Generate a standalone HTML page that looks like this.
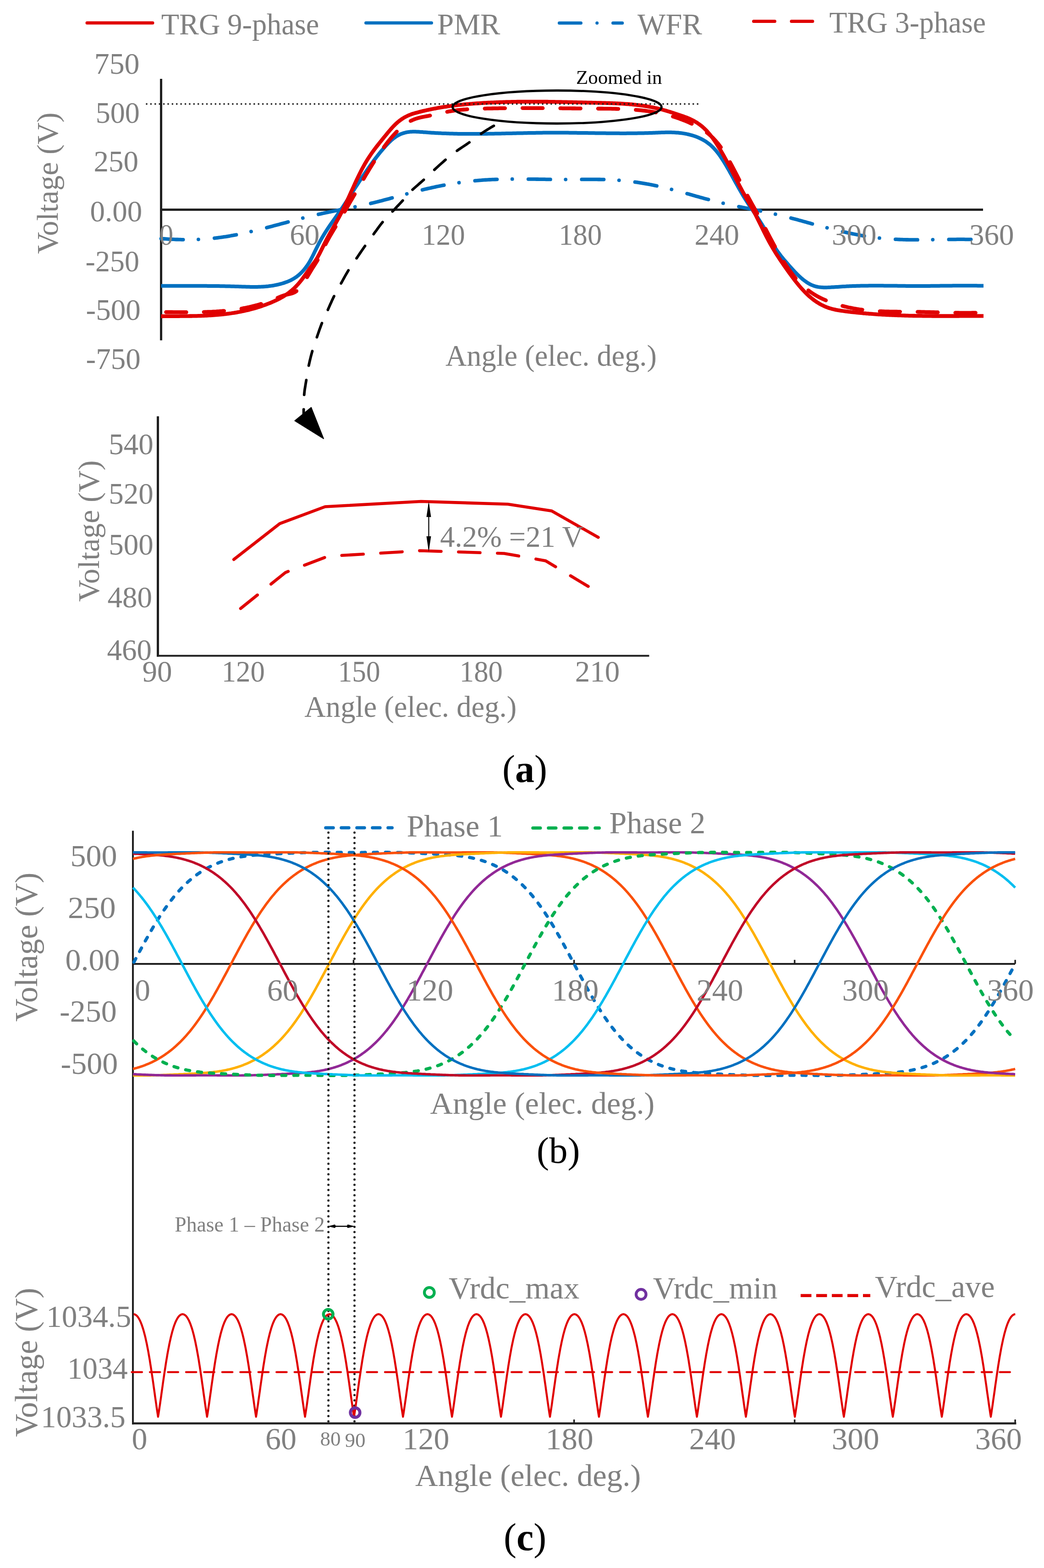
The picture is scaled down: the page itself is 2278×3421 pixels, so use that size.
<!DOCTYPE html>
<html><head><meta charset="utf-8"><title>Figure</title>
<style>
html,body{margin:0;padding:0;background:#fff;}
svg{display:block;}
text{font-family:"Liberation Serif",serif;}
</style></head>
<body>
<svg width="2278" height="3421" viewBox="0 0 2278 3421">
<rect width="2278" height="3421" fill="#fff"/>
<line x1="190" y1="50" x2="333" y2="50" stroke="#e00000" stroke-width="7" stroke-linecap="round"/>
<line x1="798.5" y1="50" x2="941.5" y2="50" stroke="#0070c0" stroke-width="7" stroke-linecap="round"/>
<path d="M1220.4,50.3L1357.8,50.3" fill="none" stroke="#0070c0" stroke-width="7" stroke-linecap="round" stroke-dasharray="47.1 35.2 0.01 34.8"/>
<path d="M1644.5,46.6L1776,46.6" fill="none" stroke="#e00000" stroke-width="7" stroke-linecap="round" stroke-dasharray="46 36.5"/>
<line x1="351.5" y1="172" x2="351.5" y2="742.5" stroke="#202020" stroke-width="5" />
<line x1="349" y1="457.5" x2="2145" y2="457.5" stroke="#202020" stroke-width="5" />
<path d="M351.5,520.6L354.5,520.8L357.5,521.0L360.5,521.2L363.5,521.4L366.5,521.6L369.5,521.8L372.5,521.9L375.5,522.1L378.5,522.2L381.5,522.3L384.5,522.5L387.5,522.5L390.5,522.6L393.5,522.7L396.5,522.8L399.5,522.8L402.5,522.8L405.5,522.8L408.5,522.9L411.5,522.8L414.5,522.8L417.5,522.8L420.5,522.7L423.5,522.6L426.5,522.5L429.5,522.4L432.5,522.3L435.5,522.2L438.5,522.0L441.5,521.9L444.5,521.7L447.5,521.5L450.5,521.2L453.5,521.0L456.5,520.7L459.5,520.5L462.5,520.2L465.5,519.9L468.5,519.5L471.5,519.2L474.5,518.8L477.5,518.4L480.5,518.0L483.5,517.6L486.5,517.2L489.5,516.7L492.5,516.3L495.5,515.8L498.5,515.3L501.5,514.8L504.5,514.2L507.5,513.7L510.5,513.1L513.5,512.6L516.5,512.0L519.5,511.4L522.5,510.8L525.5,510.2L528.5,509.5L531.5,508.9L534.5,508.2L537.5,507.6L540.5,506.9L543.5,506.2L546.5,505.5L549.5,504.8L552.5,504.1L555.5,503.4L558.5,502.6L561.5,501.9L564.5,501.2L567.5,500.4L570.5,499.7L573.5,498.9L576.5,498.1L579.5,497.4L582.5,496.6L585.5,495.8L588.5,495.0L591.5,494.2L594.5,493.4L597.5,492.6L600.5,491.8L603.5,491.0L606.5,490.2L609.5,489.4L612.5,488.6L615.5,487.8L618.5,487.0L621.5,486.2L624.5,485.4L627.5,484.6L630.5,483.8L633.5,483.0L636.5,482.2L639.5,481.4L642.5,480.6L645.5,479.8L648.5,479.0L651.5,478.2L654.5,477.4L657.5,476.7L660.5,475.9L663.5,475.1L666.5,474.4L669.5,473.6L672.5,472.9L675.5,472.2L678.5,471.4L681.5,470.7L684.5,470.0L687.5,469.3L690.5,468.6L693.5,467.9L696.5,467.2L699.5,466.6L702.5,465.9L705.5,465.3L708.5,464.6L711.5,464.0L714.5,463.4L717.5,462.7L720.5,462.1L723.5,461.5L726.5,460.9L729.5,460.3L732.5,459.7L735.5,459.1L738.5,458.5L741.5,457.9L744.5,457.3L747.5,456.7L750.5,456.1L753.5,455.6L756.5,455.0L759.5,454.4L762.5,453.8L765.5,453.2L768.5,452.6L771.5,451.9L774.5,451.3L777.5,450.7L780.5,450.1L783.5,449.5L786.5,448.8L789.5,448.2L792.5,447.5L795.5,446.9L798.5,446.2L801.5,445.5L804.5,444.8L807.5,444.1L810.5,443.4L813.5,442.7L816.5,442.0L819.5,441.2L822.5,440.5L825.5,439.7L828.5,438.9L831.5,438.2L834.5,437.4L837.5,436.6L840.5,435.8L843.5,435.0L846.5,434.2L849.5,433.4L852.5,432.6L855.5,431.8L858.5,431.0L861.5,430.1L864.5,429.3L867.5,428.5L870.5,427.7L873.5,426.9L876.5,426.0L879.5,425.2L882.5,424.4L885.5,423.6L888.5,422.8L891.5,422.0L894.5,421.2L897.5,420.4L900.5,419.6L903.5,418.8L906.5,418.0L909.5,417.3L912.5,416.5L915.5,415.7L918.5,415.0L921.5,414.3L924.5,413.5L927.5,412.8L930.5,412.1L933.5,411.4L936.5,410.7L939.5,410.1L942.5,409.4L945.5,408.7L948.5,408.1L951.5,407.4L954.5,406.8L957.5,406.2L960.5,405.6L963.5,405.0L966.5,404.4L969.5,403.9L972.5,403.3L975.5,402.8L978.5,402.2L981.5,401.7L984.5,401.2L987.5,400.7L990.5,400.2L993.5,399.7L996.5,399.3L999.5,398.8L1002.5,398.4L1005.5,398.0L1008.5,397.5L1011.5,397.2L1014.5,396.8L1017.5,396.4L1020.5,396.0L1023.5,395.7L1026.5,395.3L1029.5,395.0L1032.5,394.7L1035.5,394.4L1038.5,394.1L1041.5,393.9L1044.5,393.6L1047.5,393.4L1050.5,393.2L1053.5,392.9L1056.5,392.7L1059.5,392.5L1062.5,392.4L1065.5,392.2L1068.5,392.0L1071.5,391.9L1074.5,391.7L1077.5,391.6L1080.5,391.5L1083.5,391.4L1086.5,391.3L1089.5,391.2L1092.5,391.1L1095.5,391.0L1098.5,391.0L1101.5,390.9L1104.5,390.8L1107.5,390.8L1110.5,390.8L1113.5,390.7L1116.5,390.7L1119.5,390.7L1122.5,390.7L1125.5,390.7L1128.5,390.6L1131.5,390.7L1134.5,390.7L1137.5,390.7L1140.5,390.7L1143.5,390.7L1146.5,390.7L1149.5,390.7L1152.5,390.8L1155.5,390.8L1158.5,390.8L1161.5,390.9L1164.5,390.9L1167.5,390.9L1170.5,391.0L1173.5,391.0L1176.5,391.1L1179.5,391.1L1182.5,391.1L1185.5,391.2L1188.5,391.2L1191.5,391.3L1194.5,391.3L1197.5,391.4L1200.5,391.4L1203.5,391.4L1206.5,391.5L1209.5,391.5L1212.5,391.5L1215.5,391.5L1218.5,391.6L1221.5,391.6L1224.5,391.6L1227.5,391.6L1230.5,391.6L1233.5,391.6L1236.5,391.6L1239.5,391.6L1242.5,391.6L1245.5,391.6L1248.5,391.6L1251.5,391.5L1254.5,391.5L1257.5,391.5L1260.5,391.5L1263.5,391.5L1266.5,391.4L1269.5,391.4L1272.5,391.4L1275.5,391.4L1278.5,391.4L1281.5,391.4L1284.5,391.4L1287.5,391.4L1290.5,391.4L1293.5,391.4L1296.5,391.4L1299.5,391.4L1302.5,391.4L1305.5,391.5L1308.5,391.5L1311.5,391.6L1314.5,391.6L1317.5,391.7L1320.5,391.8L1323.5,391.9L1326.5,392.0L1329.5,392.1L1332.5,392.2L1335.5,392.4L1338.5,392.6L1341.5,392.7L1344.5,392.9L1347.5,393.1L1350.5,393.3L1353.5,393.6L1356.5,393.8L1359.5,394.1L1362.5,394.4L1365.5,394.7L1368.5,395.0L1371.5,395.4L1374.5,395.7L1377.5,396.1L1380.5,396.5L1383.5,396.9L1386.5,397.3L1389.5,397.7L1392.5,398.2L1395.5,398.6L1398.5,399.1L1401.5,399.6L1404.5,400.1L1407.5,400.6L1410.5,401.1L1413.5,401.7L1416.5,402.2L1419.5,402.8L1422.5,403.4L1425.5,404.0L1428.5,404.6L1431.5,405.2L1434.5,405.9L1437.5,406.5L1440.5,407.2L1443.5,407.9L1446.5,408.6L1449.5,409.3L1452.5,410.0L1455.5,410.7L1458.5,411.4L1461.5,412.2L1464.5,413.0L1467.5,413.7L1470.5,414.5L1473.5,415.3L1476.5,416.1L1479.5,416.9L1482.5,417.7L1485.5,418.6L1488.5,419.4L1491.5,420.2L1494.5,421.1L1497.5,421.9L1500.5,422.8L1503.5,423.6L1506.5,424.5L1509.5,425.3L1512.5,426.2L1515.5,427.0L1518.5,427.9L1521.5,428.7L1524.5,429.6L1527.5,430.4L1530.5,431.2L1533.5,432.1L1536.5,432.9L1539.5,433.7L1542.5,434.5L1545.5,435.3L1548.5,436.1L1551.5,436.9L1554.5,437.7L1557.5,438.5L1560.5,439.2L1563.5,440.0L1566.5,440.7L1569.5,441.4L1572.5,442.1L1575.5,442.9L1578.5,443.5L1581.5,444.2L1584.5,444.9L1587.5,445.6L1590.5,446.2L1593.5,446.9L1596.5,447.5L1599.5,448.2L1602.5,448.8L1605.5,449.4L1608.5,450.0L1611.5,450.7L1614.5,451.3L1617.5,451.9L1620.5,452.5L1623.5,453.1L1626.5,453.7L1629.5,454.3L1632.5,454.9L1635.5,455.5L1638.5,456.0L1641.5,456.6L1644.5,457.2L1647.5,457.8L1650.5,458.4L1653.5,459.0L1656.5,459.6L1659.5,460.3L1662.5,460.9L1665.5,461.5L1668.5,462.1L1671.5,462.8L1674.5,463.4L1677.5,464.0L1680.5,464.7L1683.5,465.4L1686.5,466.0L1689.5,466.7L1692.5,467.4L1695.5,468.1L1698.5,468.8L1701.5,469.6L1704.5,470.3L1707.5,471.0L1710.5,471.8L1713.5,472.5L1716.5,473.3L1719.5,474.1L1722.5,474.9L1725.5,475.6L1728.5,476.4L1731.5,477.2L1734.5,478.0L1737.5,478.8L1740.5,479.6L1743.5,480.5L1746.5,481.3L1749.5,482.1L1752.5,482.9L1755.5,483.7L1758.5,484.6L1761.5,485.4L1764.5,486.2L1767.5,487.0L1770.5,487.9L1773.5,488.7L1776.5,489.5L1779.5,490.3L1782.5,491.1L1785.5,491.9L1788.5,492.7L1791.5,493.6L1794.5,494.4L1797.5,495.1L1800.5,495.9L1803.5,496.7L1806.5,497.5L1809.5,498.3L1812.5,499.0L1815.5,499.8L1818.5,500.5L1821.5,501.3L1824.5,502.0L1827.5,502.7L1830.5,503.5L1833.5,504.2L1836.5,504.9L1839.5,505.6L1842.5,506.2L1845.5,506.9L1848.5,507.6L1851.5,508.2L1854.5,508.9L1857.5,509.5L1860.5,510.1L1863.5,510.7L1866.5,511.3L1869.5,511.9L1872.5,512.4L1875.5,513.0L1878.5,513.5L1881.5,514.1L1884.5,514.6L1887.5,515.1L1890.5,515.6L1893.5,516.0L1896.5,516.5L1899.5,516.9L1902.5,517.3L1905.5,517.8L1908.5,518.1L1911.5,518.5L1914.5,518.9L1917.5,519.2L1920.5,519.6L1923.5,519.9L1926.5,520.2L1929.5,520.4L1932.5,520.7L1935.5,520.9L1938.5,521.2L1941.5,521.4L1944.5,521.6L1947.5,521.8L1950.5,521.9L1953.5,522.1L1956.5,522.2L1959.5,522.4L1962.5,522.5L1965.5,522.6L1968.5,522.7L1971.5,522.8L1974.5,522.9L1977.5,523.0L1980.5,523.0L1983.5,523.1L1986.5,523.1L1989.5,523.2L1992.5,523.2L1995.5,523.2L1998.5,523.2L2001.5,523.2L2004.5,523.2L2007.5,523.2L2010.5,523.2L2013.5,523.2L2016.5,523.2L2019.5,523.1L2022.5,523.1L2025.5,523.1L2028.5,523.0L2031.5,523.0L2034.5,523.0L2037.5,522.9L2040.5,522.9L2043.5,522.8L2046.5,522.8L2049.5,522.7L2052.5,522.7L2055.5,522.6L2058.5,522.6L2061.5,522.5L2064.5,522.5L2067.5,522.4L2070.5,522.4L2073.5,522.4L2076.5,522.3L2079.5,522.3L2082.5,522.3L2085.5,522.3L2088.5,522.2L2091.5,522.2L2094.5,522.2L2097.5,522.2L2100.5,522.2L2103.5,522.2L2106.5,522.3L2109.5,522.3L2112.5,522.3L2115.5,522.4L2118.5,522.4L2121.5,522.5L2124.5,522.5L2127.5,522.6L2130.5,522.7L2133.5,522.8L2136.5,522.9L2139.5,523.1L2142.5,523.2L2145.5,523.3L2146.0,523.4" fill="none" stroke="#0070c0" stroke-width="7.8" stroke-linecap="round" stroke-linejoin="round" stroke-dasharray="48.2 33.27 0.01 35.06"/>
<path d="M351.5,623.8L354.5,623.8L357.5,623.8L360.5,623.8L363.5,623.8L366.5,623.8L369.5,623.8L372.5,623.8L375.5,623.8L378.5,623.8L381.5,623.8L384.5,623.8L387.5,623.8L390.5,623.7L393.5,623.7L396.5,623.7L399.5,623.7L402.5,623.7L405.5,623.7L408.5,623.7L411.5,623.7L414.5,623.7L417.5,623.7L420.5,623.7L423.5,623.7L426.5,623.7L429.5,623.7L432.5,623.7L435.5,623.8L438.5,623.8L441.5,623.8L444.5,623.8L447.5,623.8L450.5,623.8L453.5,623.9L456.5,623.9L459.5,623.9L462.5,623.9L465.5,624.0L468.5,624.0L471.5,624.0L474.5,624.1L477.5,624.1L480.5,624.2L483.5,624.2L486.5,624.3L489.5,624.3L492.5,624.4L495.5,624.5L498.5,624.5L501.5,624.6L504.5,624.7L507.5,624.8L510.5,624.8L513.5,624.9L516.5,625.0L519.5,625.1L522.5,625.2L525.5,625.3L528.5,625.4L531.5,625.5L534.5,625.6L537.5,625.7L540.5,625.8L543.5,625.8L546.5,625.9L549.5,625.9L552.5,625.9L555.5,625.9L558.5,625.9L561.5,625.9L564.5,625.8L567.5,625.7L570.5,625.6L573.5,625.4L576.5,625.2L579.5,625.0L582.5,624.7L585.5,624.4L588.5,624.0L591.5,623.6L594.5,623.2L597.5,622.7L600.5,622.1L603.5,621.5L606.5,620.8L609.5,620.1L612.5,619.3L615.5,618.5L618.5,617.6L621.5,616.6L624.5,615.5L627.5,614.4L630.5,613.2L633.5,611.8L636.5,610.3L639.5,608.7L642.5,606.8L645.5,604.9L648.5,602.7L651.5,600.3L654.5,597.7L657.5,594.8L660.5,591.7L663.5,588.3L666.5,584.5L669.5,580.5L672.5,576.0L675.5,571.1L678.5,565.7L681.5,560.0L684.5,554.0L687.5,547.8L690.5,541.7L693.5,535.7L696.5,529.9L699.5,524.4L702.5,519.1L705.5,514.0L708.5,509.1L711.5,504.3L714.5,499.7L717.5,495.2L720.5,490.8L723.5,486.5L726.5,482.2L729.5,478.0L732.5,473.8L735.5,469.6L738.5,465.3L741.5,461.0L744.5,456.6L747.5,452.2L750.5,447.7L753.5,443.2L756.5,438.6L759.5,434.0L762.5,429.4L765.5,424.7L768.5,420.1L771.5,415.4L774.5,410.7L777.5,406.1L780.5,401.5L783.5,396.8L786.5,392.3L789.5,387.7L792.5,383.2L795.5,378.8L798.5,374.4L801.5,370.0L804.5,365.8L807.5,361.5L810.5,357.4L813.5,353.3L816.5,349.2L819.5,345.3L822.5,341.4L825.5,337.5L828.5,333.8L831.5,330.1L834.5,326.6L837.5,323.1L840.5,319.7L843.5,316.4L846.5,313.2L849.5,310.2L852.5,307.3L855.5,304.6L858.5,302.1L861.5,299.9L864.5,297.8L867.5,296.0L870.5,294.4L873.5,292.9L876.5,291.7L879.5,290.7L882.5,289.8L885.5,289.0L888.5,288.4L891.5,288.0L894.5,287.6L897.5,287.4L900.5,287.3L903.5,287.2L906.5,287.3L909.5,287.4L912.5,287.5L915.5,287.7L918.5,287.9L921.5,288.1L924.5,288.4L927.5,288.6L930.5,288.8L933.5,289.1L936.5,289.3L939.5,289.5L942.5,289.7L945.5,289.8L948.5,290.0L951.5,290.2L954.5,290.3L957.5,290.5L960.5,290.6L963.5,290.8L966.5,290.9L969.5,291.0L972.5,291.1L975.5,291.2L978.5,291.3L981.5,291.4L984.5,291.5L987.5,291.6L990.5,291.7L993.5,291.7L996.5,291.8L999.5,291.9L1002.5,291.9L1005.5,291.9L1008.5,292.0L1011.5,292.0L1014.5,292.0L1017.5,292.1L1020.5,292.1L1023.5,292.1L1026.5,292.1L1029.5,292.1L1032.5,292.1L1035.5,292.1L1038.5,292.1L1041.5,292.1L1044.5,292.1L1047.5,292.0L1050.5,292.0L1053.5,292.0L1056.5,292.0L1059.5,291.9L1062.5,291.9L1065.5,291.8L1068.5,291.8L1071.5,291.8L1074.5,291.7L1077.5,291.7L1080.5,291.6L1083.5,291.6L1086.5,291.5L1089.5,291.4L1092.5,291.4L1095.5,291.3L1098.5,291.3L1101.5,291.2L1104.5,291.1L1107.5,291.1L1110.5,291.0L1113.5,291.0L1116.5,290.9L1119.5,290.8L1122.5,290.8L1125.5,290.7L1128.5,290.6L1131.5,290.6L1134.5,290.5L1137.5,290.4L1140.5,290.4L1143.5,290.3L1146.5,290.3L1149.5,290.2L1152.5,290.1L1155.5,290.1L1158.5,290.0L1161.5,290.0L1164.5,289.9L1167.5,289.9L1170.5,289.8L1173.5,289.8L1176.5,289.8L1179.5,289.7L1182.5,289.7L1185.5,289.6L1188.5,289.6L1191.5,289.6L1194.5,289.6L1197.5,289.6L1200.5,289.5L1203.5,289.5L1206.5,289.5L1209.5,289.5L1212.5,289.5L1215.5,289.5L1218.5,289.5L1221.5,289.5L1224.5,289.5L1227.5,289.6L1230.5,289.6L1233.5,289.6L1236.5,289.6L1239.5,289.6L1242.5,289.7L1245.5,289.7L1248.5,289.7L1251.5,289.8L1254.5,289.8L1257.5,289.8L1260.5,289.9L1263.5,289.9L1266.5,289.9L1269.5,290.0L1272.5,290.0L1275.5,290.1L1278.5,290.1L1281.5,290.1L1284.5,290.2L1287.5,290.2L1290.5,290.3L1293.5,290.3L1296.5,290.3L1299.5,290.4L1302.5,290.4L1305.5,290.5L1308.5,290.5L1311.5,290.5L1314.5,290.6L1317.5,290.6L1320.5,290.6L1323.5,290.7L1326.5,290.7L1329.5,290.7L1332.5,290.7L1335.5,290.8L1338.5,290.8L1341.5,290.8L1344.5,290.8L1347.5,290.8L1350.5,290.8L1353.5,290.9L1356.5,290.9L1359.5,290.9L1362.5,290.9L1365.5,290.9L1368.5,290.8L1371.5,290.8L1374.5,290.8L1377.5,290.8L1380.5,290.8L1383.5,290.7L1386.5,290.7L1389.5,290.7L1392.5,290.6L1395.5,290.6L1398.5,290.5L1401.5,290.5L1404.5,290.4L1407.5,290.3L1410.5,290.3L1413.5,290.2L1416.5,290.1L1419.5,290.0L1422.5,289.9L1425.5,289.8L1428.5,289.7L1431.5,289.6L1434.5,289.5L1437.5,289.3L1440.5,289.2L1443.5,289.1L1446.5,289.0L1449.5,288.9L1452.5,288.8L1455.5,288.8L1458.5,288.8L1461.5,288.8L1464.5,288.8L1467.5,288.9L1470.5,289.0L1473.5,289.2L1476.5,289.4L1479.5,289.6L1482.5,289.9L1485.5,290.2L1488.5,290.6L1491.5,291.1L1494.5,291.6L1497.5,292.2L1500.5,292.8L1503.5,293.5L1506.5,294.3L1509.5,295.1L1512.5,296.0L1515.5,297.0L1518.5,298.1L1521.5,299.2L1524.5,300.5L1527.5,301.8L1530.5,303.3L1533.5,304.9L1536.5,306.6L1539.5,308.4L1542.5,310.5L1545.5,312.7L1548.5,315.0L1551.5,317.6L1554.5,320.4L1557.5,323.4L1560.5,326.7L1563.5,330.2L1566.5,333.9L1569.5,338.0L1572.5,342.2L1575.5,346.7L1578.5,351.4L1581.5,356.2L1584.5,361.3L1587.5,366.4L1590.5,371.6L1593.5,377.0L1596.5,382.4L1599.5,387.8L1602.5,393.3L1605.5,398.7L1608.5,404.1L1611.5,409.5L1614.5,414.8L1617.5,420.0L1620.5,425.1L1623.5,430.1L1626.5,434.9L1629.5,439.6L1632.5,444.2L1635.5,448.7L1638.5,453.2L1641.5,457.6L1644.5,462.0L1647.5,466.4L1650.5,470.8L1653.5,475.3L1656.5,479.9L1659.5,484.6L1662.5,489.4L1665.5,494.3L1668.5,499.5L1671.5,504.7L1674.5,510.2L1677.5,515.7L1680.5,521.3L1683.5,526.8L1686.5,532.2L1689.5,537.3L1692.5,542.2L1695.5,546.7L1698.5,551.0L1701.5,555.0L1704.5,558.9L1707.5,562.6L1710.5,566.2L1713.5,569.7L1716.5,573.2L1719.5,576.7L1722.5,580.1L1725.5,583.5L1728.5,586.8L1731.5,590.0L1734.5,593.2L1737.5,596.3L1740.5,599.3L1743.5,602.2L1746.5,604.9L1749.5,607.6L1752.5,610.1L1755.5,612.4L1758.5,614.6L1761.5,616.6L1764.5,618.5L1767.5,620.1L1770.5,621.6L1773.5,622.8L1776.5,623.9L1779.5,624.8L1782.5,625.5L1785.5,626.1L1788.5,626.5L1791.5,626.8L1794.5,627.0L1797.5,627.2L1800.5,627.2L1803.5,627.2L1806.5,627.1L1809.5,626.9L1812.5,626.8L1815.5,626.6L1818.5,626.4L1821.5,626.2L1824.5,626.0L1827.5,625.9L1830.5,625.7L1833.5,625.5L1836.5,625.3L1839.5,625.1L1842.5,624.9L1845.5,624.8L1848.5,624.6L1851.5,624.5L1854.5,624.3L1857.5,624.2L1860.5,624.1L1863.5,624.0L1866.5,623.9L1869.5,623.8L1872.5,623.7L1875.5,623.7L1878.5,623.6L1881.5,623.5L1884.5,623.5L1887.5,623.4L1890.5,623.4L1893.5,623.4L1896.5,623.3L1899.5,623.3L1902.5,623.3L1905.5,623.3L1908.5,623.3L1911.5,623.3L1914.5,623.3L1917.5,623.3L1920.5,623.3L1923.5,623.3L1926.5,623.3L1929.5,623.4L1932.5,623.4L1935.5,623.4L1938.5,623.4L1941.5,623.5L1944.5,623.5L1947.5,623.5L1950.5,623.6L1953.5,623.6L1956.5,623.6L1959.5,623.7L1962.5,623.7L1965.5,623.7L1968.5,623.8L1971.5,623.8L1974.5,623.8L1977.5,623.9L1980.5,623.9L1983.5,623.9L1986.5,623.9L1989.5,623.9L1992.5,624.0L1995.5,624.0L1998.5,624.0L2001.5,624.0L2004.5,624.0L2007.5,624.0L2010.5,624.0L2013.5,624.0L2016.5,623.9L2019.5,623.9L2022.5,623.9L2025.5,623.9L2028.5,623.9L2031.5,623.8L2034.5,623.8L2037.5,623.8L2040.5,623.8L2043.5,623.7L2046.5,623.7L2049.5,623.7L2052.5,623.6L2055.5,623.6L2058.5,623.6L2061.5,623.5L2064.5,623.5L2067.5,623.5L2070.5,623.4L2073.5,623.4L2076.5,623.4L2079.5,623.3L2082.5,623.3L2085.5,623.3L2088.5,623.3L2091.5,623.3L2094.5,623.2L2097.5,623.2L2100.5,623.2L2103.5,623.2L2106.5,623.2L2109.5,623.2L2112.5,623.2L2115.5,623.2L2118.5,623.2L2121.5,623.2L2124.5,623.3L2127.5,623.3L2130.5,623.3L2133.5,623.4L2136.5,623.4L2139.5,623.5L2142.5,623.5L2145.5,623.6L2146.0,623.6" fill="none" stroke="#0070c0" stroke-width="8" stroke-linejoin="round"/>
<path d="M351.5,690.0L354.5,690.0L357.5,689.9L360.5,689.9L363.5,689.9L366.5,689.9L369.5,689.8L372.5,689.8L375.5,689.8L378.5,689.8L381.5,689.8L384.5,689.8L387.5,689.8L390.5,689.8L393.5,689.7L396.5,689.7L399.5,689.7L402.5,689.7L405.5,689.7L408.5,689.6L411.5,689.6L414.5,689.5L417.5,689.5L420.5,689.4L423.5,689.4L426.5,689.3L429.5,689.3L432.5,689.2L435.5,689.1L438.5,689.0L441.5,688.9L444.5,688.8L447.5,688.6L450.5,688.5L453.5,688.3L456.5,688.2L459.5,688.0L462.5,687.8L465.5,687.6L468.5,687.4L471.5,687.2L474.5,686.9L477.5,686.6L480.5,686.4L483.5,686.1L486.5,685.8L489.5,685.4L492.5,685.1L495.5,684.7L498.5,684.3L501.5,683.9L504.5,683.5L507.5,683.0L510.5,682.6L513.5,682.1L516.5,681.6L519.5,681.0L522.5,680.5L525.5,679.9L528.5,679.3L531.5,678.7L534.5,678.0L537.5,677.3L540.5,676.6L543.5,675.9L546.5,675.1L549.5,674.3L552.5,673.5L555.5,672.7L558.5,671.8L561.5,670.9L564.5,669.9L567.5,669.0L570.5,668.0L573.5,666.9L576.5,665.9L579.5,664.8L582.5,663.7L585.5,662.5L588.5,661.3L591.5,660.1L594.5,658.8L597.5,657.5L600.5,656.1L603.5,654.8L606.5,653.3L609.5,651.8L612.5,650.2L615.5,648.5L618.5,646.7L621.5,644.8L624.5,642.8L627.5,640.7L630.5,638.5L633.5,636.1L636.5,633.6L639.5,631.0L642.5,628.2L645.5,625.2L648.5,622.0L651.5,618.7L654.5,615.1L657.5,611.4L660.5,607.4L663.5,603.3L666.5,599.1L669.5,594.8L672.5,590.5L675.5,586.2L678.5,582.1L681.5,578.1L684.5,574.1L687.5,569.9L690.5,565.3L693.5,560.3L696.5,554.8L699.5,548.9L702.5,542.8L705.5,536.7L708.5,530.6L711.5,524.7L714.5,519.0L717.5,513.4L720.5,508.0L723.5,502.7L726.5,497.5L729.5,492.2L732.5,487.0L735.5,481.6L738.5,476.2L741.5,470.6L744.5,464.9L747.5,458.9L750.5,452.8L753.5,446.5L756.5,440.0L759.5,433.5L762.5,426.9L765.5,420.3L768.5,413.7L771.5,407.1L774.5,400.5L777.5,394.0L780.5,387.7L783.5,381.5L786.5,375.5L789.5,369.7L792.5,364.1L795.5,358.7L798.5,353.6L801.5,348.7L804.5,344.0L807.5,339.4L810.5,335.0L813.5,330.8L816.5,326.7L819.5,322.8L822.5,318.9L825.5,315.1L828.5,311.3L831.5,307.6L834.5,303.9L837.5,300.2L840.5,296.5L843.5,292.8L846.5,289.2L849.5,285.6L852.5,282.1L855.5,278.8L858.5,275.5L861.5,272.5L864.5,269.6L867.5,266.9L870.5,264.4L873.5,262.1L876.5,260.0L879.5,258.0L882.5,256.2L885.5,254.6L888.5,253.1L891.5,251.7L894.5,250.5L897.5,249.3L900.5,248.3L903.5,247.4L906.5,246.5L909.5,245.7L912.5,244.9L915.5,244.1L918.5,243.4L921.5,242.6L924.5,241.9L927.5,241.2L930.5,240.5L933.5,239.9L936.5,239.2L939.5,238.6L942.5,238.0L945.5,237.4L948.5,236.8L951.5,236.3L954.5,235.7L957.5,235.2L960.5,234.7L963.5,234.2L966.5,233.7L969.5,233.2L972.5,232.8L975.5,232.3L978.5,231.9L981.5,231.5L984.5,231.1L987.5,230.7L990.5,230.3L993.5,229.9L996.5,229.6L999.5,229.2L1002.5,228.9L1005.5,228.6L1008.5,228.3L1011.5,228.0L1014.5,227.7L1017.5,227.4L1020.5,227.1L1023.5,226.9L1026.5,226.6L1029.5,226.4L1032.5,226.1L1035.5,225.9L1038.5,225.7L1041.5,225.5L1044.5,225.3L1047.5,225.1L1050.5,224.9L1053.5,224.7L1056.5,224.5L1059.5,224.4L1062.5,224.2L1065.5,224.0L1068.5,223.9L1071.5,223.7L1074.5,223.6L1077.5,223.5L1080.5,223.3L1083.5,223.2L1086.5,223.1L1089.5,223.0L1092.5,222.9L1095.5,222.8L1098.5,222.7L1101.5,222.6L1104.5,222.5L1107.5,222.4L1110.5,222.4L1113.5,222.3L1116.5,222.2L1119.5,222.2L1122.5,222.1L1125.5,222.1L1128.5,222.0L1131.5,222.0L1134.5,222.0L1137.5,221.9L1140.5,221.9L1143.5,221.9L1146.5,221.9L1149.5,221.9L1152.5,221.8L1155.5,221.8L1158.5,221.8L1161.5,221.8L1164.5,221.8L1167.5,221.8L1170.5,221.9L1173.5,221.9L1176.5,221.9L1179.5,221.9L1182.5,221.9L1185.5,222.0L1188.5,222.0L1191.5,222.0L1194.5,222.0L1197.5,222.1L1200.5,222.1L1203.5,222.2L1206.5,222.2L1209.5,222.2L1212.5,222.3L1215.5,222.3L1218.5,222.4L1221.5,222.5L1224.5,222.5L1227.5,222.6L1230.5,222.6L1233.5,222.7L1236.5,222.7L1239.5,222.8L1242.5,222.9L1245.5,222.9L1248.5,223.0L1251.5,223.1L1254.5,223.1L1257.5,223.2L1260.5,223.3L1263.5,223.3L1266.5,223.4L1269.5,223.5L1272.5,223.6L1275.5,223.6L1278.5,223.7L1281.5,223.8L1284.5,223.8L1287.5,223.9L1290.5,224.0L1293.5,224.1L1296.5,224.1L1299.5,224.2L1302.5,224.3L1305.5,224.3L1308.5,224.4L1311.5,224.5L1314.5,224.6L1317.5,224.6L1320.5,224.7L1323.5,224.8L1326.5,224.9L1329.5,225.0L1332.5,225.1L1335.5,225.2L1338.5,225.3L1341.5,225.4L1344.5,225.6L1347.5,225.7L1350.5,225.9L1353.5,226.0L1356.5,226.2L1359.5,226.4L1362.5,226.6L1365.5,226.8L1368.5,227.0L1371.5,227.2L1374.5,227.5L1377.5,227.7L1380.5,228.0L1383.5,228.3L1386.5,228.6L1389.5,229.0L1392.5,229.3L1395.5,229.7L1398.5,230.1L1401.5,230.5L1404.5,230.9L1407.5,231.4L1410.5,231.9L1413.5,232.4L1416.5,232.9L1419.5,233.5L1422.5,234.0L1425.5,234.6L1428.5,235.3L1431.5,235.9L1434.5,236.6L1437.5,237.3L1440.5,238.1L1443.5,238.8L1446.5,239.6L1449.5,240.5L1452.5,241.3L1455.5,242.2L1458.5,243.1L1461.5,244.0L1464.5,245.0L1467.5,245.9L1470.5,246.9L1473.5,247.9L1476.5,248.9L1479.5,249.9L1482.5,250.9L1485.5,251.9L1488.5,252.9L1491.5,254.0L1494.5,255.1L1497.5,256.2L1500.5,257.4L1503.5,258.6L1506.5,260.0L1509.5,261.4L1512.5,262.9L1515.5,264.6L1518.5,266.3L1521.5,268.2L1524.5,270.3L1527.5,272.4L1530.5,274.8L1533.5,277.3L1536.5,280.0L1539.5,282.9L1542.5,286.0L1545.5,289.4L1548.5,292.9L1551.5,296.7L1554.5,300.6L1557.5,304.8L1560.5,309.2L1563.5,313.7L1566.5,318.4L1569.5,323.2L1572.5,328.2L1575.5,333.4L1578.5,338.6L1581.5,344.0L1584.5,349.4L1587.5,355.0L1590.5,360.6L1593.5,366.3L1596.5,372.0L1599.5,377.9L1602.5,383.7L1605.5,389.5L1608.5,395.3L1611.5,401.1L1614.5,406.9L1617.5,412.5L1620.5,418.1L1623.5,423.6L1626.5,428.9L1629.5,434.1L1632.5,439.3L1635.5,444.5L1638.5,449.8L1641.5,455.1L1644.5,460.7L1647.5,466.4L1650.5,472.3L1653.5,478.3L1656.5,484.3L1659.5,490.4L1662.5,496.5L1665.5,502.6L1668.5,508.6L1671.5,514.6L1674.5,520.4L1677.5,526.0L1680.5,531.5L1683.5,536.8L1686.5,541.9L1689.5,546.9L1692.5,551.8L1695.5,556.5L1698.5,561.1L1701.5,565.7L1704.5,570.1L1707.5,574.5L1710.5,578.8L1713.5,583.1L1716.5,587.4L1719.5,591.6L1722.5,595.8L1725.5,599.9L1728.5,604.0L1731.5,607.9L1734.5,611.9L1737.5,615.7L1740.5,619.4L1743.5,623.1L1746.5,626.6L1749.5,630.0L1752.5,633.3L1755.5,636.5L1758.5,639.6L1761.5,642.5L1764.5,645.3L1767.5,647.9L1770.5,650.4L1773.5,652.8L1776.5,655.1L1779.5,657.2L1782.5,659.2L1785.5,661.1L1788.5,662.9L1791.5,664.6L1794.5,666.1L1797.5,667.5L1800.5,668.9L1803.5,670.1L1806.5,671.2L1809.5,672.2L1812.5,673.1L1815.5,674.0L1818.5,674.7L1821.5,675.4L1824.5,676.1L1827.5,676.6L1830.5,677.2L1833.5,677.7L1836.5,678.1L1839.5,678.5L1842.5,678.9L1845.5,679.3L1848.5,679.7L1851.5,680.1L1854.5,680.4L1857.5,680.8L1860.5,681.1L1863.5,681.4L1866.5,681.7L1869.5,682.0L1872.5,682.4L1875.5,682.6L1878.5,682.9L1881.5,683.2L1884.5,683.5L1887.5,683.7L1890.5,684.0L1893.5,684.2L1896.5,684.5L1899.5,684.7L1902.5,684.9L1905.5,685.2L1908.5,685.4L1911.5,685.6L1914.5,685.8L1917.5,686.0L1920.5,686.2L1923.5,686.3L1926.5,686.5L1929.5,686.7L1932.5,686.8L1935.5,687.0L1938.5,687.1L1941.5,687.3L1944.5,687.4L1947.5,687.6L1950.5,687.7L1953.5,687.8L1956.5,687.9L1959.5,688.0L1962.5,688.1L1965.5,688.2L1968.5,688.3L1971.5,688.4L1974.5,688.5L1977.5,688.6L1980.5,688.7L1983.5,688.8L1986.5,688.8L1989.5,688.9L1992.5,689.0L1995.5,689.0L1998.5,689.1L2001.5,689.1L2004.5,689.2L2007.5,689.2L2010.5,689.2L2013.5,689.3L2016.5,689.3L2019.5,689.3L2022.5,689.4L2025.5,689.4L2028.5,689.4L2031.5,689.4L2034.5,689.5L2037.5,689.5L2040.5,689.5L2043.5,689.5L2046.5,689.5L2049.5,689.5L2052.5,689.5L2055.5,689.5L2058.5,689.5L2061.5,689.5L2064.5,689.5L2067.5,689.5L2070.5,689.5L2073.5,689.5L2076.5,689.5L2079.5,689.5L2082.5,689.5L2085.5,689.5L2088.5,689.5L2091.5,689.5L2094.5,689.4L2097.5,689.4L2100.5,689.4L2103.5,689.4L2106.5,689.4L2109.5,689.4L2112.5,689.4L2115.5,689.4L2118.5,689.4L2121.5,689.4L2124.5,689.3L2127.5,689.3L2130.5,689.3L2133.5,689.3L2136.5,689.3L2139.5,689.3L2142.5,689.3L2145.5,689.3L2146.0,689.3" fill="none" stroke="#e00000" stroke-width="8.3" stroke-linejoin="round"/>
<path d="M351.5,681.0L354.5,681.0L357.5,681.0L360.5,681.0L363.5,681.0L366.5,681.0L369.5,681.0L372.5,681.0L375.5,681.0L378.5,681.1L381.5,681.1L384.5,681.1L387.5,681.1L390.5,681.1L393.5,681.1L396.5,681.2L399.5,681.2L402.5,681.2L405.5,681.2L408.5,681.2L411.5,681.2L414.5,681.2L417.5,681.2L420.5,681.2L423.5,681.2L426.5,681.1L429.5,681.1L432.5,681.1L435.5,681.0L438.5,681.0L441.5,680.9L444.5,680.8L447.5,680.7L450.5,680.6L453.5,680.5L456.5,680.4L459.5,680.3L462.5,680.2L465.5,680.0L468.5,679.8L471.5,679.7L474.5,679.5L477.5,679.3L480.5,679.0L483.5,678.8L486.5,678.5L489.5,678.3L492.5,678.0L495.5,677.7L498.5,677.3L501.5,677.0L504.5,676.6L507.5,676.3L510.5,675.9L513.5,675.4L516.5,675.0L519.5,674.5L522.5,674.0L525.5,673.5L528.5,673.0L531.5,672.4L534.5,671.9L537.5,671.3L540.5,670.6L543.5,670.0L546.5,669.3L549.5,668.6L552.5,667.8L555.5,667.1L558.5,666.3L561.5,665.5L564.5,664.6L567.5,663.7L570.5,662.8L573.5,661.9L576.5,660.9L579.5,659.9L582.5,658.9L585.5,657.8L588.5,656.7L591.5,655.6L594.5,654.4L597.5,653.2L600.5,652.0L603.5,650.8L606.5,649.5L609.5,648.2L612.5,647.0L615.5,645.9L618.5,644.8L621.5,643.9L624.5,643.0L627.5,642.4L630.5,641.7L633.5,641.1L636.5,640.2L639.5,639.2L642.5,637.9L645.5,636.1L648.5,633.9L651.5,631.1L654.5,627.7L657.5,623.9L660.5,619.7L663.5,615.2L666.5,610.5L669.5,605.6L672.5,600.6L675.5,595.6L678.5,590.6L681.5,585.7L684.5,581.0L687.5,576.3L690.5,571.6L693.5,566.6L696.5,561.2L699.5,555.3L702.5,549.1L705.5,542.8L708.5,536.6L711.5,530.6L714.5,525.0L717.5,519.5L720.5,514.2L723.5,509.1L726.5,504.1L729.5,499.2L732.5,494.3L735.5,489.4L738.5,484.4L741.5,479.4L744.5,474.4L747.5,469.3L750.5,464.2L753.5,459.1L756.5,453.9L759.5,448.7L762.5,443.5L765.5,438.3L768.5,433.1L771.5,427.9L774.5,422.7L777.5,417.5L780.5,412.3L783.5,407.1L786.5,401.9L789.5,396.8L792.5,391.7L795.5,386.6L798.5,381.5L801.5,376.5L804.5,371.6L807.5,366.7L810.5,361.8L813.5,357.1L816.5,352.3L819.5,347.7L822.5,343.1L825.5,338.6L828.5,334.1L831.5,329.8L834.5,325.5L837.5,321.3L840.5,317.3L843.5,313.3L846.5,309.4L849.5,305.6L852.5,302.0L855.5,298.4L858.5,295.0L861.5,291.7L864.5,288.5L867.5,285.5L870.5,282.6L873.5,279.8L876.5,277.2L879.5,274.7L882.5,272.4L885.5,270.2L888.5,268.2L891.5,266.3L894.5,264.6L897.5,263.1L900.5,261.8L903.5,260.5L906.5,259.4L909.5,258.4L912.5,257.6L915.5,256.8L918.5,256.0L921.5,255.4L924.5,254.8L927.5,254.2L930.5,253.6L933.5,253.1L936.5,252.5L939.5,252.0L942.5,251.4L945.5,250.7L948.5,250.1L951.5,249.4L954.5,248.7L957.5,248.0L960.5,247.3L963.5,246.6L966.5,245.9L969.5,245.2L972.5,244.6L975.5,244.0L978.5,243.4L981.5,242.8L984.5,242.3L987.5,241.9L990.5,241.4L993.5,241.0L996.5,240.6L999.5,240.2L1002.5,239.9L1005.5,239.6L1008.5,239.3L1011.5,239.0L1014.5,238.8L1017.5,238.6L1020.5,238.4L1023.5,238.2L1026.5,238.0L1029.5,237.8L1032.5,237.7L1035.5,237.6L1038.5,237.4L1041.5,237.3L1044.5,237.2L1047.5,237.1L1050.5,237.1L1053.5,237.0L1056.5,236.9L1059.5,236.8L1062.5,236.7L1065.5,236.7L1068.5,236.6L1071.5,236.6L1074.5,236.5L1077.5,236.4L1080.5,236.4L1083.5,236.3L1086.5,236.3L1089.5,236.2L1092.5,236.2L1095.5,236.2L1098.5,236.1L1101.5,236.1L1104.5,236.1L1107.5,236.0L1110.5,236.0L1113.5,236.0L1116.5,235.9L1119.5,235.9L1122.5,235.9L1125.5,235.9L1128.5,235.9L1131.5,235.9L1134.5,235.9L1137.5,235.9L1140.5,235.8L1143.5,235.8L1146.5,235.8L1149.5,235.8L1152.5,235.8L1155.5,235.8L1158.5,235.8L1161.5,235.9L1164.5,235.9L1167.5,235.9L1170.5,235.9L1173.5,235.9L1176.5,235.9L1179.5,235.9L1182.5,235.9L1185.5,236.0L1188.5,236.0L1191.5,236.0L1194.5,236.0L1197.5,236.0L1200.5,236.0L1203.5,236.1L1206.5,236.1L1209.5,236.1L1212.5,236.1L1215.5,236.2L1218.5,236.2L1221.5,236.2L1224.5,236.2L1227.5,236.3L1230.5,236.3L1233.5,236.3L1236.5,236.4L1239.5,236.4L1242.5,236.4L1245.5,236.4L1248.5,236.5L1251.5,236.5L1254.5,236.5L1257.5,236.6L1260.5,236.6L1263.5,236.6L1266.5,236.6L1269.5,236.7L1272.5,236.7L1275.5,236.7L1278.5,236.8L1281.5,236.8L1284.5,236.8L1287.5,236.8L1290.5,236.9L1293.5,236.9L1296.5,236.9L1299.5,236.9L1302.5,236.9L1305.5,237.0L1308.5,237.0L1311.5,237.0L1314.5,237.0L1317.5,237.1L1320.5,237.1L1323.5,237.1L1326.5,237.2L1329.5,237.2L1332.5,237.2L1335.5,237.3L1338.5,237.3L1341.5,237.4L1344.5,237.5L1347.5,237.6L1350.5,237.6L1353.5,237.7L1356.5,237.8L1359.5,238.0L1362.5,238.1L1365.5,238.2L1368.5,238.4L1371.5,238.5L1374.5,238.7L1377.5,238.9L1380.5,239.1L1383.5,239.3L1386.5,239.6L1389.5,239.8L1392.5,240.1L1395.5,240.4L1398.5,240.7L1401.5,241.0L1404.5,241.3L1407.5,241.7L1410.5,242.1L1413.5,242.5L1416.5,242.9L1419.5,243.4L1422.5,243.8L1425.5,244.3L1428.5,244.8L1431.5,245.4L1434.5,246.0L1437.5,246.5L1440.5,247.2L1443.5,247.8L1446.5,248.5L1449.5,249.2L1452.5,249.9L1455.5,250.7L1458.5,251.5L1461.5,252.3L1464.5,253.1L1467.5,254.0L1470.5,254.9L1473.5,255.9L1476.5,256.9L1479.5,257.9L1482.5,258.9L1485.5,260.0L1488.5,261.1L1491.5,262.3L1494.5,263.5L1497.5,264.7L1500.5,266.0L1503.5,267.3L1506.5,268.7L1509.5,270.1L1512.5,271.5L1515.5,273.0L1518.5,274.5L1521.5,276.1L1524.5,277.7L1527.5,279.4L1530.5,281.2L1533.5,283.1L1536.5,285.1L1539.5,287.2L1542.5,289.5L1545.5,291.8L1548.5,294.3L1551.5,297.0L1554.5,299.8L1557.5,302.8L1560.5,306.0L1563.5,309.4L1566.5,312.9L1569.5,316.7L1572.5,320.7L1575.5,324.9L1578.5,329.4L1581.5,334.1L1584.5,339.1L1587.5,344.2L1590.5,349.5L1593.5,354.9L1596.5,360.5L1599.5,366.2L1602.5,371.9L1605.5,377.7L1608.5,383.5L1611.5,389.4L1614.5,395.2L1617.5,401.1L1620.5,406.9L1623.5,412.7L1626.5,418.4L1629.5,424.1L1632.5,429.7L1635.5,435.2L1638.5,440.7L1641.5,446.2L1644.5,451.6L1647.5,457.0L1650.5,462.4L1653.5,467.8L1656.5,473.3L1659.5,478.8L1662.5,484.4L1665.5,490.1L1668.5,495.8L1671.5,501.5L1674.5,507.2L1677.5,512.9L1680.5,518.6L1683.5,524.3L1686.5,529.9L1689.5,535.5L1692.5,541.0L1695.5,546.4L1698.5,551.6L1701.5,556.8L1704.5,561.8L1707.5,566.7L1710.5,571.5L1713.5,576.2L1716.5,580.7L1719.5,585.1L1722.5,589.4L1725.5,593.5L1728.5,597.5L1731.5,601.4L1734.5,605.1L1737.5,608.6L1740.5,612.0L1743.5,615.3L1746.5,618.4L1749.5,621.3L1752.5,624.1L1755.5,626.8L1758.5,629.4L1761.5,631.8L1764.5,634.1L1767.5,636.3L1770.5,638.4L1773.5,640.4L1776.5,642.3L1779.5,644.1L1782.5,645.8L1785.5,647.5L1788.5,649.0L1791.5,650.5L1794.5,651.9L1797.5,653.3L1800.5,654.6L1803.5,655.9L1806.5,657.1L1809.5,658.2L1812.5,659.4L1815.5,660.5L1818.5,661.5L1821.5,662.5L1824.5,663.5L1827.5,664.4L1830.5,665.3L1833.5,666.2L1836.5,667.0L1839.5,667.8L1842.5,668.6L1845.5,669.3L1848.5,670.0L1851.5,670.7L1854.5,671.3L1857.5,671.9L1860.5,672.5L1863.5,673.1L1866.5,673.6L1869.5,674.1L1872.5,674.5L1875.5,675.0L1878.5,675.4L1881.5,675.8L1884.5,676.2L1887.5,676.5L1890.5,676.8L1893.5,677.1L1896.5,677.4L1899.5,677.7L1902.5,677.9L1905.5,678.2L1908.5,678.4L1911.5,678.6L1914.5,678.8L1917.5,678.9L1920.5,679.1L1923.5,679.2L1926.5,679.3L1929.5,679.5L1932.5,679.6L1935.5,679.6L1938.5,679.7L1941.5,679.8L1944.5,679.9L1947.5,679.9L1950.5,680.0L1953.5,680.0L1956.5,680.0L1959.5,680.1L1962.5,680.1L1965.5,680.1L1968.5,680.1L1971.5,680.2L1974.5,680.2L1977.5,680.2L1980.5,680.2L1983.5,680.2L1986.5,680.3L1989.5,680.3L1992.5,680.3L1995.5,680.3L1998.5,680.4L2001.5,680.4L2004.5,680.5L2007.5,680.5L2010.5,680.6L2013.5,680.6L2016.5,680.7L2019.5,680.8L2022.5,680.8L2025.5,680.9L2028.5,681.0L2031.5,681.1L2034.5,681.2L2037.5,681.2L2040.5,681.3L2043.5,681.4L2046.5,681.5L2049.5,681.6L2052.5,681.7L2055.5,681.8L2058.5,681.8L2061.5,681.9L2064.5,682.0L2067.5,682.1L2070.5,682.1L2073.5,682.2L2076.5,682.3L2079.5,682.3L2082.5,682.4L2085.5,682.4L2088.5,682.5L2091.5,682.5L2094.5,682.6L2097.5,682.6L2100.5,682.6L2103.5,682.6L2106.5,682.6L2109.5,682.6L2112.5,682.6L2115.5,682.6L2118.5,682.6L2121.5,682.5L2124.5,682.5L2127.5,682.4L2130.5,682.4L2133.5,682.3L2136.5,682.2L2139.5,682.1L2142.5,682.0L2145.5,681.8L2146.0,681.8" fill="none" stroke="#e00000" stroke-width="8.3" stroke-linecap="round" stroke-linejoin="round" stroke-dasharray="44.2 38.23" stroke-dashoffset="71.61"/>
<path d="M320,226.8L1522.5,226.8" fill="none" stroke="#202020" stroke-width="3.8" stroke-linecap="round" stroke-dasharray="0 9.392"/>
<ellipse cx="1215.5" cy="233.5" rx="228" ry="36" fill="none" stroke="#000" stroke-width="4.8"/>
<path d="M1080.0,273.0L1075.6,275.5L1071.3,278.0L1067.1,280.6L1062.8,283.2L1058.6,285.9L1054.4,288.6L1050.3,291.4L1046.2,294.2L1042.1,297.1L1038.1,300.0L1034.1,303.1L1030.2,306.1L1026.2,309.1L1022.1,312.0L1018.0,314.9L1013.9,317.7L1009.7,320.4L1005.6,323.2L1001.4,326.0L997.3,328.9L993.3,331.8L989.3,334.8L985.3,337.8L981.4,340.9L977.5,344.1L973.7,347.2L969.9,350.5L966.2,353.8L962.4,357.1L958.7,360.4L955.0,363.8L951.4,367.2L947.7,370.6L944.0,374.0L940.4,377.4L936.8,380.8L933.2,384.3L929.5,387.7L925.9,391.1L922.2,394.4L918.4,397.7L914.6,401.0L910.9,404.3L907.1,407.6L903.4,410.9L899.7,414.3L896.2,417.8L892.8,421.4L889.5,425.2L886.3,429.0L883.1,432.8L879.7,436.5L876.3,440.2L872.9,443.9L869.5,447.5L866.1,451.1L862.7,454.8L859.2,458.4L855.8,462.0L852.4,465.6L848.9,469.2L845.5,472.8L842.0,476.4L838.6,480.1L835.4,483.9L832.3,487.8L829.2,491.7L826.2,495.7L823.3,499.7L820.4,503.8L817.4,507.8L814.5,511.9L811.6,515.9L808.6,519.9L805.6,523.9L802.6,528.0L799.7,532.0L796.8,536.1L794.0,540.2L791.1,544.3L788.3,548.4L785.5,552.5L782.7,556.6L779.9,560.8L777.1,564.9L774.3,569.0L771.4,573.1L768.6,577.2L765.7,581.3L763.0,585.5L760.3,589.7L757.8,594.0L755.3,598.3L752.8,602.6L750.4,607.0L748.0,611.4L745.6,615.8L743.1,620.1L740.7,624.5L738.3,628.8L735.8,633.2L733.4,637.6L731.0,642.0L728.8,646.4L726.6,650.9L724.5,655.4L722.5,660.0L720.4,664.5L718.4,669.1L716.4,673.7L714.4,678.2L712.3,682.8L710.2,687.3L708.1,691.8L706.0,696.4L704.0,701.0L702.2,705.6L700.4,710.2L698.7,714.9L697.0,719.6L695.4,724.3L693.7,729.1L692.1,733.8L690.5,738.5L688.9,743.2L687.2,747.9L685.6,752.7L684.0,757.4L682.5,762.2L681.2,766.9L679.9,771.8L678.6,776.6L677.4,781.4L676.2,786.3L675.1,791.2L674.0,796.0L673.0,800.9L672.1,805.8L671.2,810.7L670.4,815.7L669.6,820.6L668.8,825.5L668.1,830.5L667.3,835.4L666.5,840.3L665.7,845.3L664.9,850.2L664.3,855.2L663.8,860.1L663.5,865.1L663.3,870.1L663.1,875.1L662.9,880.0L662.8,885.0L662.7,890.0L662.6,895.0L662.6,900.0L662.5,905.0L662.5,910.0" fill="none" stroke="#000" stroke-width="5.8" stroke-linecap="round" stroke-dasharray="32.7 31.8" stroke-dashoffset="-2.9"/>
<polygon points="643.3,918 679,889 706,957" fill="#000" stroke="#000" stroke-width="2" stroke-linejoin="round"/>
<line x1="344.5" y1="908.2" x2="344.5" y2="1432.8" stroke="#202020" stroke-width="5" />
<line x1="342" y1="1430.8" x2="1416.5" y2="1430.8" stroke="#202020" stroke-width="4" />
<path d="M510.2,1220.7L610.5,1142.3L709.3,1105.5L918.8,1094.0L1108.0,1100.0L1204.0,1114.8L1305.4,1172.4" fill="none" stroke="#e00000" stroke-width="6.6" stroke-linecap="round" stroke-linejoin="round"/>
<path d="M525.0,1327.6L622.6,1249.2L636.3,1243.7L715.8,1213.6L918.0,1201.5L1100.0,1207.5L1190.3,1223.4L1283.5,1279.4" fill="none" stroke="#e00000" stroke-width="6.6" stroke-linecap="round" stroke-linejoin="round" stroke-dasharray="47 38"/>
<line x1="935.5" y1="1100" x2="935.5" y2="1198" stroke="#000" stroke-width="2.2" />
<polygon points="935.5,1094 930.5,1128 940.5,1128" fill="#000"/>
<polygon points="935.5,1204 930.5,1170 940.5,1170" fill="#000"/>
<path d="M710.7,1806.1L855.5,1806.1" fill="none" stroke="#0070c0" stroke-width="7" stroke-linecap="round" stroke-dasharray="16.5 17.5"/>
<path d="M1162.7,1806.4L1307.5,1806.4" fill="none" stroke="#00b050" stroke-width="7" stroke-linecap="round" stroke-dasharray="16.3 17.7"/>
<line x1="290" y1="1812.5" x2="290" y2="3107.8" stroke="#202020" stroke-width="4" />
<line x1="288" y1="2103" x2="2215" y2="2103" stroke="#202020" stroke-width="3.8" />
<line x1="771.4300000000001" y1="2094.2" x2="771.4300000000001" y2="2103" stroke="#202020" stroke-width="3.5" />
<line x1="1252.66" y1="2094.2" x2="1252.66" y2="2103" stroke="#202020" stroke-width="3.5" />
<line x1="1733.89" y1="2094.2" x2="1733.89" y2="2103" stroke="#202020" stroke-width="3.5" />
<line x1="2215.12" y1="2094.2" x2="2215.12" y2="2103" stroke="#202020" stroke-width="3.5" />
<path d="M290.2,2103.0L292.9,2098.0L295.5,2092.9L298.2,2087.9L300.9,2082.9L303.6,2077.9L306.2,2072.9L308.9,2067.9L311.6,2063.0L314.3,2058.1L316.9,2053.2L319.6,2048.4L322.3,2043.6L325.0,2038.9L327.6,2034.2L330.3,2029.6L333.0,2025.0L335.6,2020.5L338.3,2016.1L341.0,2011.7L343.7,2007.4L346.3,2003.1L349.0,1998.9L351.7,1994.8L354.4,1990.8L357.0,1986.8L359.7,1982.9L362.4,1979.1L365.1,1975.4L367.7,1971.7L370.4,1968.1L373.1,1964.6L375.8,1961.2L378.4,1957.8L381.1,1954.6L383.8,1951.4L386.4,1948.3L389.1,1945.3L391.8,1942.3L394.5,1939.4L397.1,1936.6L399.8,1933.9L402.5,1931.3L405.2,1928.7L407.8,1926.2L410.5,1923.7L413.2,1921.4L415.9,1919.1L418.5,1916.8L421.2,1914.7L423.9,1912.6L426.5,1910.5L429.2,1908.6L431.9,1906.7L434.6,1904.8L437.2,1903.0L439.9,1901.3L442.6,1899.6L445.3,1898.0L447.9,1896.4L450.6,1894.9L453.3,1893.4L456.0,1892.0L458.6,1890.6L461.3,1889.3L464.0,1888.0L466.7,1886.8L469.3,1885.6L472.0,1884.5L474.7,1883.4L477.3,1882.3L480.0,1881.3L482.7,1880.3L485.4,1879.4L488.0,1878.5L490.7,1877.6L493.4,1876.8L496.1,1876.0L498.7,1875.3L501.4,1874.5L504.1,1873.9L506.8,1873.2L509.4,1872.6L512.1,1872.0L514.8,1871.4L517.4,1870.9L520.1,1870.4L522.8,1869.9L525.5,1869.4L528.1,1869.0L530.8,1868.6L533.5,1868.2L536.2,1867.8L538.8,1867.5L541.5,1867.2L544.2,1866.8L546.9,1866.6L549.5,1866.3L552.2,1866.0L554.9,1865.8L557.5,1865.5L560.2,1865.3L562.9,1865.1L565.6,1864.9L568.2,1864.7L570.9,1864.5L573.6,1864.4L576.3,1864.2L578.9,1864.0L581.6,1863.9L584.3,1863.7L587.0,1863.6L589.6,1863.5L592.3,1863.3L595.0,1863.2L597.7,1863.1L600.3,1862.9L603.0,1862.8L605.7,1862.7L608.3,1862.5L611.0,1862.4L613.7,1862.3L616.4,1862.2L619.0,1862.0L621.7,1861.9L624.4,1861.8L627.1,1861.7L629.7,1861.6L632.4,1861.4L635.1,1861.3L637.8,1861.2L640.4,1861.1L643.1,1861.0L645.8,1860.9L648.4,1860.8L651.1,1860.7L653.8,1860.6L656.5,1860.5L659.1,1860.4L661.8,1860.3L664.5,1860.2L667.2,1860.2L669.8,1860.1L672.5,1860.0L675.2,1860.0L677.9,1859.9L680.5,1859.8L683.2,1859.8L685.9,1859.8L688.6,1859.7L691.2,1859.7L693.9,1859.7L696.6,1859.6L699.2,1859.6L701.9,1859.6L704.6,1859.6L707.3,1859.6L709.9,1859.6L712.6,1859.6L715.3,1859.6L718.0,1859.6L720.6,1859.6L723.3,1859.7L726.0,1859.7L728.7,1859.7L731.3,1859.7L734.0,1859.7L736.7,1859.8L739.3,1859.8L742.0,1859.8L744.7,1859.8L747.4,1859.8L750.0,1859.9L752.7,1859.9L755.4,1859.9L758.1,1859.9L760.7,1859.9L763.4,1859.9L766.1,1859.9L768.8,1859.9L771.4,1859.9L774.1,1859.9L776.8,1859.9L779.5,1859.9L782.1,1859.9L784.8,1859.9L787.5,1859.9L790.1,1859.9L792.8,1859.9L795.5,1859.8L798.2,1859.8L800.8,1859.8L803.5,1859.8L806.2,1859.8L808.9,1859.7L811.5,1859.7L814.2,1859.7L816.9,1859.7L819.6,1859.7L822.2,1859.6L824.9,1859.6L827.6,1859.6L830.2,1859.6L832.9,1859.6L835.6,1859.6L838.3,1859.6L840.9,1859.6L843.6,1859.6L846.3,1859.6L849.0,1859.7L851.6,1859.7L854.3,1859.7L857.0,1859.8L859.7,1859.8L862.3,1859.8L865.0,1859.9L867.7,1860.0L870.3,1860.0L873.0,1860.1L875.7,1860.2L878.4,1860.2L881.0,1860.3L883.7,1860.4L886.4,1860.5L889.1,1860.6L891.7,1860.7L894.4,1860.8L897.1,1860.9L899.8,1861.0L902.4,1861.1L905.1,1861.2L907.8,1861.3L910.5,1861.4L913.1,1861.6L915.8,1861.7L918.5,1861.8L921.1,1861.9L923.8,1862.0L926.5,1862.2L929.2,1862.3L931.8,1862.4L934.5,1862.5L937.2,1862.7L939.9,1862.8L942.5,1862.9L945.2,1863.1L947.9,1863.2L950.6,1863.3L953.2,1863.5L955.9,1863.6L958.6,1863.7L961.2,1863.9L963.9,1864.0L966.6,1864.2L969.3,1864.4L971.9,1864.5L974.6,1864.7L977.3,1864.9L980.0,1865.1L982.6,1865.3L985.3,1865.5L988.0,1865.8L990.7,1866.0L993.3,1866.3L996.0,1866.6L998.7,1866.8L1001.4,1867.2L1004.0,1867.5L1006.7,1867.8L1009.4,1868.2L1012.0,1868.6L1014.7,1869.0L1017.4,1869.4L1020.1,1869.9L1022.7,1870.4L1025.4,1870.9L1028.1,1871.4L1030.8,1872.0L1033.4,1872.6L1036.1,1873.2L1038.8,1873.9L1041.5,1874.5L1044.1,1875.3L1046.8,1876.0L1049.5,1876.8L1052.1,1877.6L1054.8,1878.5L1057.5,1879.4L1060.2,1880.3L1062.8,1881.3L1065.5,1882.3L1068.2,1883.4L1070.9,1884.5L1073.5,1885.6L1076.2,1886.8L1078.9,1888.0L1081.6,1889.3L1084.2,1890.6L1086.9,1892.0L1089.6,1893.4L1092.2,1894.9L1094.9,1896.4L1097.6,1898.0L1100.3,1899.6L1102.9,1901.3L1105.6,1903.0L1108.3,1904.8L1111.0,1906.7L1113.6,1908.6L1116.3,1910.5L1119.0,1912.6L1121.7,1914.7L1124.3,1916.8L1127.0,1919.1L1129.7,1921.4L1132.4,1923.7L1135.0,1926.2L1137.7,1928.7L1140.4,1931.3L1143.0,1933.9L1145.7,1936.6L1148.4,1939.4L1151.1,1942.3L1153.7,1945.3L1156.4,1948.3L1159.1,1951.4L1161.8,1954.6L1164.4,1957.8L1167.1,1961.2L1169.8,1964.6L1172.5,1968.1L1175.1,1971.7L1177.8,1975.4L1180.5,1979.1L1183.1,1982.9L1185.8,1986.8L1188.5,1990.8L1191.2,1994.8L1193.8,1998.9L1196.5,2003.1L1199.2,2007.4L1201.9,2011.7L1204.5,2016.1L1207.2,2020.5L1209.9,2025.0L1212.6,2029.6L1215.2,2034.2L1217.9,2038.9L1220.6,2043.6L1223.3,2048.4L1225.9,2053.2L1228.6,2058.1L1231.3,2063.0L1233.9,2067.9L1236.6,2072.9L1239.3,2077.9L1242.0,2082.9L1244.6,2087.9L1247.3,2092.9L1250.0,2098.0L1252.7,2103.0L1255.3,2108.0L1258.0,2113.1L1260.7,2118.1L1263.4,2123.1L1266.0,2128.1L1268.7,2133.1L1271.4,2138.1L1274.0,2143.0L1276.7,2147.9L1279.4,2152.8L1282.1,2157.6L1284.7,2162.4L1287.4,2167.1L1290.1,2171.8L1292.8,2176.4L1295.4,2181.0L1298.1,2185.5L1300.8,2189.9L1303.5,2194.3L1306.1,2198.6L1308.8,2202.9L1311.5,2207.1L1314.2,2211.2L1316.8,2215.2L1319.5,2219.2L1322.2,2223.1L1324.8,2226.9L1327.5,2230.6L1330.2,2234.3L1332.9,2237.9L1335.5,2241.4L1338.2,2244.8L1340.9,2248.2L1343.6,2251.4L1346.2,2254.6L1348.9,2257.7L1351.6,2260.7L1354.3,2263.7L1356.9,2266.6L1359.6,2269.4L1362.3,2272.1L1364.9,2274.7L1367.6,2277.3L1370.3,2279.8L1373.0,2282.3L1375.6,2284.6L1378.3,2286.9L1381.0,2289.2L1383.7,2291.3L1386.3,2293.4L1389.0,2295.5L1391.7,2297.4L1394.4,2299.3L1397.0,2301.2L1399.7,2303.0L1402.4,2304.7L1405.0,2306.4L1407.7,2308.0L1410.4,2309.6L1413.1,2311.1L1415.7,2312.6L1418.4,2314.0L1421.1,2315.4L1423.8,2316.7L1426.4,2318.0L1429.1,2319.2L1431.8,2320.4L1434.5,2321.5L1437.1,2322.6L1439.8,2323.7L1442.5,2324.7L1445.2,2325.7L1447.8,2326.6L1450.5,2327.5L1453.2,2328.4L1455.8,2329.2L1458.5,2330.0L1461.2,2330.7L1463.9,2331.5L1466.5,2332.1L1469.2,2332.8L1471.9,2333.4L1474.6,2334.0L1477.2,2334.6L1479.9,2335.1L1482.6,2335.6L1485.3,2336.1L1487.9,2336.6L1490.6,2337.0L1493.3,2337.4L1495.9,2337.8L1498.6,2338.2L1501.3,2338.5L1504.0,2338.8L1506.6,2339.2L1509.3,2339.4L1512.0,2339.7L1514.7,2340.0L1517.3,2340.2L1520.0,2340.5L1522.7,2340.7L1525.4,2340.9L1528.0,2341.1L1530.7,2341.3L1533.4,2341.5L1536.1,2341.6L1538.7,2341.8L1541.4,2342.0L1544.1,2342.1L1546.7,2342.3L1549.4,2342.4L1552.1,2342.5L1554.8,2342.7L1557.4,2342.8L1560.1,2342.9L1562.8,2343.1L1565.5,2343.2L1568.1,2343.3L1570.8,2343.5L1573.5,2343.6L1576.2,2343.7L1578.8,2343.8L1581.5,2344.0L1584.2,2344.1L1586.8,2344.2L1589.5,2344.3L1592.2,2344.4L1594.9,2344.6L1597.5,2344.7L1600.2,2344.8L1602.9,2344.9L1605.6,2345.0L1608.2,2345.1L1610.9,2345.2L1613.6,2345.3L1616.3,2345.4L1618.9,2345.5L1621.6,2345.6L1624.3,2345.7L1627.0,2345.8L1629.6,2345.8L1632.3,2345.9L1635.0,2346.0L1637.6,2346.0L1640.3,2346.1L1643.0,2346.2L1645.7,2346.2L1648.3,2346.2L1651.0,2346.3L1653.7,2346.3L1656.4,2346.3L1659.0,2346.4L1661.7,2346.4L1664.4,2346.4L1667.1,2346.4L1669.7,2346.4L1672.4,2346.4L1675.1,2346.4L1677.7,2346.4L1680.4,2346.4L1683.1,2346.4L1685.8,2346.3L1688.4,2346.3L1691.1,2346.3L1693.8,2346.3L1696.5,2346.3L1699.1,2346.2L1701.8,2346.2L1704.5,2346.2L1707.2,2346.2L1709.8,2346.2L1712.5,2346.1L1715.2,2346.1L1717.8,2346.1L1720.5,2346.1L1723.2,2346.1L1725.9,2346.1L1728.5,2346.1L1731.2,2346.1L1733.9,2346.1L1736.6,2346.1L1739.2,2346.1L1741.9,2346.1L1744.6,2346.1L1747.3,2346.1L1749.9,2346.1L1752.6,2346.1L1755.3,2346.1L1758.0,2346.2L1760.6,2346.2L1763.3,2346.2L1766.0,2346.2L1768.6,2346.2L1771.3,2346.3L1774.0,2346.3L1776.7,2346.3L1779.3,2346.3L1782.0,2346.3L1784.7,2346.4L1787.4,2346.4L1790.0,2346.4L1792.7,2346.4L1795.4,2346.4L1798.1,2346.4L1800.7,2346.4L1803.4,2346.4L1806.1,2346.4L1808.7,2346.4L1811.4,2346.3L1814.1,2346.3L1816.8,2346.3L1819.4,2346.2L1822.1,2346.2L1824.8,2346.2L1827.5,2346.1L1830.1,2346.0L1832.8,2346.0L1835.5,2345.9L1838.2,2345.8L1840.8,2345.8L1843.5,2345.7L1846.2,2345.6L1848.9,2345.5L1851.5,2345.4L1854.2,2345.3L1856.9,2345.2L1859.5,2345.1L1862.2,2345.0L1864.9,2344.9L1867.6,2344.8L1870.2,2344.7L1872.9,2344.6L1875.6,2344.4L1878.3,2344.3L1880.9,2344.2L1883.6,2344.1L1886.3,2344.0L1889.0,2343.8L1891.6,2343.7L1894.3,2343.6L1897.0,2343.5L1899.6,2343.3L1902.3,2343.2L1905.0,2343.1L1907.7,2342.9L1910.3,2342.8L1913.0,2342.7L1915.7,2342.5L1918.4,2342.4L1921.0,2342.3L1923.7,2342.1L1926.4,2342.0L1929.1,2341.8L1931.7,2341.6L1934.4,2341.5L1937.1,2341.3L1939.7,2341.1L1942.4,2340.9L1945.1,2340.7L1947.8,2340.5L1950.4,2340.2L1953.1,2340.0L1955.8,2339.7L1958.5,2339.4L1961.1,2339.2L1963.8,2338.8L1966.5,2338.5L1969.2,2338.2L1971.8,2337.8L1974.5,2337.4L1977.2,2337.0L1979.9,2336.6L1982.5,2336.1L1985.2,2335.6L1987.9,2335.1L1990.5,2334.6L1993.2,2334.0L1995.9,2333.4L1998.6,2332.8L2001.2,2332.1L2003.9,2331.5L2006.6,2330.7L2009.3,2330.0L2011.9,2329.2L2014.6,2328.4L2017.3,2327.5L2020.0,2326.6L2022.6,2325.7L2025.3,2324.7L2028.0,2323.7L2030.6,2322.6L2033.3,2321.5L2036.0,2320.4L2038.7,2319.2L2041.3,2318.0L2044.0,2316.7L2046.7,2315.4L2049.4,2314.0L2052.0,2312.6L2054.7,2311.1L2057.4,2309.6L2060.1,2308.0L2062.7,2306.4L2065.4,2304.7L2068.1,2303.0L2070.8,2301.2L2073.4,2299.3L2076.1,2297.4L2078.8,2295.5L2081.4,2293.4L2084.1,2291.3L2086.8,2289.2L2089.5,2286.9L2092.1,2284.6L2094.8,2282.3L2097.5,2279.8L2100.2,2277.3L2102.8,2274.7L2105.5,2272.1L2108.2,2269.4L2110.9,2266.6L2113.5,2263.7L2116.2,2260.7L2118.9,2257.7L2121.5,2254.6L2124.2,2251.4L2126.9,2248.2L2129.6,2244.8L2132.2,2241.4L2134.9,2237.9L2137.6,2234.3L2140.3,2230.6L2142.9,2226.9L2145.6,2223.1L2148.3,2219.2L2151.0,2215.2L2153.6,2211.2L2156.3,2207.1L2159.0,2202.9L2161.7,2198.6L2164.3,2194.3L2167.0,2189.9L2169.7,2185.5L2172.3,2181.0L2175.0,2176.4L2177.7,2171.8L2180.4,2167.1L2183.0,2162.4L2185.7,2157.6L2188.4,2152.8L2191.1,2147.9L2193.7,2143.0L2196.4,2138.1L2199.1,2133.1L2201.8,2128.1L2204.4,2123.1L2207.1,2118.1L2209.8,2113.1L2212.4,2108.0L2215.1,2103.0" fill="none" stroke="#0070c0" stroke-width="7" stroke-linejoin="round" stroke-linecap="round" stroke-dasharray="8.8 17.508" stroke-dashoffset="22.0"/>
<path d="M290.2,2332.1L292.9,2331.5L295.5,2330.7L298.2,2330.0L300.9,2329.2L303.6,2328.4L306.2,2327.5L308.9,2326.6L311.6,2325.7L314.3,2324.7L316.9,2323.7L319.6,2322.6L322.3,2321.5L325.0,2320.4L327.6,2319.2L330.3,2318.0L333.0,2316.7L335.6,2315.4L338.3,2314.0L341.0,2312.6L343.7,2311.1L346.3,2309.6L349.0,2308.0L351.7,2306.4L354.4,2304.7L357.0,2303.0L359.7,2301.2L362.4,2299.3L365.1,2297.4L367.7,2295.5L370.4,2293.4L373.1,2291.3L375.8,2289.2L378.4,2286.9L381.1,2284.6L383.8,2282.3L386.4,2279.8L389.1,2277.3L391.8,2274.7L394.5,2272.1L397.1,2269.4L399.8,2266.6L402.5,2263.7L405.2,2260.7L407.8,2257.7L410.5,2254.6L413.2,2251.4L415.9,2248.2L418.5,2244.8L421.2,2241.4L423.9,2237.9L426.5,2234.3L429.2,2230.6L431.9,2226.9L434.6,2223.1L437.2,2219.2L439.9,2215.2L442.6,2211.2L445.3,2207.1L447.9,2202.9L450.6,2198.6L453.3,2194.3L456.0,2189.9L458.6,2185.5L461.3,2181.0L464.0,2176.4L466.7,2171.8L469.3,2167.1L472.0,2162.4L474.7,2157.6L477.3,2152.8L480.0,2147.9L482.7,2143.0L485.4,2138.1L488.0,2133.1L490.7,2128.1L493.4,2123.1L496.1,2118.1L498.7,2113.1L501.4,2108.0L504.1,2103.0L506.8,2098.0L509.4,2092.9L512.1,2087.9L514.8,2082.9L517.4,2077.9L520.1,2072.9L522.8,2067.9L525.5,2063.0L528.1,2058.1L530.8,2053.2L533.5,2048.4L536.2,2043.6L538.8,2038.9L541.5,2034.2L544.2,2029.6L546.9,2025.0L549.5,2020.5L552.2,2016.1L554.9,2011.7L557.5,2007.4L560.2,2003.1L562.9,1998.9L565.6,1994.8L568.2,1990.8L570.9,1986.8L573.6,1982.9L576.3,1979.1L578.9,1975.4L581.6,1971.7L584.3,1968.1L587.0,1964.6L589.6,1961.2L592.3,1957.8L595.0,1954.6L597.7,1951.4L600.3,1948.3L603.0,1945.3L605.7,1942.3L608.3,1939.4L611.0,1936.6L613.7,1933.9L616.4,1931.3L619.0,1928.7L621.7,1926.2L624.4,1923.7L627.1,1921.4L629.7,1919.1L632.4,1916.8L635.1,1914.7L637.8,1912.6L640.4,1910.5L643.1,1908.6L645.8,1906.7L648.4,1904.8L651.1,1903.0L653.8,1901.3L656.5,1899.6L659.1,1898.0L661.8,1896.4L664.5,1894.9L667.2,1893.4L669.8,1892.0L672.5,1890.6L675.2,1889.3L677.9,1888.0L680.5,1886.8L683.2,1885.6L685.9,1884.5L688.6,1883.4L691.2,1882.3L693.9,1881.3L696.6,1880.3L699.2,1879.4L701.9,1878.5L704.6,1877.6L707.3,1876.8L709.9,1876.0L712.6,1875.3L715.3,1874.5L718.0,1873.9L720.6,1873.2L723.3,1872.6L726.0,1872.0L728.7,1871.4L731.3,1870.9L734.0,1870.4L736.7,1869.9L739.3,1869.4L742.0,1869.0L744.7,1868.6L747.4,1868.2L750.0,1867.8L752.7,1867.5L755.4,1867.2L758.1,1866.8L760.7,1866.6L763.4,1866.3L766.1,1866.0L768.8,1865.8L771.4,1865.5L774.1,1865.3L776.8,1865.1L779.5,1864.9L782.1,1864.7L784.8,1864.5L787.5,1864.4L790.1,1864.2L792.8,1864.0L795.5,1863.9L798.2,1863.7L800.8,1863.6L803.5,1863.5L806.2,1863.3L808.9,1863.2L811.5,1863.1L814.2,1862.9L816.9,1862.8L819.6,1862.7L822.2,1862.5L824.9,1862.4L827.6,1862.3L830.2,1862.2L832.9,1862.0L835.6,1861.9L838.3,1861.8L840.9,1861.7L843.6,1861.6L846.3,1861.4L849.0,1861.3L851.6,1861.2L854.3,1861.1L857.0,1861.0L859.7,1860.9L862.3,1860.8L865.0,1860.7L867.7,1860.6L870.3,1860.5L873.0,1860.4L875.7,1860.3L878.4,1860.2L881.0,1860.2L883.7,1860.1L886.4,1860.0L889.1,1860.0L891.7,1859.9L894.4,1859.8L897.1,1859.8L899.8,1859.8L902.4,1859.7L905.1,1859.7L907.8,1859.7L910.5,1859.6L913.1,1859.6L915.8,1859.6L918.5,1859.6L921.1,1859.6L923.8,1859.6L926.5,1859.6L929.2,1859.6L931.8,1859.6L934.5,1859.6L937.2,1859.7L939.9,1859.7L942.5,1859.7L945.2,1859.7L947.9,1859.7L950.6,1859.8L953.2,1859.8L955.9,1859.8L958.6,1859.8L961.2,1859.8L963.9,1859.9L966.6,1859.9L969.3,1859.9L971.9,1859.9L974.6,1859.9L977.3,1859.9L980.0,1859.9L982.6,1859.9L985.3,1859.9L988.0,1859.9L990.7,1859.9L993.3,1859.9L996.0,1859.9L998.7,1859.9L1001.4,1859.9L1004.0,1859.9L1006.7,1859.9L1009.4,1859.8L1012.0,1859.8L1014.7,1859.8L1017.4,1859.8L1020.1,1859.8L1022.7,1859.7L1025.4,1859.7L1028.1,1859.7L1030.8,1859.7L1033.4,1859.7L1036.1,1859.6L1038.8,1859.6L1041.5,1859.6L1044.1,1859.6L1046.8,1859.6L1049.5,1859.6L1052.1,1859.6L1054.8,1859.6L1057.5,1859.6L1060.2,1859.6L1062.8,1859.7L1065.5,1859.7L1068.2,1859.7L1070.9,1859.8L1073.5,1859.8L1076.2,1859.8L1078.9,1859.9L1081.6,1860.0L1084.2,1860.0L1086.9,1860.1L1089.6,1860.2L1092.2,1860.2L1094.9,1860.3L1097.6,1860.4L1100.3,1860.5L1102.9,1860.6L1105.6,1860.7L1108.3,1860.8L1111.0,1860.9L1113.6,1861.0L1116.3,1861.1L1119.0,1861.2L1121.7,1861.3L1124.3,1861.4L1127.0,1861.6L1129.7,1861.7L1132.4,1861.8L1135.0,1861.9L1137.7,1862.0L1140.4,1862.2L1143.0,1862.3L1145.7,1862.4L1148.4,1862.5L1151.1,1862.7L1153.7,1862.8L1156.4,1862.9L1159.1,1863.1L1161.8,1863.2L1164.4,1863.3L1167.1,1863.5L1169.8,1863.6L1172.5,1863.7L1175.1,1863.9L1177.8,1864.0L1180.5,1864.2L1183.1,1864.4L1185.8,1864.5L1188.5,1864.7L1191.2,1864.9L1193.8,1865.1L1196.5,1865.3L1199.2,1865.5L1201.9,1865.8L1204.5,1866.0L1207.2,1866.3L1209.9,1866.6L1212.6,1866.8L1215.2,1867.2L1217.9,1867.5L1220.6,1867.8L1223.3,1868.2L1225.9,1868.6L1228.6,1869.0L1231.3,1869.4L1233.9,1869.9L1236.6,1870.4L1239.3,1870.9L1242.0,1871.4L1244.6,1872.0L1247.3,1872.6L1250.0,1873.2L1252.7,1873.9L1255.3,1874.5L1258.0,1875.3L1260.7,1876.0L1263.4,1876.8L1266.0,1877.6L1268.7,1878.5L1271.4,1879.4L1274.0,1880.3L1276.7,1881.3L1279.4,1882.3L1282.1,1883.4L1284.7,1884.5L1287.4,1885.6L1290.1,1886.8L1292.8,1888.0L1295.4,1889.3L1298.1,1890.6L1300.8,1892.0L1303.5,1893.4L1306.1,1894.9L1308.8,1896.4L1311.5,1898.0L1314.2,1899.6L1316.8,1901.3L1319.5,1903.0L1322.2,1904.8L1324.8,1906.7L1327.5,1908.6L1330.2,1910.5L1332.9,1912.6L1335.5,1914.7L1338.2,1916.8L1340.9,1919.1L1343.6,1921.4L1346.2,1923.7L1348.9,1926.2L1351.6,1928.7L1354.3,1931.3L1356.9,1933.9L1359.6,1936.6L1362.3,1939.4L1364.9,1942.3L1367.6,1945.3L1370.3,1948.3L1373.0,1951.4L1375.6,1954.6L1378.3,1957.8L1381.0,1961.2L1383.7,1964.6L1386.3,1968.1L1389.0,1971.7L1391.7,1975.4L1394.4,1979.1L1397.0,1982.9L1399.7,1986.8L1402.4,1990.8L1405.0,1994.8L1407.7,1998.9L1410.4,2003.1L1413.1,2007.4L1415.7,2011.7L1418.4,2016.1L1421.1,2020.5L1423.8,2025.0L1426.4,2029.6L1429.1,2034.2L1431.8,2038.9L1434.5,2043.6L1437.1,2048.4L1439.8,2053.2L1442.5,2058.1L1445.2,2063.0L1447.8,2067.9L1450.5,2072.9L1453.2,2077.9L1455.8,2082.9L1458.5,2087.9L1461.2,2092.9L1463.9,2098.0L1466.5,2103.0L1469.2,2108.0L1471.9,2113.1L1474.6,2118.1L1477.2,2123.1L1479.9,2128.1L1482.6,2133.1L1485.3,2138.1L1487.9,2143.0L1490.6,2147.9L1493.3,2152.8L1495.9,2157.6L1498.6,2162.4L1501.3,2167.1L1504.0,2171.8L1506.6,2176.4L1509.3,2181.0L1512.0,2185.5L1514.7,2189.9L1517.3,2194.3L1520.0,2198.6L1522.7,2202.9L1525.4,2207.1L1528.0,2211.2L1530.7,2215.2L1533.4,2219.2L1536.1,2223.1L1538.7,2226.9L1541.4,2230.6L1544.1,2234.3L1546.7,2237.9L1549.4,2241.4L1552.1,2244.8L1554.8,2248.2L1557.4,2251.4L1560.1,2254.6L1562.8,2257.7L1565.5,2260.7L1568.1,2263.7L1570.8,2266.6L1573.5,2269.4L1576.2,2272.1L1578.8,2274.7L1581.5,2277.3L1584.2,2279.8L1586.8,2282.3L1589.5,2284.6L1592.2,2286.9L1594.9,2289.2L1597.5,2291.3L1600.2,2293.4L1602.9,2295.5L1605.6,2297.4L1608.2,2299.3L1610.9,2301.2L1613.6,2303.0L1616.3,2304.7L1618.9,2306.4L1621.6,2308.0L1624.3,2309.6L1627.0,2311.1L1629.6,2312.6L1632.3,2314.0L1635.0,2315.4L1637.6,2316.7L1640.3,2318.0L1643.0,2319.2L1645.7,2320.4L1648.3,2321.5L1651.0,2322.6L1653.7,2323.7L1656.4,2324.7L1659.0,2325.7L1661.7,2326.6L1664.4,2327.5L1667.1,2328.4L1669.7,2329.2L1672.4,2330.0L1675.1,2330.7L1677.7,2331.5L1680.4,2332.1L1683.1,2332.8L1685.8,2333.4L1688.4,2334.0L1691.1,2334.6L1693.8,2335.1L1696.5,2335.6L1699.1,2336.1L1701.8,2336.6L1704.5,2337.0L1707.2,2337.4L1709.8,2337.8L1712.5,2338.2L1715.2,2338.5L1717.8,2338.8L1720.5,2339.2L1723.2,2339.4L1725.9,2339.7L1728.5,2340.0L1731.2,2340.2L1733.9,2340.5L1736.6,2340.7L1739.2,2340.9L1741.9,2341.1L1744.6,2341.3L1747.3,2341.5L1749.9,2341.6L1752.6,2341.8L1755.3,2342.0L1758.0,2342.1L1760.6,2342.3L1763.3,2342.4L1766.0,2342.5L1768.6,2342.7L1771.3,2342.8L1774.0,2342.9L1776.7,2343.1L1779.3,2343.2L1782.0,2343.3L1784.7,2343.5L1787.4,2343.6L1790.0,2343.7L1792.7,2343.8L1795.4,2344.0L1798.1,2344.1L1800.7,2344.2L1803.4,2344.3L1806.1,2344.4L1808.7,2344.6L1811.4,2344.7L1814.1,2344.8L1816.8,2344.9L1819.4,2345.0L1822.1,2345.1L1824.8,2345.2L1827.5,2345.3L1830.1,2345.4L1832.8,2345.5L1835.5,2345.6L1838.2,2345.7L1840.8,2345.8L1843.5,2345.8L1846.2,2345.9L1848.9,2346.0L1851.5,2346.0L1854.2,2346.1L1856.9,2346.2L1859.5,2346.2L1862.2,2346.2L1864.9,2346.3L1867.6,2346.3L1870.2,2346.3L1872.9,2346.4L1875.6,2346.4L1878.3,2346.4L1880.9,2346.4L1883.6,2346.4L1886.3,2346.4L1889.0,2346.4L1891.6,2346.4L1894.3,2346.4L1897.0,2346.4L1899.6,2346.3L1902.3,2346.3L1905.0,2346.3L1907.7,2346.3L1910.3,2346.3L1913.0,2346.2L1915.7,2346.2L1918.4,2346.2L1921.0,2346.2L1923.7,2346.2L1926.4,2346.1L1929.1,2346.1L1931.7,2346.1L1934.4,2346.1L1937.1,2346.1L1939.7,2346.1L1942.4,2346.1L1945.1,2346.1L1947.8,2346.1L1950.4,2346.1L1953.1,2346.1L1955.8,2346.1L1958.5,2346.1L1961.1,2346.1L1963.8,2346.1L1966.5,2346.1L1969.2,2346.1L1971.8,2346.2L1974.5,2346.2L1977.2,2346.2L1979.9,2346.2L1982.5,2346.2L1985.2,2346.3L1987.9,2346.3L1990.5,2346.3L1993.2,2346.3L1995.9,2346.3L1998.6,2346.4L2001.2,2346.4L2003.9,2346.4L2006.6,2346.4L2009.3,2346.4L2011.9,2346.4L2014.6,2346.4L2017.3,2346.4L2020.0,2346.4L2022.6,2346.4L2025.3,2346.3L2028.0,2346.3L2030.6,2346.3L2033.3,2346.2L2036.0,2346.2L2038.7,2346.2L2041.3,2346.1L2044.0,2346.0L2046.7,2346.0L2049.4,2345.9L2052.0,2345.8L2054.7,2345.8L2057.4,2345.7L2060.1,2345.6L2062.7,2345.5L2065.4,2345.4L2068.1,2345.3L2070.8,2345.2L2073.4,2345.1L2076.1,2345.0L2078.8,2344.9L2081.4,2344.8L2084.1,2344.7L2086.8,2344.6L2089.5,2344.4L2092.1,2344.3L2094.8,2344.2L2097.5,2344.1L2100.2,2344.0L2102.8,2343.8L2105.5,2343.7L2108.2,2343.6L2110.9,2343.5L2113.5,2343.3L2116.2,2343.2L2118.9,2343.1L2121.5,2342.9L2124.2,2342.8L2126.9,2342.7L2129.6,2342.5L2132.2,2342.4L2134.9,2342.3L2137.6,2342.1L2140.3,2342.0L2142.9,2341.8L2145.6,2341.6L2148.3,2341.5L2151.0,2341.3L2153.6,2341.1L2156.3,2340.9L2159.0,2340.7L2161.7,2340.5L2164.3,2340.2L2167.0,2340.0L2169.7,2339.7L2172.3,2339.4L2175.0,2339.2L2177.7,2338.8L2180.4,2338.5L2183.0,2338.2L2185.7,2337.8L2188.4,2337.4L2191.1,2337.0L2193.7,2336.6L2196.4,2336.1L2199.1,2335.6L2201.8,2335.1L2204.4,2334.6L2207.1,2334.0L2209.8,2333.4L2212.4,2332.8L2215.1,2332.1" fill="none" stroke="#fa500a" stroke-width="5.4" stroke-linejoin="round" />
<path d="M290.2,2346.4L292.9,2346.4L295.5,2346.4L298.2,2346.4L300.9,2346.4L303.6,2346.4L306.2,2346.4L308.9,2346.4L311.6,2346.4L314.3,2346.3L316.9,2346.3L319.6,2346.3L322.3,2346.2L325.0,2346.2L327.6,2346.2L330.3,2346.1L333.0,2346.0L335.6,2346.0L338.3,2345.9L341.0,2345.8L343.7,2345.8L346.3,2345.7L349.0,2345.6L351.7,2345.5L354.4,2345.4L357.0,2345.3L359.7,2345.2L362.4,2345.1L365.1,2345.0L367.7,2344.9L370.4,2344.8L373.1,2344.7L375.8,2344.6L378.4,2344.4L381.1,2344.3L383.8,2344.2L386.4,2344.1L389.1,2344.0L391.8,2343.8L394.5,2343.7L397.1,2343.6L399.8,2343.5L402.5,2343.3L405.2,2343.2L407.8,2343.1L410.5,2342.9L413.2,2342.8L415.9,2342.7L418.5,2342.5L421.2,2342.4L423.9,2342.3L426.5,2342.1L429.2,2342.0L431.9,2341.8L434.6,2341.6L437.2,2341.5L439.9,2341.3L442.6,2341.1L445.3,2340.9L447.9,2340.7L450.6,2340.5L453.3,2340.2L456.0,2340.0L458.6,2339.7L461.3,2339.4L464.0,2339.2L466.7,2338.8L469.3,2338.5L472.0,2338.2L474.7,2337.8L477.3,2337.4L480.0,2337.0L482.7,2336.6L485.4,2336.1L488.0,2335.6L490.7,2335.1L493.4,2334.6L496.1,2334.0L498.7,2333.4L501.4,2332.8L504.1,2332.1L506.8,2331.5L509.4,2330.7L512.1,2330.0L514.8,2329.2L517.4,2328.4L520.1,2327.5L522.8,2326.6L525.5,2325.7L528.1,2324.7L530.8,2323.7L533.5,2322.6L536.2,2321.5L538.8,2320.4L541.5,2319.2L544.2,2318.0L546.9,2316.7L549.5,2315.4L552.2,2314.0L554.9,2312.6L557.5,2311.1L560.2,2309.6L562.9,2308.0L565.6,2306.4L568.2,2304.7L570.9,2303.0L573.6,2301.2L576.3,2299.3L578.9,2297.4L581.6,2295.5L584.3,2293.4L587.0,2291.3L589.6,2289.2L592.3,2286.9L595.0,2284.6L597.7,2282.3L600.3,2279.8L603.0,2277.3L605.7,2274.7L608.3,2272.1L611.0,2269.4L613.7,2266.6L616.4,2263.7L619.0,2260.7L621.7,2257.7L624.4,2254.6L627.1,2251.4L629.7,2248.2L632.4,2244.8L635.1,2241.4L637.8,2237.9L640.4,2234.3L643.1,2230.6L645.8,2226.9L648.4,2223.1L651.1,2219.2L653.8,2215.2L656.5,2211.2L659.1,2207.1L661.8,2202.9L664.5,2198.6L667.2,2194.3L669.8,2189.9L672.5,2185.5L675.2,2181.0L677.9,2176.4L680.5,2171.8L683.2,2167.1L685.9,2162.4L688.6,2157.6L691.2,2152.8L693.9,2147.9L696.6,2143.0L699.2,2138.1L701.9,2133.1L704.6,2128.1L707.3,2123.1L709.9,2118.1L712.6,2113.1L715.3,2108.0L718.0,2103.0L720.6,2098.0L723.3,2092.9L726.0,2087.9L728.7,2082.9L731.3,2077.9L734.0,2072.9L736.7,2067.9L739.3,2063.0L742.0,2058.1L744.7,2053.2L747.4,2048.4L750.0,2043.6L752.7,2038.9L755.4,2034.2L758.1,2029.6L760.7,2025.0L763.4,2020.5L766.1,2016.1L768.8,2011.7L771.4,2007.4L774.1,2003.1L776.8,1998.9L779.5,1994.8L782.1,1990.8L784.8,1986.8L787.5,1982.9L790.1,1979.1L792.8,1975.4L795.5,1971.7L798.2,1968.1L800.8,1964.6L803.5,1961.2L806.2,1957.8L808.9,1954.6L811.5,1951.4L814.2,1948.3L816.9,1945.3L819.6,1942.3L822.2,1939.4L824.9,1936.6L827.6,1933.9L830.2,1931.3L832.9,1928.7L835.6,1926.2L838.3,1923.7L840.9,1921.4L843.6,1919.1L846.3,1916.8L849.0,1914.7L851.6,1912.6L854.3,1910.5L857.0,1908.6L859.7,1906.7L862.3,1904.8L865.0,1903.0L867.7,1901.3L870.3,1899.6L873.0,1898.0L875.7,1896.4L878.4,1894.9L881.0,1893.4L883.7,1892.0L886.4,1890.6L889.1,1889.3L891.7,1888.0L894.4,1886.8L897.1,1885.6L899.8,1884.5L902.4,1883.4L905.1,1882.3L907.8,1881.3L910.5,1880.3L913.1,1879.4L915.8,1878.5L918.5,1877.6L921.1,1876.8L923.8,1876.0L926.5,1875.3L929.2,1874.5L931.8,1873.9L934.5,1873.2L937.2,1872.6L939.9,1872.0L942.5,1871.4L945.2,1870.9L947.9,1870.4L950.6,1869.9L953.2,1869.4L955.9,1869.0L958.6,1868.6L961.2,1868.2L963.9,1867.8L966.6,1867.5L969.3,1867.2L971.9,1866.8L974.6,1866.6L977.3,1866.3L980.0,1866.0L982.6,1865.8L985.3,1865.5L988.0,1865.3L990.7,1865.1L993.3,1864.9L996.0,1864.7L998.7,1864.5L1001.4,1864.4L1004.0,1864.2L1006.7,1864.0L1009.4,1863.9L1012.0,1863.7L1014.7,1863.6L1017.4,1863.5L1020.1,1863.3L1022.7,1863.2L1025.4,1863.1L1028.1,1862.9L1030.8,1862.8L1033.4,1862.7L1036.1,1862.5L1038.8,1862.4L1041.5,1862.3L1044.1,1862.2L1046.8,1862.0L1049.5,1861.9L1052.1,1861.8L1054.8,1861.7L1057.5,1861.6L1060.2,1861.4L1062.8,1861.3L1065.5,1861.2L1068.2,1861.1L1070.9,1861.0L1073.5,1860.9L1076.2,1860.8L1078.9,1860.7L1081.6,1860.6L1084.2,1860.5L1086.9,1860.4L1089.6,1860.3L1092.2,1860.2L1094.9,1860.2L1097.6,1860.1L1100.3,1860.0L1102.9,1860.0L1105.6,1859.9L1108.3,1859.8L1111.0,1859.8L1113.6,1859.8L1116.3,1859.7L1119.0,1859.7L1121.7,1859.7L1124.3,1859.6L1127.0,1859.6L1129.7,1859.6L1132.4,1859.6L1135.0,1859.6L1137.7,1859.6L1140.4,1859.6L1143.0,1859.6L1145.7,1859.6L1148.4,1859.6L1151.1,1859.7L1153.7,1859.7L1156.4,1859.7L1159.1,1859.7L1161.8,1859.7L1164.4,1859.8L1167.1,1859.8L1169.8,1859.8L1172.5,1859.8L1175.1,1859.8L1177.8,1859.9L1180.5,1859.9L1183.1,1859.9L1185.8,1859.9L1188.5,1859.9L1191.2,1859.9L1193.8,1859.9L1196.5,1859.9L1199.2,1859.9L1201.9,1859.9L1204.5,1859.9L1207.2,1859.9L1209.9,1859.9L1212.6,1859.9L1215.2,1859.9L1217.9,1859.9L1220.6,1859.9L1223.3,1859.8L1225.9,1859.8L1228.6,1859.8L1231.3,1859.8L1233.9,1859.8L1236.6,1859.7L1239.3,1859.7L1242.0,1859.7L1244.6,1859.7L1247.3,1859.7L1250.0,1859.6L1252.7,1859.6L1255.3,1859.6L1258.0,1859.6L1260.7,1859.6L1263.4,1859.6L1266.0,1859.6L1268.7,1859.6L1271.4,1859.6L1274.0,1859.6L1276.7,1859.7L1279.4,1859.7L1282.1,1859.7L1284.7,1859.8L1287.4,1859.8L1290.1,1859.8L1292.8,1859.9L1295.4,1860.0L1298.1,1860.0L1300.8,1860.1L1303.5,1860.2L1306.1,1860.2L1308.8,1860.3L1311.5,1860.4L1314.2,1860.5L1316.8,1860.6L1319.5,1860.7L1322.2,1860.8L1324.8,1860.9L1327.5,1861.0L1330.2,1861.1L1332.9,1861.2L1335.5,1861.3L1338.2,1861.4L1340.9,1861.6L1343.6,1861.7L1346.2,1861.8L1348.9,1861.9L1351.6,1862.0L1354.3,1862.2L1356.9,1862.3L1359.6,1862.4L1362.3,1862.5L1364.9,1862.7L1367.6,1862.8L1370.3,1862.9L1373.0,1863.1L1375.6,1863.2L1378.3,1863.3L1381.0,1863.5L1383.7,1863.6L1386.3,1863.7L1389.0,1863.9L1391.7,1864.0L1394.4,1864.2L1397.0,1864.4L1399.7,1864.5L1402.4,1864.7L1405.0,1864.9L1407.7,1865.1L1410.4,1865.3L1413.1,1865.5L1415.7,1865.8L1418.4,1866.0L1421.1,1866.3L1423.8,1866.6L1426.4,1866.8L1429.1,1867.2L1431.8,1867.5L1434.5,1867.8L1437.1,1868.2L1439.8,1868.6L1442.5,1869.0L1445.2,1869.4L1447.8,1869.9L1450.5,1870.4L1453.2,1870.9L1455.8,1871.4L1458.5,1872.0L1461.2,1872.6L1463.9,1873.2L1466.5,1873.9L1469.2,1874.5L1471.9,1875.3L1474.6,1876.0L1477.2,1876.8L1479.9,1877.6L1482.6,1878.5L1485.3,1879.4L1487.9,1880.3L1490.6,1881.3L1493.3,1882.3L1495.9,1883.4L1498.6,1884.5L1501.3,1885.6L1504.0,1886.8L1506.6,1888.0L1509.3,1889.3L1512.0,1890.6L1514.7,1892.0L1517.3,1893.4L1520.0,1894.9L1522.7,1896.4L1525.4,1898.0L1528.0,1899.6L1530.7,1901.3L1533.4,1903.0L1536.1,1904.8L1538.7,1906.7L1541.4,1908.6L1544.1,1910.5L1546.7,1912.6L1549.4,1914.7L1552.1,1916.8L1554.8,1919.1L1557.4,1921.4L1560.1,1923.7L1562.8,1926.2L1565.5,1928.7L1568.1,1931.3L1570.8,1933.9L1573.5,1936.6L1576.2,1939.4L1578.8,1942.3L1581.5,1945.3L1584.2,1948.3L1586.8,1951.4L1589.5,1954.6L1592.2,1957.8L1594.9,1961.2L1597.5,1964.6L1600.2,1968.1L1602.9,1971.7L1605.6,1975.4L1608.2,1979.1L1610.9,1982.9L1613.6,1986.8L1616.3,1990.8L1618.9,1994.8L1621.6,1998.9L1624.3,2003.1L1627.0,2007.4L1629.6,2011.7L1632.3,2016.1L1635.0,2020.5L1637.6,2025.0L1640.3,2029.6L1643.0,2034.2L1645.7,2038.9L1648.3,2043.6L1651.0,2048.4L1653.7,2053.2L1656.4,2058.1L1659.0,2063.0L1661.7,2067.9L1664.4,2072.9L1667.1,2077.9L1669.7,2082.9L1672.4,2087.9L1675.1,2092.9L1677.7,2098.0L1680.4,2103.0L1683.1,2108.0L1685.8,2113.1L1688.4,2118.1L1691.1,2123.1L1693.8,2128.1L1696.5,2133.1L1699.1,2138.1L1701.8,2143.0L1704.5,2147.9L1707.2,2152.8L1709.8,2157.6L1712.5,2162.4L1715.2,2167.1L1717.8,2171.8L1720.5,2176.4L1723.2,2181.0L1725.9,2185.5L1728.5,2189.9L1731.2,2194.3L1733.9,2198.6L1736.6,2202.9L1739.2,2207.1L1741.9,2211.2L1744.6,2215.2L1747.3,2219.2L1749.9,2223.1L1752.6,2226.9L1755.3,2230.6L1758.0,2234.3L1760.6,2237.9L1763.3,2241.4L1766.0,2244.8L1768.6,2248.2L1771.3,2251.4L1774.0,2254.6L1776.7,2257.7L1779.3,2260.7L1782.0,2263.7L1784.7,2266.6L1787.4,2269.4L1790.0,2272.1L1792.7,2274.7L1795.4,2277.3L1798.1,2279.8L1800.7,2282.3L1803.4,2284.6L1806.1,2286.9L1808.7,2289.2L1811.4,2291.3L1814.1,2293.4L1816.8,2295.5L1819.4,2297.4L1822.1,2299.3L1824.8,2301.2L1827.5,2303.0L1830.1,2304.7L1832.8,2306.4L1835.5,2308.0L1838.2,2309.6L1840.8,2311.1L1843.5,2312.6L1846.2,2314.0L1848.9,2315.4L1851.5,2316.7L1854.2,2318.0L1856.9,2319.2L1859.5,2320.4L1862.2,2321.5L1864.9,2322.6L1867.6,2323.7L1870.2,2324.7L1872.9,2325.7L1875.6,2326.6L1878.3,2327.5L1880.9,2328.4L1883.6,2329.2L1886.3,2330.0L1889.0,2330.7L1891.6,2331.5L1894.3,2332.1L1897.0,2332.8L1899.6,2333.4L1902.3,2334.0L1905.0,2334.6L1907.7,2335.1L1910.3,2335.6L1913.0,2336.1L1915.7,2336.6L1918.4,2337.0L1921.0,2337.4L1923.7,2337.8L1926.4,2338.2L1929.1,2338.5L1931.7,2338.8L1934.4,2339.2L1937.1,2339.4L1939.7,2339.7L1942.4,2340.0L1945.1,2340.2L1947.8,2340.5L1950.4,2340.7L1953.1,2340.9L1955.8,2341.1L1958.5,2341.3L1961.1,2341.5L1963.8,2341.6L1966.5,2341.8L1969.2,2342.0L1971.8,2342.1L1974.5,2342.3L1977.2,2342.4L1979.9,2342.5L1982.5,2342.7L1985.2,2342.8L1987.9,2342.9L1990.5,2343.1L1993.2,2343.2L1995.9,2343.3L1998.6,2343.5L2001.2,2343.6L2003.9,2343.7L2006.6,2343.8L2009.3,2344.0L2011.9,2344.1L2014.6,2344.2L2017.3,2344.3L2020.0,2344.4L2022.6,2344.6L2025.3,2344.7L2028.0,2344.8L2030.6,2344.9L2033.3,2345.0L2036.0,2345.1L2038.7,2345.2L2041.3,2345.3L2044.0,2345.4L2046.7,2345.5L2049.4,2345.6L2052.0,2345.7L2054.7,2345.8L2057.4,2345.8L2060.1,2345.9L2062.7,2346.0L2065.4,2346.0L2068.1,2346.1L2070.8,2346.2L2073.4,2346.2L2076.1,2346.2L2078.8,2346.3L2081.4,2346.3L2084.1,2346.3L2086.8,2346.4L2089.5,2346.4L2092.1,2346.4L2094.8,2346.4L2097.5,2346.4L2100.2,2346.4L2102.8,2346.4L2105.5,2346.4L2108.2,2346.4L2110.9,2346.4L2113.5,2346.3L2116.2,2346.3L2118.9,2346.3L2121.5,2346.3L2124.2,2346.3L2126.9,2346.2L2129.6,2346.2L2132.2,2346.2L2134.9,2346.2L2137.6,2346.2L2140.3,2346.1L2142.9,2346.1L2145.6,2346.1L2148.3,2346.1L2151.0,2346.1L2153.6,2346.1L2156.3,2346.1L2159.0,2346.1L2161.7,2346.1L2164.3,2346.1L2167.0,2346.1L2169.7,2346.1L2172.3,2346.1L2175.0,2346.1L2177.7,2346.1L2180.4,2346.1L2183.0,2346.1L2185.7,2346.2L2188.4,2346.2L2191.1,2346.2L2193.7,2346.2L2196.4,2346.2L2199.1,2346.3L2201.8,2346.3L2204.4,2346.3L2207.1,2346.3L2209.8,2346.3L2212.4,2346.4L2215.1,2346.4" fill="none" stroke="#ffb000" stroke-width="5.4" stroke-linejoin="round" />
<path d="M290.2,2343.6L292.9,2343.7L295.5,2343.8L298.2,2344.0L300.9,2344.1L303.6,2344.2L306.2,2344.3L308.9,2344.4L311.6,2344.6L314.3,2344.7L316.9,2344.8L319.6,2344.9L322.3,2345.0L325.0,2345.1L327.6,2345.2L330.3,2345.3L333.0,2345.4L335.6,2345.5L338.3,2345.6L341.0,2345.7L343.7,2345.8L346.3,2345.8L349.0,2345.9L351.7,2346.0L354.4,2346.0L357.0,2346.1L359.7,2346.2L362.4,2346.2L365.1,2346.2L367.7,2346.3L370.4,2346.3L373.1,2346.3L375.8,2346.4L378.4,2346.4L381.1,2346.4L383.8,2346.4L386.4,2346.4L389.1,2346.4L391.8,2346.4L394.5,2346.4L397.1,2346.4L399.8,2346.4L402.5,2346.3L405.2,2346.3L407.8,2346.3L410.5,2346.3L413.2,2346.3L415.9,2346.2L418.5,2346.2L421.2,2346.2L423.9,2346.2L426.5,2346.2L429.2,2346.1L431.9,2346.1L434.6,2346.1L437.2,2346.1L439.9,2346.1L442.6,2346.1L445.3,2346.1L447.9,2346.1L450.6,2346.1L453.3,2346.1L456.0,2346.1L458.6,2346.1L461.3,2346.1L464.0,2346.1L466.7,2346.1L469.3,2346.1L472.0,2346.1L474.7,2346.2L477.3,2346.2L480.0,2346.2L482.7,2346.2L485.4,2346.2L488.0,2346.3L490.7,2346.3L493.4,2346.3L496.1,2346.3L498.7,2346.3L501.4,2346.4L504.1,2346.4L506.8,2346.4L509.4,2346.4L512.1,2346.4L514.8,2346.4L517.4,2346.4L520.1,2346.4L522.8,2346.4L525.5,2346.4L528.1,2346.3L530.8,2346.3L533.5,2346.3L536.2,2346.2L538.8,2346.2L541.5,2346.2L544.2,2346.1L546.9,2346.0L549.5,2346.0L552.2,2345.9L554.9,2345.8L557.5,2345.8L560.2,2345.7L562.9,2345.6L565.6,2345.5L568.2,2345.4L570.9,2345.3L573.6,2345.2L576.3,2345.1L578.9,2345.0L581.6,2344.9L584.3,2344.8L587.0,2344.7L589.6,2344.6L592.3,2344.4L595.0,2344.3L597.7,2344.2L600.3,2344.1L603.0,2344.0L605.7,2343.8L608.3,2343.7L611.0,2343.6L613.7,2343.5L616.4,2343.3L619.0,2343.2L621.7,2343.1L624.4,2342.9L627.1,2342.8L629.7,2342.7L632.4,2342.5L635.1,2342.4L637.8,2342.3L640.4,2342.1L643.1,2342.0L645.8,2341.8L648.4,2341.6L651.1,2341.5L653.8,2341.3L656.5,2341.1L659.1,2340.9L661.8,2340.7L664.5,2340.5L667.2,2340.2L669.8,2340.0L672.5,2339.7L675.2,2339.4L677.9,2339.2L680.5,2338.8L683.2,2338.5L685.9,2338.2L688.6,2337.8L691.2,2337.4L693.9,2337.0L696.6,2336.6L699.2,2336.1L701.9,2335.6L704.6,2335.1L707.3,2334.6L709.9,2334.0L712.6,2333.4L715.3,2332.8L718.0,2332.1L720.6,2331.5L723.3,2330.7L726.0,2330.0L728.7,2329.2L731.3,2328.4L734.0,2327.5L736.7,2326.6L739.3,2325.7L742.0,2324.7L744.7,2323.7L747.4,2322.6L750.0,2321.5L752.7,2320.4L755.4,2319.2L758.1,2318.0L760.7,2316.7L763.4,2315.4L766.1,2314.0L768.8,2312.6L771.4,2311.1L774.1,2309.6L776.8,2308.0L779.5,2306.4L782.1,2304.7L784.8,2303.0L787.5,2301.2L790.1,2299.3L792.8,2297.4L795.5,2295.5L798.2,2293.4L800.8,2291.3L803.5,2289.2L806.2,2286.9L808.9,2284.6L811.5,2282.3L814.2,2279.8L816.9,2277.3L819.6,2274.7L822.2,2272.1L824.9,2269.4L827.6,2266.6L830.2,2263.7L832.9,2260.7L835.6,2257.7L838.3,2254.6L840.9,2251.4L843.6,2248.2L846.3,2244.8L849.0,2241.4L851.6,2237.9L854.3,2234.3L857.0,2230.6L859.7,2226.9L862.3,2223.1L865.0,2219.2L867.7,2215.2L870.3,2211.2L873.0,2207.1L875.7,2202.9L878.4,2198.6L881.0,2194.3L883.7,2189.9L886.4,2185.5L889.1,2181.0L891.7,2176.4L894.4,2171.8L897.1,2167.1L899.8,2162.4L902.4,2157.6L905.1,2152.8L907.8,2147.9L910.5,2143.0L913.1,2138.1L915.8,2133.1L918.5,2128.1L921.1,2123.1L923.8,2118.1L926.5,2113.1L929.2,2108.0L931.8,2103.0L934.5,2098.0L937.2,2092.9L939.9,2087.9L942.5,2082.9L945.2,2077.9L947.9,2072.9L950.6,2067.9L953.2,2063.0L955.9,2058.1L958.6,2053.2L961.2,2048.4L963.9,2043.6L966.6,2038.9L969.3,2034.2L971.9,2029.6L974.6,2025.0L977.3,2020.5L980.0,2016.1L982.6,2011.7L985.3,2007.4L988.0,2003.1L990.7,1998.9L993.3,1994.8L996.0,1990.8L998.7,1986.8L1001.4,1982.9L1004.0,1979.1L1006.7,1975.4L1009.4,1971.7L1012.0,1968.1L1014.7,1964.6L1017.4,1961.2L1020.1,1957.8L1022.7,1954.6L1025.4,1951.4L1028.1,1948.3L1030.8,1945.3L1033.4,1942.3L1036.1,1939.4L1038.8,1936.6L1041.5,1933.9L1044.1,1931.3L1046.8,1928.7L1049.5,1926.2L1052.1,1923.7L1054.8,1921.4L1057.5,1919.1L1060.2,1916.8L1062.8,1914.7L1065.5,1912.6L1068.2,1910.5L1070.9,1908.6L1073.5,1906.7L1076.2,1904.8L1078.9,1903.0L1081.6,1901.3L1084.2,1899.6L1086.9,1898.0L1089.6,1896.4L1092.2,1894.9L1094.9,1893.4L1097.6,1892.0L1100.3,1890.6L1102.9,1889.3L1105.6,1888.0L1108.3,1886.8L1111.0,1885.6L1113.6,1884.5L1116.3,1883.4L1119.0,1882.3L1121.7,1881.3L1124.3,1880.3L1127.0,1879.4L1129.7,1878.5L1132.4,1877.6L1135.0,1876.8L1137.7,1876.0L1140.4,1875.3L1143.0,1874.5L1145.7,1873.9L1148.4,1873.2L1151.1,1872.6L1153.7,1872.0L1156.4,1871.4L1159.1,1870.9L1161.8,1870.4L1164.4,1869.9L1167.1,1869.4L1169.8,1869.0L1172.5,1868.6L1175.1,1868.2L1177.8,1867.8L1180.5,1867.5L1183.1,1867.2L1185.8,1866.8L1188.5,1866.6L1191.2,1866.3L1193.8,1866.0L1196.5,1865.8L1199.2,1865.5L1201.9,1865.3L1204.5,1865.1L1207.2,1864.9L1209.9,1864.7L1212.6,1864.5L1215.2,1864.4L1217.9,1864.2L1220.6,1864.0L1223.3,1863.9L1225.9,1863.7L1228.6,1863.6L1231.3,1863.5L1233.9,1863.3L1236.6,1863.2L1239.3,1863.1L1242.0,1862.9L1244.6,1862.8L1247.3,1862.7L1250.0,1862.5L1252.7,1862.4L1255.3,1862.3L1258.0,1862.2L1260.7,1862.0L1263.4,1861.9L1266.0,1861.8L1268.7,1861.7L1271.4,1861.6L1274.0,1861.4L1276.7,1861.3L1279.4,1861.2L1282.1,1861.1L1284.7,1861.0L1287.4,1860.9L1290.1,1860.8L1292.8,1860.7L1295.4,1860.6L1298.1,1860.5L1300.8,1860.4L1303.5,1860.3L1306.1,1860.2L1308.8,1860.2L1311.5,1860.1L1314.2,1860.0L1316.8,1860.0L1319.5,1859.9L1322.2,1859.8L1324.8,1859.8L1327.5,1859.8L1330.2,1859.7L1332.9,1859.7L1335.5,1859.7L1338.2,1859.6L1340.9,1859.6L1343.6,1859.6L1346.2,1859.6L1348.9,1859.6L1351.6,1859.6L1354.3,1859.6L1356.9,1859.6L1359.6,1859.6L1362.3,1859.6L1364.9,1859.7L1367.6,1859.7L1370.3,1859.7L1373.0,1859.7L1375.6,1859.7L1378.3,1859.8L1381.0,1859.8L1383.7,1859.8L1386.3,1859.8L1389.0,1859.8L1391.7,1859.9L1394.4,1859.9L1397.0,1859.9L1399.7,1859.9L1402.4,1859.9L1405.0,1859.9L1407.7,1859.9L1410.4,1859.9L1413.1,1859.9L1415.7,1859.9L1418.4,1859.9L1421.1,1859.9L1423.8,1859.9L1426.4,1859.9L1429.1,1859.9L1431.8,1859.9L1434.5,1859.9L1437.1,1859.8L1439.8,1859.8L1442.5,1859.8L1445.2,1859.8L1447.8,1859.8L1450.5,1859.7L1453.2,1859.7L1455.8,1859.7L1458.5,1859.7L1461.2,1859.7L1463.9,1859.6L1466.5,1859.6L1469.2,1859.6L1471.9,1859.6L1474.6,1859.6L1477.2,1859.6L1479.9,1859.6L1482.6,1859.6L1485.3,1859.6L1487.9,1859.6L1490.6,1859.7L1493.3,1859.7L1495.9,1859.7L1498.6,1859.8L1501.3,1859.8L1504.0,1859.8L1506.6,1859.9L1509.3,1860.0L1512.0,1860.0L1514.7,1860.1L1517.3,1860.2L1520.0,1860.2L1522.7,1860.3L1525.4,1860.4L1528.0,1860.5L1530.7,1860.6L1533.4,1860.7L1536.1,1860.8L1538.7,1860.9L1541.4,1861.0L1544.1,1861.1L1546.7,1861.2L1549.4,1861.3L1552.1,1861.4L1554.8,1861.6L1557.4,1861.7L1560.1,1861.8L1562.8,1861.9L1565.5,1862.0L1568.1,1862.2L1570.8,1862.3L1573.5,1862.4L1576.2,1862.5L1578.8,1862.7L1581.5,1862.8L1584.2,1862.9L1586.8,1863.1L1589.5,1863.2L1592.2,1863.3L1594.9,1863.5L1597.5,1863.6L1600.2,1863.7L1602.9,1863.9L1605.6,1864.0L1608.2,1864.2L1610.9,1864.4L1613.6,1864.5L1616.3,1864.7L1618.9,1864.9L1621.6,1865.1L1624.3,1865.3L1627.0,1865.5L1629.6,1865.8L1632.3,1866.0L1635.0,1866.3L1637.6,1866.6L1640.3,1866.8L1643.0,1867.2L1645.7,1867.5L1648.3,1867.8L1651.0,1868.2L1653.7,1868.6L1656.4,1869.0L1659.0,1869.4L1661.7,1869.9L1664.4,1870.4L1667.1,1870.9L1669.7,1871.4L1672.4,1872.0L1675.1,1872.6L1677.7,1873.2L1680.4,1873.9L1683.1,1874.5L1685.8,1875.3L1688.4,1876.0L1691.1,1876.8L1693.8,1877.6L1696.5,1878.5L1699.1,1879.4L1701.8,1880.3L1704.5,1881.3L1707.2,1882.3L1709.8,1883.4L1712.5,1884.5L1715.2,1885.6L1717.8,1886.8L1720.5,1888.0L1723.2,1889.3L1725.9,1890.6L1728.5,1892.0L1731.2,1893.4L1733.9,1894.9L1736.6,1896.4L1739.2,1898.0L1741.9,1899.6L1744.6,1901.3L1747.3,1903.0L1749.9,1904.8L1752.6,1906.7L1755.3,1908.6L1758.0,1910.5L1760.6,1912.6L1763.3,1914.7L1766.0,1916.8L1768.6,1919.1L1771.3,1921.4L1774.0,1923.7L1776.7,1926.2L1779.3,1928.7L1782.0,1931.3L1784.7,1933.9L1787.4,1936.6L1790.0,1939.4L1792.7,1942.3L1795.4,1945.3L1798.1,1948.3L1800.7,1951.4L1803.4,1954.6L1806.1,1957.8L1808.7,1961.2L1811.4,1964.6L1814.1,1968.1L1816.8,1971.7L1819.4,1975.4L1822.1,1979.1L1824.8,1982.9L1827.5,1986.8L1830.1,1990.8L1832.8,1994.8L1835.5,1998.9L1838.2,2003.1L1840.8,2007.4L1843.5,2011.7L1846.2,2016.1L1848.9,2020.5L1851.5,2025.0L1854.2,2029.6L1856.9,2034.2L1859.5,2038.9L1862.2,2043.6L1864.9,2048.4L1867.6,2053.2L1870.2,2058.1L1872.9,2063.0L1875.6,2067.9L1878.3,2072.9L1880.9,2077.9L1883.6,2082.9L1886.3,2087.9L1889.0,2092.9L1891.6,2098.0L1894.3,2103.0L1897.0,2108.0L1899.6,2113.1L1902.3,2118.1L1905.0,2123.1L1907.7,2128.1L1910.3,2133.1L1913.0,2138.1L1915.7,2143.0L1918.4,2147.9L1921.0,2152.8L1923.7,2157.6L1926.4,2162.4L1929.1,2167.1L1931.7,2171.8L1934.4,2176.4L1937.1,2181.0L1939.7,2185.5L1942.4,2189.9L1945.1,2194.3L1947.8,2198.6L1950.4,2202.9L1953.1,2207.1L1955.8,2211.2L1958.5,2215.2L1961.1,2219.2L1963.8,2223.1L1966.5,2226.9L1969.2,2230.6L1971.8,2234.3L1974.5,2237.9L1977.2,2241.4L1979.9,2244.8L1982.5,2248.2L1985.2,2251.4L1987.9,2254.6L1990.5,2257.7L1993.2,2260.7L1995.9,2263.7L1998.6,2266.6L2001.2,2269.4L2003.9,2272.1L2006.6,2274.7L2009.3,2277.3L2011.9,2279.8L2014.6,2282.3L2017.3,2284.6L2020.0,2286.9L2022.6,2289.2L2025.3,2291.3L2028.0,2293.4L2030.6,2295.5L2033.3,2297.4L2036.0,2299.3L2038.7,2301.2L2041.3,2303.0L2044.0,2304.7L2046.7,2306.4L2049.4,2308.0L2052.0,2309.6L2054.7,2311.1L2057.4,2312.6L2060.1,2314.0L2062.7,2315.4L2065.4,2316.7L2068.1,2318.0L2070.8,2319.2L2073.4,2320.4L2076.1,2321.5L2078.8,2322.6L2081.4,2323.7L2084.1,2324.7L2086.8,2325.7L2089.5,2326.6L2092.1,2327.5L2094.8,2328.4L2097.5,2329.2L2100.2,2330.0L2102.8,2330.7L2105.5,2331.5L2108.2,2332.1L2110.9,2332.8L2113.5,2333.4L2116.2,2334.0L2118.9,2334.6L2121.5,2335.1L2124.2,2335.6L2126.9,2336.1L2129.6,2336.6L2132.2,2337.0L2134.9,2337.4L2137.6,2337.8L2140.3,2338.2L2142.9,2338.5L2145.6,2338.8L2148.3,2339.2L2151.0,2339.4L2153.6,2339.7L2156.3,2340.0L2159.0,2340.2L2161.7,2340.5L2164.3,2340.7L2167.0,2340.9L2169.7,2341.1L2172.3,2341.3L2175.0,2341.5L2177.7,2341.6L2180.4,2341.8L2183.0,2342.0L2185.7,2342.1L2188.4,2342.3L2191.1,2342.4L2193.7,2342.5L2196.4,2342.7L2199.1,2342.8L2201.8,2342.9L2204.4,2343.1L2207.1,2343.2L2209.8,2343.3L2212.4,2343.5L2215.1,2343.6" fill="none" stroke="#912896" stroke-width="5.4" stroke-linejoin="round" />
<path d="M290.2,2269.4L292.9,2272.1L295.5,2274.7L298.2,2277.3L300.9,2279.8L303.6,2282.3L306.2,2284.6L308.9,2286.9L311.6,2289.2L314.3,2291.3L316.9,2293.4L319.6,2295.5L322.3,2297.4L325.0,2299.3L327.6,2301.2L330.3,2303.0L333.0,2304.7L335.6,2306.4L338.3,2308.0L341.0,2309.6L343.7,2311.1L346.3,2312.6L349.0,2314.0L351.7,2315.4L354.4,2316.7L357.0,2318.0L359.7,2319.2L362.4,2320.4L365.1,2321.5L367.7,2322.6L370.4,2323.7L373.1,2324.7L375.8,2325.7L378.4,2326.6L381.1,2327.5L383.8,2328.4L386.4,2329.2L389.1,2330.0L391.8,2330.7L394.5,2331.5L397.1,2332.1L399.8,2332.8L402.5,2333.4L405.2,2334.0L407.8,2334.6L410.5,2335.1L413.2,2335.6L415.9,2336.1L418.5,2336.6L421.2,2337.0L423.9,2337.4L426.5,2337.8L429.2,2338.2L431.9,2338.5L434.6,2338.8L437.2,2339.2L439.9,2339.4L442.6,2339.7L445.3,2340.0L447.9,2340.2L450.6,2340.5L453.3,2340.7L456.0,2340.9L458.6,2341.1L461.3,2341.3L464.0,2341.5L466.7,2341.6L469.3,2341.8L472.0,2342.0L474.7,2342.1L477.3,2342.3L480.0,2342.4L482.7,2342.5L485.4,2342.7L488.0,2342.8L490.7,2342.9L493.4,2343.1L496.1,2343.2L498.7,2343.3L501.4,2343.5L504.1,2343.6L506.8,2343.7L509.4,2343.8L512.1,2344.0L514.8,2344.1L517.4,2344.2L520.1,2344.3L522.8,2344.4L525.5,2344.6L528.1,2344.7L530.8,2344.8L533.5,2344.9L536.2,2345.0L538.8,2345.1L541.5,2345.2L544.2,2345.3L546.9,2345.4L549.5,2345.5L552.2,2345.6L554.9,2345.7L557.5,2345.8L560.2,2345.8L562.9,2345.9L565.6,2346.0L568.2,2346.0L570.9,2346.1L573.6,2346.2L576.3,2346.2L578.9,2346.2L581.6,2346.3L584.3,2346.3L587.0,2346.3L589.6,2346.4L592.3,2346.4L595.0,2346.4L597.7,2346.4L600.3,2346.4L603.0,2346.4L605.7,2346.4L608.3,2346.4L611.0,2346.4L613.7,2346.4L616.4,2346.3L619.0,2346.3L621.7,2346.3L624.4,2346.3L627.1,2346.3L629.7,2346.2L632.4,2346.2L635.1,2346.2L637.8,2346.2L640.4,2346.2L643.1,2346.1L645.8,2346.1L648.4,2346.1L651.1,2346.1L653.8,2346.1L656.5,2346.1L659.1,2346.1L661.8,2346.1L664.5,2346.1L667.2,2346.1L669.8,2346.1L672.5,2346.1L675.2,2346.1L677.9,2346.1L680.5,2346.1L683.2,2346.1L685.9,2346.1L688.6,2346.2L691.2,2346.2L693.9,2346.2L696.6,2346.2L699.2,2346.2L701.9,2346.3L704.6,2346.3L707.3,2346.3L709.9,2346.3L712.6,2346.3L715.3,2346.4L718.0,2346.4L720.6,2346.4L723.3,2346.4L726.0,2346.4L728.7,2346.4L731.3,2346.4L734.0,2346.4L736.7,2346.4L739.3,2346.4L742.0,2346.3L744.7,2346.3L747.4,2346.3L750.0,2346.2L752.7,2346.2L755.4,2346.2L758.1,2346.1L760.7,2346.0L763.4,2346.0L766.1,2345.9L768.8,2345.8L771.4,2345.8L774.1,2345.7L776.8,2345.6L779.5,2345.5L782.1,2345.4L784.8,2345.3L787.5,2345.2L790.1,2345.1L792.8,2345.0L795.5,2344.9L798.2,2344.8L800.8,2344.7L803.5,2344.6L806.2,2344.4L808.9,2344.3L811.5,2344.2L814.2,2344.1L816.9,2344.0L819.6,2343.8L822.2,2343.7L824.9,2343.6L827.6,2343.5L830.2,2343.3L832.9,2343.2L835.6,2343.1L838.3,2342.9L840.9,2342.8L843.6,2342.7L846.3,2342.5L849.0,2342.4L851.6,2342.3L854.3,2342.1L857.0,2342.0L859.7,2341.8L862.3,2341.6L865.0,2341.5L867.7,2341.3L870.3,2341.1L873.0,2340.9L875.7,2340.7L878.4,2340.5L881.0,2340.2L883.7,2340.0L886.4,2339.7L889.1,2339.4L891.7,2339.2L894.4,2338.8L897.1,2338.5L899.8,2338.2L902.4,2337.8L905.1,2337.4L907.8,2337.0L910.5,2336.6L913.1,2336.1L915.8,2335.6L918.5,2335.1L921.1,2334.6L923.8,2334.0L926.5,2333.4L929.2,2332.8L931.8,2332.1L934.5,2331.5L937.2,2330.7L939.9,2330.0L942.5,2329.2L945.2,2328.4L947.9,2327.5L950.6,2326.6L953.2,2325.7L955.9,2324.7L958.6,2323.7L961.2,2322.6L963.9,2321.5L966.6,2320.4L969.3,2319.2L971.9,2318.0L974.6,2316.7L977.3,2315.4L980.0,2314.0L982.6,2312.6L985.3,2311.1L988.0,2309.6L990.7,2308.0L993.3,2306.4L996.0,2304.7L998.7,2303.0L1001.4,2301.2L1004.0,2299.3L1006.7,2297.4L1009.4,2295.5L1012.0,2293.4L1014.7,2291.3L1017.4,2289.2L1020.1,2286.9L1022.7,2284.6L1025.4,2282.3L1028.1,2279.8L1030.8,2277.3L1033.4,2274.7L1036.1,2272.1L1038.8,2269.4L1041.5,2266.6L1044.1,2263.7L1046.8,2260.7L1049.5,2257.7L1052.1,2254.6L1054.8,2251.4L1057.5,2248.2L1060.2,2244.8L1062.8,2241.4L1065.5,2237.9L1068.2,2234.3L1070.9,2230.6L1073.5,2226.9L1076.2,2223.1L1078.9,2219.2L1081.6,2215.2L1084.2,2211.2L1086.9,2207.1L1089.6,2202.9L1092.2,2198.6L1094.9,2194.3L1097.6,2189.9L1100.3,2185.5L1102.9,2181.0L1105.6,2176.4L1108.3,2171.8L1111.0,2167.1L1113.6,2162.4L1116.3,2157.6L1119.0,2152.8L1121.7,2147.9L1124.3,2143.0L1127.0,2138.1L1129.7,2133.1L1132.4,2128.1L1135.0,2123.1L1137.7,2118.1L1140.4,2113.1L1143.0,2108.0L1145.7,2103.0L1148.4,2098.0L1151.1,2092.9L1153.7,2087.9L1156.4,2082.9L1159.1,2077.9L1161.8,2072.9L1164.4,2067.9L1167.1,2063.0L1169.8,2058.1L1172.5,2053.2L1175.1,2048.4L1177.8,2043.6L1180.5,2038.9L1183.1,2034.2L1185.8,2029.6L1188.5,2025.0L1191.2,2020.5L1193.8,2016.1L1196.5,2011.7L1199.2,2007.4L1201.9,2003.1L1204.5,1998.9L1207.2,1994.8L1209.9,1990.8L1212.6,1986.8L1215.2,1982.9L1217.9,1979.1L1220.6,1975.4L1223.3,1971.7L1225.9,1968.1L1228.6,1964.6L1231.3,1961.2L1233.9,1957.8L1236.6,1954.6L1239.3,1951.4L1242.0,1948.3L1244.6,1945.3L1247.3,1942.3L1250.0,1939.4L1252.7,1936.6L1255.3,1933.9L1258.0,1931.3L1260.7,1928.7L1263.4,1926.2L1266.0,1923.7L1268.7,1921.4L1271.4,1919.1L1274.0,1916.8L1276.7,1914.7L1279.4,1912.6L1282.1,1910.5L1284.7,1908.6L1287.4,1906.7L1290.1,1904.8L1292.8,1903.0L1295.4,1901.3L1298.1,1899.6L1300.8,1898.0L1303.5,1896.4L1306.1,1894.9L1308.8,1893.4L1311.5,1892.0L1314.2,1890.6L1316.8,1889.3L1319.5,1888.0L1322.2,1886.8L1324.8,1885.6L1327.5,1884.5L1330.2,1883.4L1332.9,1882.3L1335.5,1881.3L1338.2,1880.3L1340.9,1879.4L1343.6,1878.5L1346.2,1877.6L1348.9,1876.8L1351.6,1876.0L1354.3,1875.3L1356.9,1874.5L1359.6,1873.9L1362.3,1873.2L1364.9,1872.6L1367.6,1872.0L1370.3,1871.4L1373.0,1870.9L1375.6,1870.4L1378.3,1869.9L1381.0,1869.4L1383.7,1869.0L1386.3,1868.6L1389.0,1868.2L1391.7,1867.8L1394.4,1867.5L1397.0,1867.2L1399.7,1866.8L1402.4,1866.6L1405.0,1866.3L1407.7,1866.0L1410.4,1865.8L1413.1,1865.5L1415.7,1865.3L1418.4,1865.1L1421.1,1864.9L1423.8,1864.7L1426.4,1864.5L1429.1,1864.4L1431.8,1864.2L1434.5,1864.0L1437.1,1863.9L1439.8,1863.7L1442.5,1863.6L1445.2,1863.5L1447.8,1863.3L1450.5,1863.2L1453.2,1863.1L1455.8,1862.9L1458.5,1862.8L1461.2,1862.7L1463.9,1862.5L1466.5,1862.4L1469.2,1862.3L1471.9,1862.2L1474.6,1862.0L1477.2,1861.9L1479.9,1861.8L1482.6,1861.7L1485.3,1861.6L1487.9,1861.4L1490.6,1861.3L1493.3,1861.2L1495.9,1861.1L1498.6,1861.0L1501.3,1860.9L1504.0,1860.8L1506.6,1860.7L1509.3,1860.6L1512.0,1860.5L1514.7,1860.4L1517.3,1860.3L1520.0,1860.2L1522.7,1860.2L1525.4,1860.1L1528.0,1860.0L1530.7,1860.0L1533.4,1859.9L1536.1,1859.8L1538.7,1859.8L1541.4,1859.8L1544.1,1859.7L1546.7,1859.7L1549.4,1859.7L1552.1,1859.6L1554.8,1859.6L1557.4,1859.6L1560.1,1859.6L1562.8,1859.6L1565.5,1859.6L1568.1,1859.6L1570.8,1859.6L1573.5,1859.6L1576.2,1859.6L1578.8,1859.7L1581.5,1859.7L1584.2,1859.7L1586.8,1859.7L1589.5,1859.7L1592.2,1859.8L1594.9,1859.8L1597.5,1859.8L1600.2,1859.8L1602.9,1859.8L1605.6,1859.9L1608.2,1859.9L1610.9,1859.9L1613.6,1859.9L1616.3,1859.9L1618.9,1859.9L1621.6,1859.9L1624.3,1859.9L1627.0,1859.9L1629.6,1859.9L1632.3,1859.9L1635.0,1859.9L1637.6,1859.9L1640.3,1859.9L1643.0,1859.9L1645.7,1859.9L1648.3,1859.9L1651.0,1859.8L1653.7,1859.8L1656.4,1859.8L1659.0,1859.8L1661.7,1859.8L1664.4,1859.7L1667.1,1859.7L1669.7,1859.7L1672.4,1859.7L1675.1,1859.7L1677.7,1859.6L1680.4,1859.6L1683.1,1859.6L1685.8,1859.6L1688.4,1859.6L1691.1,1859.6L1693.8,1859.6L1696.5,1859.6L1699.1,1859.6L1701.8,1859.6L1704.5,1859.7L1707.2,1859.7L1709.8,1859.7L1712.5,1859.8L1715.2,1859.8L1717.8,1859.8L1720.5,1859.9L1723.2,1860.0L1725.9,1860.0L1728.5,1860.1L1731.2,1860.2L1733.9,1860.2L1736.6,1860.3L1739.2,1860.4L1741.9,1860.5L1744.6,1860.6L1747.3,1860.7L1749.9,1860.8L1752.6,1860.9L1755.3,1861.0L1758.0,1861.1L1760.6,1861.2L1763.3,1861.3L1766.0,1861.4L1768.6,1861.6L1771.3,1861.7L1774.0,1861.8L1776.7,1861.9L1779.3,1862.0L1782.0,1862.2L1784.7,1862.3L1787.4,1862.4L1790.0,1862.5L1792.7,1862.7L1795.4,1862.8L1798.1,1862.9L1800.7,1863.1L1803.4,1863.2L1806.1,1863.3L1808.7,1863.5L1811.4,1863.6L1814.1,1863.7L1816.8,1863.9L1819.4,1864.0L1822.1,1864.2L1824.8,1864.4L1827.5,1864.5L1830.1,1864.7L1832.8,1864.9L1835.5,1865.1L1838.2,1865.3L1840.8,1865.5L1843.5,1865.8L1846.2,1866.0L1848.9,1866.3L1851.5,1866.6L1854.2,1866.8L1856.9,1867.2L1859.5,1867.5L1862.2,1867.8L1864.9,1868.2L1867.6,1868.6L1870.2,1869.0L1872.9,1869.4L1875.6,1869.9L1878.3,1870.4L1880.9,1870.9L1883.6,1871.4L1886.3,1872.0L1889.0,1872.6L1891.6,1873.2L1894.3,1873.9L1897.0,1874.5L1899.6,1875.3L1902.3,1876.0L1905.0,1876.8L1907.7,1877.6L1910.3,1878.5L1913.0,1879.4L1915.7,1880.3L1918.4,1881.3L1921.0,1882.3L1923.7,1883.4L1926.4,1884.5L1929.1,1885.6L1931.7,1886.8L1934.4,1888.0L1937.1,1889.3L1939.7,1890.6L1942.4,1892.0L1945.1,1893.4L1947.8,1894.9L1950.4,1896.4L1953.1,1898.0L1955.8,1899.6L1958.5,1901.3L1961.1,1903.0L1963.8,1904.8L1966.5,1906.7L1969.2,1908.6L1971.8,1910.5L1974.5,1912.6L1977.2,1914.7L1979.9,1916.8L1982.5,1919.1L1985.2,1921.4L1987.9,1923.7L1990.5,1926.2L1993.2,1928.7L1995.9,1931.3L1998.6,1933.9L2001.2,1936.6L2003.9,1939.4L2006.6,1942.3L2009.3,1945.3L2011.9,1948.3L2014.6,1951.4L2017.3,1954.6L2020.0,1957.8L2022.6,1961.2L2025.3,1964.6L2028.0,1968.1L2030.6,1971.7L2033.3,1975.4L2036.0,1979.1L2038.7,1982.9L2041.3,1986.8L2044.0,1990.8L2046.7,1994.8L2049.4,1998.9L2052.0,2003.1L2054.7,2007.4L2057.4,2011.7L2060.1,2016.1L2062.7,2020.5L2065.4,2025.0L2068.1,2029.6L2070.8,2034.2L2073.4,2038.9L2076.1,2043.6L2078.8,2048.4L2081.4,2053.2L2084.1,2058.1L2086.8,2063.0L2089.5,2067.9L2092.1,2072.9L2094.8,2077.9L2097.5,2082.9L2100.2,2087.9L2102.8,2092.9L2105.5,2098.0L2108.2,2103.0L2110.9,2108.0L2113.5,2113.1L2116.2,2118.1L2118.9,2123.1L2121.5,2128.1L2124.2,2133.1L2126.9,2138.1L2129.6,2143.0L2132.2,2147.9L2134.9,2152.8L2137.6,2157.6L2140.3,2162.4L2142.9,2167.1L2145.6,2171.8L2148.3,2176.4L2151.0,2181.0L2153.6,2185.5L2156.3,2189.9L2159.0,2194.3L2161.7,2198.6L2164.3,2202.9L2167.0,2207.1L2169.7,2211.2L2172.3,2215.2L2175.0,2219.2L2177.7,2223.1L2180.4,2226.9L2183.0,2230.6L2185.7,2234.3L2188.4,2237.9L2191.1,2241.4L2193.7,2244.8L2196.4,2248.2L2199.1,2251.4L2201.8,2254.6L2204.4,2257.7L2207.1,2260.7L2209.8,2263.7L2212.4,2266.6L2215.1,2269.4" fill="none" stroke="#00b050" stroke-width="7" stroke-linejoin="round" stroke-linecap="round" stroke-dasharray="8.8 17.508" stroke-dashoffset="23.96"/>
<path d="M290.2,1936.6L292.9,1939.4L295.5,1942.3L298.2,1945.3L300.9,1948.3L303.6,1951.4L306.2,1954.6L308.9,1957.8L311.6,1961.2L314.3,1964.6L316.9,1968.1L319.6,1971.7L322.3,1975.4L325.0,1979.1L327.6,1982.9L330.3,1986.8L333.0,1990.8L335.6,1994.8L338.3,1998.9L341.0,2003.1L343.7,2007.4L346.3,2011.7L349.0,2016.1L351.7,2020.5L354.4,2025.0L357.0,2029.6L359.7,2034.2L362.4,2038.9L365.1,2043.6L367.7,2048.4L370.4,2053.2L373.1,2058.1L375.8,2063.0L378.4,2067.9L381.1,2072.9L383.8,2077.9L386.4,2082.9L389.1,2087.9L391.8,2092.9L394.5,2098.0L397.1,2103.0L399.8,2108.0L402.5,2113.1L405.2,2118.1L407.8,2123.1L410.5,2128.1L413.2,2133.1L415.9,2138.1L418.5,2143.0L421.2,2147.9L423.9,2152.8L426.5,2157.6L429.2,2162.4L431.9,2167.1L434.6,2171.8L437.2,2176.4L439.9,2181.0L442.6,2185.5L445.3,2189.9L447.9,2194.3L450.6,2198.6L453.3,2202.9L456.0,2207.1L458.6,2211.2L461.3,2215.2L464.0,2219.2L466.7,2223.1L469.3,2226.9L472.0,2230.6L474.7,2234.3L477.3,2237.9L480.0,2241.4L482.7,2244.8L485.4,2248.2L488.0,2251.4L490.7,2254.6L493.4,2257.7L496.1,2260.7L498.7,2263.7L501.4,2266.6L504.1,2269.4L506.8,2272.1L509.4,2274.7L512.1,2277.3L514.8,2279.8L517.4,2282.3L520.1,2284.6L522.8,2286.9L525.5,2289.2L528.1,2291.3L530.8,2293.4L533.5,2295.5L536.2,2297.4L538.8,2299.3L541.5,2301.2L544.2,2303.0L546.9,2304.7L549.5,2306.4L552.2,2308.0L554.9,2309.6L557.5,2311.1L560.2,2312.6L562.9,2314.0L565.6,2315.4L568.2,2316.7L570.9,2318.0L573.6,2319.2L576.3,2320.4L578.9,2321.5L581.6,2322.6L584.3,2323.7L587.0,2324.7L589.6,2325.7L592.3,2326.6L595.0,2327.5L597.7,2328.4L600.3,2329.2L603.0,2330.0L605.7,2330.7L608.3,2331.5L611.0,2332.1L613.7,2332.8L616.4,2333.4L619.0,2334.0L621.7,2334.6L624.4,2335.1L627.1,2335.6L629.7,2336.1L632.4,2336.6L635.1,2337.0L637.8,2337.4L640.4,2337.8L643.1,2338.2L645.8,2338.5L648.4,2338.8L651.1,2339.2L653.8,2339.4L656.5,2339.7L659.1,2340.0L661.8,2340.2L664.5,2340.5L667.2,2340.7L669.8,2340.9L672.5,2341.1L675.2,2341.3L677.9,2341.5L680.5,2341.6L683.2,2341.8L685.9,2342.0L688.6,2342.1L691.2,2342.3L693.9,2342.4L696.6,2342.5L699.2,2342.7L701.9,2342.8L704.6,2342.9L707.3,2343.1L709.9,2343.2L712.6,2343.3L715.3,2343.5L718.0,2343.6L720.6,2343.7L723.3,2343.8L726.0,2344.0L728.7,2344.1L731.3,2344.2L734.0,2344.3L736.7,2344.4L739.3,2344.6L742.0,2344.7L744.7,2344.8L747.4,2344.9L750.0,2345.0L752.7,2345.1L755.4,2345.2L758.1,2345.3L760.7,2345.4L763.4,2345.5L766.1,2345.6L768.8,2345.7L771.4,2345.8L774.1,2345.8L776.8,2345.9L779.5,2346.0L782.1,2346.0L784.8,2346.1L787.5,2346.2L790.1,2346.2L792.8,2346.2L795.5,2346.3L798.2,2346.3L800.8,2346.3L803.5,2346.4L806.2,2346.4L808.9,2346.4L811.5,2346.4L814.2,2346.4L816.9,2346.4L819.6,2346.4L822.2,2346.4L824.9,2346.4L827.6,2346.4L830.2,2346.3L832.9,2346.3L835.6,2346.3L838.3,2346.3L840.9,2346.3L843.6,2346.2L846.3,2346.2L849.0,2346.2L851.6,2346.2L854.3,2346.2L857.0,2346.1L859.7,2346.1L862.3,2346.1L865.0,2346.1L867.7,2346.1L870.3,2346.1L873.0,2346.1L875.7,2346.1L878.4,2346.1L881.0,2346.1L883.7,2346.1L886.4,2346.1L889.1,2346.1L891.7,2346.1L894.4,2346.1L897.1,2346.1L899.8,2346.1L902.4,2346.2L905.1,2346.2L907.8,2346.2L910.5,2346.2L913.1,2346.2L915.8,2346.3L918.5,2346.3L921.1,2346.3L923.8,2346.3L926.5,2346.3L929.2,2346.4L931.8,2346.4L934.5,2346.4L937.2,2346.4L939.9,2346.4L942.5,2346.4L945.2,2346.4L947.9,2346.4L950.6,2346.4L953.2,2346.4L955.9,2346.3L958.6,2346.3L961.2,2346.3L963.9,2346.2L966.6,2346.2L969.3,2346.2L971.9,2346.1L974.6,2346.0L977.3,2346.0L980.0,2345.9L982.6,2345.8L985.3,2345.8L988.0,2345.7L990.7,2345.6L993.3,2345.5L996.0,2345.4L998.7,2345.3L1001.4,2345.2L1004.0,2345.1L1006.7,2345.0L1009.4,2344.9L1012.0,2344.8L1014.7,2344.7L1017.4,2344.6L1020.1,2344.4L1022.7,2344.3L1025.4,2344.2L1028.1,2344.1L1030.8,2344.0L1033.4,2343.8L1036.1,2343.7L1038.8,2343.6L1041.5,2343.5L1044.1,2343.3L1046.8,2343.2L1049.5,2343.1L1052.1,2342.9L1054.8,2342.8L1057.5,2342.7L1060.2,2342.5L1062.8,2342.4L1065.5,2342.3L1068.2,2342.1L1070.9,2342.0L1073.5,2341.8L1076.2,2341.6L1078.9,2341.5L1081.6,2341.3L1084.2,2341.1L1086.9,2340.9L1089.6,2340.7L1092.2,2340.5L1094.9,2340.2L1097.6,2340.0L1100.3,2339.7L1102.9,2339.4L1105.6,2339.2L1108.3,2338.8L1111.0,2338.5L1113.6,2338.2L1116.3,2337.8L1119.0,2337.4L1121.7,2337.0L1124.3,2336.6L1127.0,2336.1L1129.7,2335.6L1132.4,2335.1L1135.0,2334.6L1137.7,2334.0L1140.4,2333.4L1143.0,2332.8L1145.7,2332.1L1148.4,2331.5L1151.1,2330.7L1153.7,2330.0L1156.4,2329.2L1159.1,2328.4L1161.8,2327.5L1164.4,2326.6L1167.1,2325.7L1169.8,2324.7L1172.5,2323.7L1175.1,2322.6L1177.8,2321.5L1180.5,2320.4L1183.1,2319.2L1185.8,2318.0L1188.5,2316.7L1191.2,2315.4L1193.8,2314.0L1196.5,2312.6L1199.2,2311.1L1201.9,2309.6L1204.5,2308.0L1207.2,2306.4L1209.9,2304.7L1212.6,2303.0L1215.2,2301.2L1217.9,2299.3L1220.6,2297.4L1223.3,2295.5L1225.9,2293.4L1228.6,2291.3L1231.3,2289.2L1233.9,2286.9L1236.6,2284.6L1239.3,2282.3L1242.0,2279.8L1244.6,2277.3L1247.3,2274.7L1250.0,2272.1L1252.7,2269.4L1255.3,2266.6L1258.0,2263.7L1260.7,2260.7L1263.4,2257.7L1266.0,2254.6L1268.7,2251.4L1271.4,2248.2L1274.0,2244.8L1276.7,2241.4L1279.4,2237.9L1282.1,2234.3L1284.7,2230.6L1287.4,2226.9L1290.1,2223.1L1292.8,2219.2L1295.4,2215.2L1298.1,2211.2L1300.8,2207.1L1303.5,2202.9L1306.1,2198.6L1308.8,2194.3L1311.5,2189.9L1314.2,2185.5L1316.8,2181.0L1319.5,2176.4L1322.2,2171.8L1324.8,2167.1L1327.5,2162.4L1330.2,2157.6L1332.9,2152.8L1335.5,2147.9L1338.2,2143.0L1340.9,2138.1L1343.6,2133.1L1346.2,2128.1L1348.9,2123.1L1351.6,2118.1L1354.3,2113.1L1356.9,2108.0L1359.6,2103.0L1362.3,2098.0L1364.9,2092.9L1367.6,2087.9L1370.3,2082.9L1373.0,2077.9L1375.6,2072.9L1378.3,2067.9L1381.0,2063.0L1383.7,2058.1L1386.3,2053.2L1389.0,2048.4L1391.7,2043.6L1394.4,2038.9L1397.0,2034.2L1399.7,2029.6L1402.4,2025.0L1405.0,2020.5L1407.7,2016.1L1410.4,2011.7L1413.1,2007.4L1415.7,2003.1L1418.4,1998.9L1421.1,1994.8L1423.8,1990.8L1426.4,1986.8L1429.1,1982.9L1431.8,1979.1L1434.5,1975.4L1437.1,1971.7L1439.8,1968.1L1442.5,1964.6L1445.2,1961.2L1447.8,1957.8L1450.5,1954.6L1453.2,1951.4L1455.8,1948.3L1458.5,1945.3L1461.2,1942.3L1463.9,1939.4L1466.5,1936.6L1469.2,1933.9L1471.9,1931.3L1474.6,1928.7L1477.2,1926.2L1479.9,1923.7L1482.6,1921.4L1485.3,1919.1L1487.9,1916.8L1490.6,1914.7L1493.3,1912.6L1495.9,1910.5L1498.6,1908.6L1501.3,1906.7L1504.0,1904.8L1506.6,1903.0L1509.3,1901.3L1512.0,1899.6L1514.7,1898.0L1517.3,1896.4L1520.0,1894.9L1522.7,1893.4L1525.4,1892.0L1528.0,1890.6L1530.7,1889.3L1533.4,1888.0L1536.1,1886.8L1538.7,1885.6L1541.4,1884.5L1544.1,1883.4L1546.7,1882.3L1549.4,1881.3L1552.1,1880.3L1554.8,1879.4L1557.4,1878.5L1560.1,1877.6L1562.8,1876.8L1565.5,1876.0L1568.1,1875.3L1570.8,1874.5L1573.5,1873.9L1576.2,1873.2L1578.8,1872.6L1581.5,1872.0L1584.2,1871.4L1586.8,1870.9L1589.5,1870.4L1592.2,1869.9L1594.9,1869.4L1597.5,1869.0L1600.2,1868.6L1602.9,1868.2L1605.6,1867.8L1608.2,1867.5L1610.9,1867.2L1613.6,1866.8L1616.3,1866.6L1618.9,1866.3L1621.6,1866.0L1624.3,1865.8L1627.0,1865.5L1629.6,1865.3L1632.3,1865.1L1635.0,1864.9L1637.6,1864.7L1640.3,1864.5L1643.0,1864.4L1645.7,1864.2L1648.3,1864.0L1651.0,1863.9L1653.7,1863.7L1656.4,1863.6L1659.0,1863.5L1661.7,1863.3L1664.4,1863.2L1667.1,1863.1L1669.7,1862.9L1672.4,1862.8L1675.1,1862.7L1677.7,1862.5L1680.4,1862.4L1683.1,1862.3L1685.8,1862.2L1688.4,1862.0L1691.1,1861.9L1693.8,1861.8L1696.5,1861.7L1699.1,1861.6L1701.8,1861.4L1704.5,1861.3L1707.2,1861.2L1709.8,1861.1L1712.5,1861.0L1715.2,1860.9L1717.8,1860.8L1720.5,1860.7L1723.2,1860.6L1725.9,1860.5L1728.5,1860.4L1731.2,1860.3L1733.9,1860.2L1736.6,1860.2L1739.2,1860.1L1741.9,1860.0L1744.6,1860.0L1747.3,1859.9L1749.9,1859.8L1752.6,1859.8L1755.3,1859.8L1758.0,1859.7L1760.6,1859.7L1763.3,1859.7L1766.0,1859.6L1768.6,1859.6L1771.3,1859.6L1774.0,1859.6L1776.7,1859.6L1779.3,1859.6L1782.0,1859.6L1784.7,1859.6L1787.4,1859.6L1790.0,1859.6L1792.7,1859.7L1795.4,1859.7L1798.1,1859.7L1800.7,1859.7L1803.4,1859.7L1806.1,1859.8L1808.7,1859.8L1811.4,1859.8L1814.1,1859.8L1816.8,1859.8L1819.4,1859.9L1822.1,1859.9L1824.8,1859.9L1827.5,1859.9L1830.1,1859.9L1832.8,1859.9L1835.5,1859.9L1838.2,1859.9L1840.8,1859.9L1843.5,1859.9L1846.2,1859.9L1848.9,1859.9L1851.5,1859.9L1854.2,1859.9L1856.9,1859.9L1859.5,1859.9L1862.2,1859.9L1864.9,1859.8L1867.6,1859.8L1870.2,1859.8L1872.9,1859.8L1875.6,1859.8L1878.3,1859.7L1880.9,1859.7L1883.6,1859.7L1886.3,1859.7L1889.0,1859.7L1891.6,1859.6L1894.3,1859.6L1897.0,1859.6L1899.6,1859.6L1902.3,1859.6L1905.0,1859.6L1907.7,1859.6L1910.3,1859.6L1913.0,1859.6L1915.7,1859.6L1918.4,1859.7L1921.0,1859.7L1923.7,1859.7L1926.4,1859.8L1929.1,1859.8L1931.7,1859.8L1934.4,1859.9L1937.1,1860.0L1939.7,1860.0L1942.4,1860.1L1945.1,1860.2L1947.8,1860.2L1950.4,1860.3L1953.1,1860.4L1955.8,1860.5L1958.5,1860.6L1961.1,1860.7L1963.8,1860.8L1966.5,1860.9L1969.2,1861.0L1971.8,1861.1L1974.5,1861.2L1977.2,1861.3L1979.9,1861.4L1982.5,1861.6L1985.2,1861.7L1987.9,1861.8L1990.5,1861.9L1993.2,1862.0L1995.9,1862.2L1998.6,1862.3L2001.2,1862.4L2003.9,1862.5L2006.6,1862.7L2009.3,1862.8L2011.9,1862.9L2014.6,1863.1L2017.3,1863.2L2020.0,1863.3L2022.6,1863.5L2025.3,1863.6L2028.0,1863.7L2030.6,1863.9L2033.3,1864.0L2036.0,1864.2L2038.7,1864.4L2041.3,1864.5L2044.0,1864.7L2046.7,1864.9L2049.4,1865.1L2052.0,1865.3L2054.7,1865.5L2057.4,1865.8L2060.1,1866.0L2062.7,1866.3L2065.4,1866.6L2068.1,1866.8L2070.8,1867.2L2073.4,1867.5L2076.1,1867.8L2078.8,1868.2L2081.4,1868.6L2084.1,1869.0L2086.8,1869.4L2089.5,1869.9L2092.1,1870.4L2094.8,1870.9L2097.5,1871.4L2100.2,1872.0L2102.8,1872.6L2105.5,1873.2L2108.2,1873.9L2110.9,1874.5L2113.5,1875.3L2116.2,1876.0L2118.9,1876.8L2121.5,1877.6L2124.2,1878.5L2126.9,1879.4L2129.6,1880.3L2132.2,1881.3L2134.9,1882.3L2137.6,1883.4L2140.3,1884.5L2142.9,1885.6L2145.6,1886.8L2148.3,1888.0L2151.0,1889.3L2153.6,1890.6L2156.3,1892.0L2159.0,1893.4L2161.7,1894.9L2164.3,1896.4L2167.0,1898.0L2169.7,1899.6L2172.3,1901.3L2175.0,1903.0L2177.7,1904.8L2180.4,1906.7L2183.0,1908.6L2185.7,1910.5L2188.4,1912.6L2191.1,1914.7L2193.7,1916.8L2196.4,1919.1L2199.1,1921.4L2201.8,1923.7L2204.4,1926.2L2207.1,1928.7L2209.8,1931.3L2212.4,1933.9L2215.1,1936.6" fill="none" stroke="#00bef0" stroke-width="5.4" stroke-linejoin="round" />
<path d="M290.2,1862.4L292.9,1862.5L295.5,1862.7L298.2,1862.8L300.9,1862.9L303.6,1863.1L306.2,1863.2L308.9,1863.3L311.6,1863.5L314.3,1863.6L316.9,1863.7L319.6,1863.9L322.3,1864.0L325.0,1864.2L327.6,1864.4L330.3,1864.5L333.0,1864.7L335.6,1864.9L338.3,1865.1L341.0,1865.3L343.7,1865.5L346.3,1865.8L349.0,1866.0L351.7,1866.3L354.4,1866.6L357.0,1866.8L359.7,1867.2L362.4,1867.5L365.1,1867.8L367.7,1868.2L370.4,1868.6L373.1,1869.0L375.8,1869.4L378.4,1869.9L381.1,1870.4L383.8,1870.9L386.4,1871.4L389.1,1872.0L391.8,1872.6L394.5,1873.2L397.1,1873.9L399.8,1874.5L402.5,1875.3L405.2,1876.0L407.8,1876.8L410.5,1877.6L413.2,1878.5L415.9,1879.4L418.5,1880.3L421.2,1881.3L423.9,1882.3L426.5,1883.4L429.2,1884.5L431.9,1885.6L434.6,1886.8L437.2,1888.0L439.9,1889.3L442.6,1890.6L445.3,1892.0L447.9,1893.4L450.6,1894.9L453.3,1896.4L456.0,1898.0L458.6,1899.6L461.3,1901.3L464.0,1903.0L466.7,1904.8L469.3,1906.7L472.0,1908.6L474.7,1910.5L477.3,1912.6L480.0,1914.7L482.7,1916.8L485.4,1919.1L488.0,1921.4L490.7,1923.7L493.4,1926.2L496.1,1928.7L498.7,1931.3L501.4,1933.9L504.1,1936.6L506.8,1939.4L509.4,1942.3L512.1,1945.3L514.8,1948.3L517.4,1951.4L520.1,1954.6L522.8,1957.8L525.5,1961.2L528.1,1964.6L530.8,1968.1L533.5,1971.7L536.2,1975.4L538.8,1979.1L541.5,1982.9L544.2,1986.8L546.9,1990.8L549.5,1994.8L552.2,1998.9L554.9,2003.1L557.5,2007.4L560.2,2011.7L562.9,2016.1L565.6,2020.5L568.2,2025.0L570.9,2029.6L573.6,2034.2L576.3,2038.9L578.9,2043.6L581.6,2048.4L584.3,2053.2L587.0,2058.1L589.6,2063.0L592.3,2067.9L595.0,2072.9L597.7,2077.9L600.3,2082.9L603.0,2087.9L605.7,2092.9L608.3,2098.0L611.0,2103.0L613.7,2108.0L616.4,2113.1L619.0,2118.1L621.7,2123.1L624.4,2128.1L627.1,2133.1L629.7,2138.1L632.4,2143.0L635.1,2147.9L637.8,2152.8L640.4,2157.6L643.1,2162.4L645.8,2167.1L648.4,2171.8L651.1,2176.4L653.8,2181.0L656.5,2185.5L659.1,2189.9L661.8,2194.3L664.5,2198.6L667.2,2202.9L669.8,2207.1L672.5,2211.2L675.2,2215.2L677.9,2219.2L680.5,2223.1L683.2,2226.9L685.9,2230.6L688.6,2234.3L691.2,2237.9L693.9,2241.4L696.6,2244.8L699.2,2248.2L701.9,2251.4L704.6,2254.6L707.3,2257.7L709.9,2260.7L712.6,2263.7L715.3,2266.6L718.0,2269.4L720.6,2272.1L723.3,2274.7L726.0,2277.3L728.7,2279.8L731.3,2282.3L734.0,2284.6L736.7,2286.9L739.3,2289.2L742.0,2291.3L744.7,2293.4L747.4,2295.5L750.0,2297.4L752.7,2299.3L755.4,2301.2L758.1,2303.0L760.7,2304.7L763.4,2306.4L766.1,2308.0L768.8,2309.6L771.4,2311.1L774.1,2312.6L776.8,2314.0L779.5,2315.4L782.1,2316.7L784.8,2318.0L787.5,2319.2L790.1,2320.4L792.8,2321.5L795.5,2322.6L798.2,2323.7L800.8,2324.7L803.5,2325.7L806.2,2326.6L808.9,2327.5L811.5,2328.4L814.2,2329.2L816.9,2330.0L819.6,2330.7L822.2,2331.5L824.9,2332.1L827.6,2332.8L830.2,2333.4L832.9,2334.0L835.6,2334.6L838.3,2335.1L840.9,2335.6L843.6,2336.1L846.3,2336.6L849.0,2337.0L851.6,2337.4L854.3,2337.8L857.0,2338.2L859.7,2338.5L862.3,2338.8L865.0,2339.2L867.7,2339.4L870.3,2339.7L873.0,2340.0L875.7,2340.2L878.4,2340.5L881.0,2340.7L883.7,2340.9L886.4,2341.1L889.1,2341.3L891.7,2341.5L894.4,2341.6L897.1,2341.8L899.8,2342.0L902.4,2342.1L905.1,2342.3L907.8,2342.4L910.5,2342.5L913.1,2342.7L915.8,2342.8L918.5,2342.9L921.1,2343.1L923.8,2343.2L926.5,2343.3L929.2,2343.5L931.8,2343.6L934.5,2343.7L937.2,2343.8L939.9,2344.0L942.5,2344.1L945.2,2344.2L947.9,2344.3L950.6,2344.4L953.2,2344.6L955.9,2344.7L958.6,2344.8L961.2,2344.9L963.9,2345.0L966.6,2345.1L969.3,2345.2L971.9,2345.3L974.6,2345.4L977.3,2345.5L980.0,2345.6L982.6,2345.7L985.3,2345.8L988.0,2345.8L990.7,2345.9L993.3,2346.0L996.0,2346.0L998.7,2346.1L1001.4,2346.2L1004.0,2346.2L1006.7,2346.2L1009.4,2346.3L1012.0,2346.3L1014.7,2346.3L1017.4,2346.4L1020.1,2346.4L1022.7,2346.4L1025.4,2346.4L1028.1,2346.4L1030.8,2346.4L1033.4,2346.4L1036.1,2346.4L1038.8,2346.4L1041.5,2346.4L1044.1,2346.3L1046.8,2346.3L1049.5,2346.3L1052.1,2346.3L1054.8,2346.3L1057.5,2346.2L1060.2,2346.2L1062.8,2346.2L1065.5,2346.2L1068.2,2346.2L1070.9,2346.1L1073.5,2346.1L1076.2,2346.1L1078.9,2346.1L1081.6,2346.1L1084.2,2346.1L1086.9,2346.1L1089.6,2346.1L1092.2,2346.1L1094.9,2346.1L1097.6,2346.1L1100.3,2346.1L1102.9,2346.1L1105.6,2346.1L1108.3,2346.1L1111.0,2346.1L1113.6,2346.1L1116.3,2346.2L1119.0,2346.2L1121.7,2346.2L1124.3,2346.2L1127.0,2346.2L1129.7,2346.3L1132.4,2346.3L1135.0,2346.3L1137.7,2346.3L1140.4,2346.3L1143.0,2346.4L1145.7,2346.4L1148.4,2346.4L1151.1,2346.4L1153.7,2346.4L1156.4,2346.4L1159.1,2346.4L1161.8,2346.4L1164.4,2346.4L1167.1,2346.4L1169.8,2346.3L1172.5,2346.3L1175.1,2346.3L1177.8,2346.2L1180.5,2346.2L1183.1,2346.2L1185.8,2346.1L1188.5,2346.0L1191.2,2346.0L1193.8,2345.9L1196.5,2345.8L1199.2,2345.8L1201.9,2345.7L1204.5,2345.6L1207.2,2345.5L1209.9,2345.4L1212.6,2345.3L1215.2,2345.2L1217.9,2345.1L1220.6,2345.0L1223.3,2344.9L1225.9,2344.8L1228.6,2344.7L1231.3,2344.6L1233.9,2344.4L1236.6,2344.3L1239.3,2344.2L1242.0,2344.1L1244.6,2344.0L1247.3,2343.8L1250.0,2343.7L1252.7,2343.6L1255.3,2343.5L1258.0,2343.3L1260.7,2343.2L1263.4,2343.1L1266.0,2342.9L1268.7,2342.8L1271.4,2342.7L1274.0,2342.5L1276.7,2342.4L1279.4,2342.3L1282.1,2342.1L1284.7,2342.0L1287.4,2341.8L1290.1,2341.6L1292.8,2341.5L1295.4,2341.3L1298.1,2341.1L1300.8,2340.9L1303.5,2340.7L1306.1,2340.5L1308.8,2340.2L1311.5,2340.0L1314.2,2339.7L1316.8,2339.4L1319.5,2339.2L1322.2,2338.8L1324.8,2338.5L1327.5,2338.2L1330.2,2337.8L1332.9,2337.4L1335.5,2337.0L1338.2,2336.6L1340.9,2336.1L1343.6,2335.6L1346.2,2335.1L1348.9,2334.6L1351.6,2334.0L1354.3,2333.4L1356.9,2332.8L1359.6,2332.1L1362.3,2331.5L1364.9,2330.7L1367.6,2330.0L1370.3,2329.2L1373.0,2328.4L1375.6,2327.5L1378.3,2326.6L1381.0,2325.7L1383.7,2324.7L1386.3,2323.7L1389.0,2322.6L1391.7,2321.5L1394.4,2320.4L1397.0,2319.2L1399.7,2318.0L1402.4,2316.7L1405.0,2315.4L1407.7,2314.0L1410.4,2312.6L1413.1,2311.1L1415.7,2309.6L1418.4,2308.0L1421.1,2306.4L1423.8,2304.7L1426.4,2303.0L1429.1,2301.2L1431.8,2299.3L1434.5,2297.4L1437.1,2295.5L1439.8,2293.4L1442.5,2291.3L1445.2,2289.2L1447.8,2286.9L1450.5,2284.6L1453.2,2282.3L1455.8,2279.8L1458.5,2277.3L1461.2,2274.7L1463.9,2272.1L1466.5,2269.4L1469.2,2266.6L1471.9,2263.7L1474.6,2260.7L1477.2,2257.7L1479.9,2254.6L1482.6,2251.4L1485.3,2248.2L1487.9,2244.8L1490.6,2241.4L1493.3,2237.9L1495.9,2234.3L1498.6,2230.6L1501.3,2226.9L1504.0,2223.1L1506.6,2219.2L1509.3,2215.2L1512.0,2211.2L1514.7,2207.1L1517.3,2202.9L1520.0,2198.6L1522.7,2194.3L1525.4,2189.9L1528.0,2185.5L1530.7,2181.0L1533.4,2176.4L1536.1,2171.8L1538.7,2167.1L1541.4,2162.4L1544.1,2157.6L1546.7,2152.8L1549.4,2147.9L1552.1,2143.0L1554.8,2138.1L1557.4,2133.1L1560.1,2128.1L1562.8,2123.1L1565.5,2118.1L1568.1,2113.1L1570.8,2108.0L1573.5,2103.0L1576.2,2098.0L1578.8,2092.9L1581.5,2087.9L1584.2,2082.9L1586.8,2077.9L1589.5,2072.9L1592.2,2067.9L1594.9,2063.0L1597.5,2058.1L1600.2,2053.2L1602.9,2048.4L1605.6,2043.6L1608.2,2038.9L1610.9,2034.2L1613.6,2029.6L1616.3,2025.0L1618.9,2020.5L1621.6,2016.1L1624.3,2011.7L1627.0,2007.4L1629.6,2003.1L1632.3,1998.9L1635.0,1994.8L1637.6,1990.8L1640.3,1986.8L1643.0,1982.9L1645.7,1979.1L1648.3,1975.4L1651.0,1971.7L1653.7,1968.1L1656.4,1964.6L1659.0,1961.2L1661.7,1957.8L1664.4,1954.6L1667.1,1951.4L1669.7,1948.3L1672.4,1945.3L1675.1,1942.3L1677.7,1939.4L1680.4,1936.6L1683.1,1933.9L1685.8,1931.3L1688.4,1928.7L1691.1,1926.2L1693.8,1923.7L1696.5,1921.4L1699.1,1919.1L1701.8,1916.8L1704.5,1914.7L1707.2,1912.6L1709.8,1910.5L1712.5,1908.6L1715.2,1906.7L1717.8,1904.8L1720.5,1903.0L1723.2,1901.3L1725.9,1899.6L1728.5,1898.0L1731.2,1896.4L1733.9,1894.9L1736.6,1893.4L1739.2,1892.0L1741.9,1890.6L1744.6,1889.3L1747.3,1888.0L1749.9,1886.8L1752.6,1885.6L1755.3,1884.5L1758.0,1883.4L1760.6,1882.3L1763.3,1881.3L1766.0,1880.3L1768.6,1879.4L1771.3,1878.5L1774.0,1877.6L1776.7,1876.8L1779.3,1876.0L1782.0,1875.3L1784.7,1874.5L1787.4,1873.9L1790.0,1873.2L1792.7,1872.6L1795.4,1872.0L1798.1,1871.4L1800.7,1870.9L1803.4,1870.4L1806.1,1869.9L1808.7,1869.4L1811.4,1869.0L1814.1,1868.6L1816.8,1868.2L1819.4,1867.8L1822.1,1867.5L1824.8,1867.2L1827.5,1866.8L1830.1,1866.6L1832.8,1866.3L1835.5,1866.0L1838.2,1865.8L1840.8,1865.5L1843.5,1865.3L1846.2,1865.1L1848.9,1864.9L1851.5,1864.7L1854.2,1864.5L1856.9,1864.4L1859.5,1864.2L1862.2,1864.0L1864.9,1863.9L1867.6,1863.7L1870.2,1863.6L1872.9,1863.5L1875.6,1863.3L1878.3,1863.2L1880.9,1863.1L1883.6,1862.9L1886.3,1862.8L1889.0,1862.7L1891.6,1862.5L1894.3,1862.4L1897.0,1862.3L1899.6,1862.2L1902.3,1862.0L1905.0,1861.9L1907.7,1861.8L1910.3,1861.7L1913.0,1861.6L1915.7,1861.4L1918.4,1861.3L1921.0,1861.2L1923.7,1861.1L1926.4,1861.0L1929.1,1860.9L1931.7,1860.8L1934.4,1860.7L1937.1,1860.6L1939.7,1860.5L1942.4,1860.4L1945.1,1860.3L1947.8,1860.2L1950.4,1860.2L1953.1,1860.1L1955.8,1860.0L1958.5,1860.0L1961.1,1859.9L1963.8,1859.8L1966.5,1859.8L1969.2,1859.8L1971.8,1859.7L1974.5,1859.7L1977.2,1859.7L1979.9,1859.6L1982.5,1859.6L1985.2,1859.6L1987.9,1859.6L1990.5,1859.6L1993.2,1859.6L1995.9,1859.6L1998.6,1859.6L2001.2,1859.6L2003.9,1859.6L2006.6,1859.7L2009.3,1859.7L2011.9,1859.7L2014.6,1859.7L2017.3,1859.7L2020.0,1859.8L2022.6,1859.8L2025.3,1859.8L2028.0,1859.8L2030.6,1859.8L2033.3,1859.9L2036.0,1859.9L2038.7,1859.9L2041.3,1859.9L2044.0,1859.9L2046.7,1859.9L2049.4,1859.9L2052.0,1859.9L2054.7,1859.9L2057.4,1859.9L2060.1,1859.9L2062.7,1859.9L2065.4,1859.9L2068.1,1859.9L2070.8,1859.9L2073.4,1859.9L2076.1,1859.9L2078.8,1859.8L2081.4,1859.8L2084.1,1859.8L2086.8,1859.8L2089.5,1859.8L2092.1,1859.7L2094.8,1859.7L2097.5,1859.7L2100.2,1859.7L2102.8,1859.7L2105.5,1859.6L2108.2,1859.6L2110.9,1859.6L2113.5,1859.6L2116.2,1859.6L2118.9,1859.6L2121.5,1859.6L2124.2,1859.6L2126.9,1859.6L2129.6,1859.6L2132.2,1859.7L2134.9,1859.7L2137.6,1859.7L2140.3,1859.8L2142.9,1859.8L2145.6,1859.8L2148.3,1859.9L2151.0,1860.0L2153.6,1860.0L2156.3,1860.1L2159.0,1860.2L2161.7,1860.2L2164.3,1860.3L2167.0,1860.4L2169.7,1860.5L2172.3,1860.6L2175.0,1860.7L2177.7,1860.8L2180.4,1860.9L2183.0,1861.0L2185.7,1861.1L2188.4,1861.2L2191.1,1861.3L2193.7,1861.4L2196.4,1861.6L2199.1,1861.7L2201.8,1861.8L2204.4,1861.9L2207.1,1862.0L2209.8,1862.2L2212.4,1862.3L2215.1,1862.4" fill="none" stroke="#c00a28" stroke-width="5.4" stroke-linejoin="round" />
<path d="M290.2,1859.6L292.9,1859.6L295.5,1859.7L298.2,1859.7L300.9,1859.7L303.6,1859.7L306.2,1859.7L308.9,1859.8L311.6,1859.8L314.3,1859.8L316.9,1859.8L319.6,1859.8L322.3,1859.9L325.0,1859.9L327.6,1859.9L330.3,1859.9L333.0,1859.9L335.6,1859.9L338.3,1859.9L341.0,1859.9L343.7,1859.9L346.3,1859.9L349.0,1859.9L351.7,1859.9L354.4,1859.9L357.0,1859.9L359.7,1859.9L362.4,1859.9L365.1,1859.9L367.7,1859.8L370.4,1859.8L373.1,1859.8L375.8,1859.8L378.4,1859.8L381.1,1859.7L383.8,1859.7L386.4,1859.7L389.1,1859.7L391.8,1859.7L394.5,1859.6L397.1,1859.6L399.8,1859.6L402.5,1859.6L405.2,1859.6L407.8,1859.6L410.5,1859.6L413.2,1859.6L415.9,1859.6L418.5,1859.6L421.2,1859.7L423.9,1859.7L426.5,1859.7L429.2,1859.8L431.9,1859.8L434.6,1859.8L437.2,1859.9L439.9,1860.0L442.6,1860.0L445.3,1860.1L447.9,1860.2L450.6,1860.2L453.3,1860.3L456.0,1860.4L458.6,1860.5L461.3,1860.6L464.0,1860.7L466.7,1860.8L469.3,1860.9L472.0,1861.0L474.7,1861.1L477.3,1861.2L480.0,1861.3L482.7,1861.4L485.4,1861.6L488.0,1861.7L490.7,1861.8L493.4,1861.9L496.1,1862.0L498.7,1862.2L501.4,1862.3L504.1,1862.4L506.8,1862.5L509.4,1862.7L512.1,1862.8L514.8,1862.9L517.4,1863.1L520.1,1863.2L522.8,1863.3L525.5,1863.5L528.1,1863.6L530.8,1863.7L533.5,1863.9L536.2,1864.0L538.8,1864.2L541.5,1864.4L544.2,1864.5L546.9,1864.7L549.5,1864.9L552.2,1865.1L554.9,1865.3L557.5,1865.5L560.2,1865.8L562.9,1866.0L565.6,1866.3L568.2,1866.6L570.9,1866.8L573.6,1867.2L576.3,1867.5L578.9,1867.8L581.6,1868.2L584.3,1868.6L587.0,1869.0L589.6,1869.4L592.3,1869.9L595.0,1870.4L597.7,1870.9L600.3,1871.4L603.0,1872.0L605.7,1872.6L608.3,1873.2L611.0,1873.9L613.7,1874.5L616.4,1875.3L619.0,1876.0L621.7,1876.8L624.4,1877.6L627.1,1878.5L629.7,1879.4L632.4,1880.3L635.1,1881.3L637.8,1882.3L640.4,1883.4L643.1,1884.5L645.8,1885.6L648.4,1886.8L651.1,1888.0L653.8,1889.3L656.5,1890.6L659.1,1892.0L661.8,1893.4L664.5,1894.9L667.2,1896.4L669.8,1898.0L672.5,1899.6L675.2,1901.3L677.9,1903.0L680.5,1904.8L683.2,1906.7L685.9,1908.6L688.6,1910.5L691.2,1912.6L693.9,1914.7L696.6,1916.8L699.2,1919.1L701.9,1921.4L704.6,1923.7L707.3,1926.2L709.9,1928.7L712.6,1931.3L715.3,1933.9L718.0,1936.6L720.6,1939.4L723.3,1942.3L726.0,1945.3L728.7,1948.3L731.3,1951.4L734.0,1954.6L736.7,1957.8L739.3,1961.2L742.0,1964.6L744.7,1968.1L747.4,1971.7L750.0,1975.4L752.7,1979.1L755.4,1982.9L758.1,1986.8L760.7,1990.8L763.4,1994.8L766.1,1998.9L768.8,2003.1L771.4,2007.4L774.1,2011.7L776.8,2016.1L779.5,2020.5L782.1,2025.0L784.8,2029.6L787.5,2034.2L790.1,2038.9L792.8,2043.6L795.5,2048.4L798.2,2053.2L800.8,2058.1L803.5,2063.0L806.2,2067.9L808.9,2072.9L811.5,2077.9L814.2,2082.9L816.9,2087.9L819.6,2092.9L822.2,2098.0L824.9,2103.0L827.6,2108.0L830.2,2113.1L832.9,2118.1L835.6,2123.1L838.3,2128.1L840.9,2133.1L843.6,2138.1L846.3,2143.0L849.0,2147.9L851.6,2152.8L854.3,2157.6L857.0,2162.4L859.7,2167.1L862.3,2171.8L865.0,2176.4L867.7,2181.0L870.3,2185.5L873.0,2189.9L875.7,2194.3L878.4,2198.6L881.0,2202.9L883.7,2207.1L886.4,2211.2L889.1,2215.2L891.7,2219.2L894.4,2223.1L897.1,2226.9L899.8,2230.6L902.4,2234.3L905.1,2237.9L907.8,2241.4L910.5,2244.8L913.1,2248.2L915.8,2251.4L918.5,2254.6L921.1,2257.7L923.8,2260.7L926.5,2263.7L929.2,2266.6L931.8,2269.4L934.5,2272.1L937.2,2274.7L939.9,2277.3L942.5,2279.8L945.2,2282.3L947.9,2284.6L950.6,2286.9L953.2,2289.2L955.9,2291.3L958.6,2293.4L961.2,2295.5L963.9,2297.4L966.6,2299.3L969.3,2301.2L971.9,2303.0L974.6,2304.7L977.3,2306.4L980.0,2308.0L982.6,2309.6L985.3,2311.1L988.0,2312.6L990.7,2314.0L993.3,2315.4L996.0,2316.7L998.7,2318.0L1001.4,2319.2L1004.0,2320.4L1006.7,2321.5L1009.4,2322.6L1012.0,2323.7L1014.7,2324.7L1017.4,2325.7L1020.1,2326.6L1022.7,2327.5L1025.4,2328.4L1028.1,2329.2L1030.8,2330.0L1033.4,2330.7L1036.1,2331.5L1038.8,2332.1L1041.5,2332.8L1044.1,2333.4L1046.8,2334.0L1049.5,2334.6L1052.1,2335.1L1054.8,2335.6L1057.5,2336.1L1060.2,2336.6L1062.8,2337.0L1065.5,2337.4L1068.2,2337.8L1070.9,2338.2L1073.5,2338.5L1076.2,2338.8L1078.9,2339.2L1081.6,2339.4L1084.2,2339.7L1086.9,2340.0L1089.6,2340.2L1092.2,2340.5L1094.9,2340.7L1097.6,2340.9L1100.3,2341.1L1102.9,2341.3L1105.6,2341.5L1108.3,2341.6L1111.0,2341.8L1113.6,2342.0L1116.3,2342.1L1119.0,2342.3L1121.7,2342.4L1124.3,2342.5L1127.0,2342.7L1129.7,2342.8L1132.4,2342.9L1135.0,2343.1L1137.7,2343.2L1140.4,2343.3L1143.0,2343.5L1145.7,2343.6L1148.4,2343.7L1151.1,2343.8L1153.7,2344.0L1156.4,2344.1L1159.1,2344.2L1161.8,2344.3L1164.4,2344.4L1167.1,2344.6L1169.8,2344.7L1172.5,2344.8L1175.1,2344.9L1177.8,2345.0L1180.5,2345.1L1183.1,2345.2L1185.8,2345.3L1188.5,2345.4L1191.2,2345.5L1193.8,2345.6L1196.5,2345.7L1199.2,2345.8L1201.9,2345.8L1204.5,2345.9L1207.2,2346.0L1209.9,2346.0L1212.6,2346.1L1215.2,2346.2L1217.9,2346.2L1220.6,2346.2L1223.3,2346.3L1225.9,2346.3L1228.6,2346.3L1231.3,2346.4L1233.9,2346.4L1236.6,2346.4L1239.3,2346.4L1242.0,2346.4L1244.6,2346.4L1247.3,2346.4L1250.0,2346.4L1252.7,2346.4L1255.3,2346.4L1258.0,2346.3L1260.7,2346.3L1263.4,2346.3L1266.0,2346.3L1268.7,2346.3L1271.4,2346.2L1274.0,2346.2L1276.7,2346.2L1279.4,2346.2L1282.1,2346.2L1284.7,2346.1L1287.4,2346.1L1290.1,2346.1L1292.8,2346.1L1295.4,2346.1L1298.1,2346.1L1300.8,2346.1L1303.5,2346.1L1306.1,2346.1L1308.8,2346.1L1311.5,2346.1L1314.2,2346.1L1316.8,2346.1L1319.5,2346.1L1322.2,2346.1L1324.8,2346.1L1327.5,2346.1L1330.2,2346.2L1332.9,2346.2L1335.5,2346.2L1338.2,2346.2L1340.9,2346.2L1343.6,2346.3L1346.2,2346.3L1348.9,2346.3L1351.6,2346.3L1354.3,2346.3L1356.9,2346.4L1359.6,2346.4L1362.3,2346.4L1364.9,2346.4L1367.6,2346.4L1370.3,2346.4L1373.0,2346.4L1375.6,2346.4L1378.3,2346.4L1381.0,2346.4L1383.7,2346.3L1386.3,2346.3L1389.0,2346.3L1391.7,2346.2L1394.4,2346.2L1397.0,2346.2L1399.7,2346.1L1402.4,2346.0L1405.0,2346.0L1407.7,2345.9L1410.4,2345.8L1413.1,2345.8L1415.7,2345.7L1418.4,2345.6L1421.1,2345.5L1423.8,2345.4L1426.4,2345.3L1429.1,2345.2L1431.8,2345.1L1434.5,2345.0L1437.1,2344.9L1439.8,2344.8L1442.5,2344.7L1445.2,2344.6L1447.8,2344.4L1450.5,2344.3L1453.2,2344.2L1455.8,2344.1L1458.5,2344.0L1461.2,2343.8L1463.9,2343.7L1466.5,2343.6L1469.2,2343.5L1471.9,2343.3L1474.6,2343.2L1477.2,2343.1L1479.9,2342.9L1482.6,2342.8L1485.3,2342.7L1487.9,2342.5L1490.6,2342.4L1493.3,2342.3L1495.9,2342.1L1498.6,2342.0L1501.3,2341.8L1504.0,2341.6L1506.6,2341.5L1509.3,2341.3L1512.0,2341.1L1514.7,2340.9L1517.3,2340.7L1520.0,2340.5L1522.7,2340.2L1525.4,2340.0L1528.0,2339.7L1530.7,2339.4L1533.4,2339.2L1536.1,2338.8L1538.7,2338.5L1541.4,2338.2L1544.1,2337.8L1546.7,2337.4L1549.4,2337.0L1552.1,2336.6L1554.8,2336.1L1557.4,2335.6L1560.1,2335.1L1562.8,2334.6L1565.5,2334.0L1568.1,2333.4L1570.8,2332.8L1573.5,2332.1L1576.2,2331.5L1578.8,2330.7L1581.5,2330.0L1584.2,2329.2L1586.8,2328.4L1589.5,2327.5L1592.2,2326.6L1594.9,2325.7L1597.5,2324.7L1600.2,2323.7L1602.9,2322.6L1605.6,2321.5L1608.2,2320.4L1610.9,2319.2L1613.6,2318.0L1616.3,2316.7L1618.9,2315.4L1621.6,2314.0L1624.3,2312.6L1627.0,2311.1L1629.6,2309.6L1632.3,2308.0L1635.0,2306.4L1637.6,2304.7L1640.3,2303.0L1643.0,2301.2L1645.7,2299.3L1648.3,2297.4L1651.0,2295.5L1653.7,2293.4L1656.4,2291.3L1659.0,2289.2L1661.7,2286.9L1664.4,2284.6L1667.1,2282.3L1669.7,2279.8L1672.4,2277.3L1675.1,2274.7L1677.7,2272.1L1680.4,2269.4L1683.1,2266.6L1685.8,2263.7L1688.4,2260.7L1691.1,2257.7L1693.8,2254.6L1696.5,2251.4L1699.1,2248.2L1701.8,2244.8L1704.5,2241.4L1707.2,2237.9L1709.8,2234.3L1712.5,2230.6L1715.2,2226.9L1717.8,2223.1L1720.5,2219.2L1723.2,2215.2L1725.9,2211.2L1728.5,2207.1L1731.2,2202.9L1733.9,2198.6L1736.6,2194.3L1739.2,2189.9L1741.9,2185.5L1744.6,2181.0L1747.3,2176.4L1749.9,2171.8L1752.6,2167.1L1755.3,2162.4L1758.0,2157.6L1760.6,2152.8L1763.3,2147.9L1766.0,2143.0L1768.6,2138.1L1771.3,2133.1L1774.0,2128.1L1776.7,2123.1L1779.3,2118.1L1782.0,2113.1L1784.7,2108.0L1787.4,2103.0L1790.0,2098.0L1792.7,2092.9L1795.4,2087.9L1798.1,2082.9L1800.7,2077.9L1803.4,2072.9L1806.1,2067.9L1808.7,2063.0L1811.4,2058.1L1814.1,2053.2L1816.8,2048.4L1819.4,2043.6L1822.1,2038.9L1824.8,2034.2L1827.5,2029.6L1830.1,2025.0L1832.8,2020.5L1835.5,2016.1L1838.2,2011.7L1840.8,2007.4L1843.5,2003.1L1846.2,1998.9L1848.9,1994.8L1851.5,1990.8L1854.2,1986.8L1856.9,1982.9L1859.5,1979.1L1862.2,1975.4L1864.9,1971.7L1867.6,1968.1L1870.2,1964.6L1872.9,1961.2L1875.6,1957.8L1878.3,1954.6L1880.9,1951.4L1883.6,1948.3L1886.3,1945.3L1889.0,1942.3L1891.6,1939.4L1894.3,1936.6L1897.0,1933.9L1899.6,1931.3L1902.3,1928.7L1905.0,1926.2L1907.7,1923.7L1910.3,1921.4L1913.0,1919.1L1915.7,1916.8L1918.4,1914.7L1921.0,1912.6L1923.7,1910.5L1926.4,1908.6L1929.1,1906.7L1931.7,1904.8L1934.4,1903.0L1937.1,1901.3L1939.7,1899.6L1942.4,1898.0L1945.1,1896.4L1947.8,1894.9L1950.4,1893.4L1953.1,1892.0L1955.8,1890.6L1958.5,1889.3L1961.1,1888.0L1963.8,1886.8L1966.5,1885.6L1969.2,1884.5L1971.8,1883.4L1974.5,1882.3L1977.2,1881.3L1979.9,1880.3L1982.5,1879.4L1985.2,1878.5L1987.9,1877.6L1990.5,1876.8L1993.2,1876.0L1995.9,1875.3L1998.6,1874.5L2001.2,1873.9L2003.9,1873.2L2006.6,1872.6L2009.3,1872.0L2011.9,1871.4L2014.6,1870.9L2017.3,1870.4L2020.0,1869.9L2022.6,1869.4L2025.3,1869.0L2028.0,1868.6L2030.6,1868.2L2033.3,1867.8L2036.0,1867.5L2038.7,1867.2L2041.3,1866.8L2044.0,1866.6L2046.7,1866.3L2049.4,1866.0L2052.0,1865.8L2054.7,1865.5L2057.4,1865.3L2060.1,1865.1L2062.7,1864.9L2065.4,1864.7L2068.1,1864.5L2070.8,1864.4L2073.4,1864.2L2076.1,1864.0L2078.8,1863.9L2081.4,1863.7L2084.1,1863.6L2086.8,1863.5L2089.5,1863.3L2092.1,1863.2L2094.8,1863.1L2097.5,1862.9L2100.2,1862.8L2102.8,1862.7L2105.5,1862.5L2108.2,1862.4L2110.9,1862.3L2113.5,1862.2L2116.2,1862.0L2118.9,1861.9L2121.5,1861.8L2124.2,1861.7L2126.9,1861.6L2129.6,1861.4L2132.2,1861.3L2134.9,1861.2L2137.6,1861.1L2140.3,1861.0L2142.9,1860.9L2145.6,1860.8L2148.3,1860.7L2151.0,1860.6L2153.6,1860.5L2156.3,1860.4L2159.0,1860.3L2161.7,1860.2L2164.3,1860.2L2167.0,1860.1L2169.7,1860.0L2172.3,1860.0L2175.0,1859.9L2177.7,1859.8L2180.4,1859.8L2183.0,1859.8L2185.7,1859.7L2188.4,1859.7L2191.1,1859.7L2193.7,1859.6L2196.4,1859.6L2199.1,1859.6L2201.8,1859.6L2204.4,1859.6L2207.1,1859.6L2209.8,1859.6L2212.4,1859.6L2215.1,1859.6" fill="none" stroke="#0070c0" stroke-width="5.4" stroke-linejoin="round" />
<path d="M290.2,1873.9L292.9,1873.2L295.5,1872.6L298.2,1872.0L300.9,1871.4L303.6,1870.9L306.2,1870.4L308.9,1869.9L311.6,1869.4L314.3,1869.0L316.9,1868.6L319.6,1868.2L322.3,1867.8L325.0,1867.5L327.6,1867.2L330.3,1866.8L333.0,1866.6L335.6,1866.3L338.3,1866.0L341.0,1865.8L343.7,1865.5L346.3,1865.3L349.0,1865.1L351.7,1864.9L354.4,1864.7L357.0,1864.5L359.7,1864.4L362.4,1864.2L365.1,1864.0L367.7,1863.9L370.4,1863.7L373.1,1863.6L375.8,1863.5L378.4,1863.3L381.1,1863.2L383.8,1863.1L386.4,1862.9L389.1,1862.8L391.8,1862.7L394.5,1862.5L397.1,1862.4L399.8,1862.3L402.5,1862.2L405.2,1862.0L407.8,1861.9L410.5,1861.8L413.2,1861.7L415.9,1861.6L418.5,1861.4L421.2,1861.3L423.9,1861.2L426.5,1861.1L429.2,1861.0L431.9,1860.9L434.6,1860.8L437.2,1860.7L439.9,1860.6L442.6,1860.5L445.3,1860.4L447.9,1860.3L450.6,1860.2L453.3,1860.2L456.0,1860.1L458.6,1860.0L461.3,1860.0L464.0,1859.9L466.7,1859.8L469.3,1859.8L472.0,1859.8L474.7,1859.7L477.3,1859.7L480.0,1859.7L482.7,1859.6L485.4,1859.6L488.0,1859.6L490.7,1859.6L493.4,1859.6L496.1,1859.6L498.7,1859.6L501.4,1859.6L504.1,1859.6L506.8,1859.6L509.4,1859.7L512.1,1859.7L514.8,1859.7L517.4,1859.7L520.1,1859.7L522.8,1859.8L525.5,1859.8L528.1,1859.8L530.8,1859.8L533.5,1859.8L536.2,1859.9L538.8,1859.9L541.5,1859.9L544.2,1859.9L546.9,1859.9L549.5,1859.9L552.2,1859.9L554.9,1859.9L557.5,1859.9L560.2,1859.9L562.9,1859.9L565.6,1859.9L568.2,1859.9L570.9,1859.9L573.6,1859.9L576.3,1859.9L578.9,1859.9L581.6,1859.8L584.3,1859.8L587.0,1859.8L589.6,1859.8L592.3,1859.8L595.0,1859.7L597.7,1859.7L600.3,1859.7L603.0,1859.7L605.7,1859.7L608.3,1859.6L611.0,1859.6L613.7,1859.6L616.4,1859.6L619.0,1859.6L621.7,1859.6L624.4,1859.6L627.1,1859.6L629.7,1859.6L632.4,1859.6L635.1,1859.7L637.8,1859.7L640.4,1859.7L643.1,1859.8L645.8,1859.8L648.4,1859.8L651.1,1859.9L653.8,1860.0L656.5,1860.0L659.1,1860.1L661.8,1860.2L664.5,1860.2L667.2,1860.3L669.8,1860.4L672.5,1860.5L675.2,1860.6L677.9,1860.7L680.5,1860.8L683.2,1860.9L685.9,1861.0L688.6,1861.1L691.2,1861.2L693.9,1861.3L696.6,1861.4L699.2,1861.6L701.9,1861.7L704.6,1861.8L707.3,1861.9L709.9,1862.0L712.6,1862.2L715.3,1862.3L718.0,1862.4L720.6,1862.5L723.3,1862.7L726.0,1862.8L728.7,1862.9L731.3,1863.1L734.0,1863.2L736.7,1863.3L739.3,1863.5L742.0,1863.6L744.7,1863.7L747.4,1863.9L750.0,1864.0L752.7,1864.2L755.4,1864.4L758.1,1864.5L760.7,1864.7L763.4,1864.9L766.1,1865.1L768.8,1865.3L771.4,1865.5L774.1,1865.8L776.8,1866.0L779.5,1866.3L782.1,1866.6L784.8,1866.8L787.5,1867.2L790.1,1867.5L792.8,1867.8L795.5,1868.2L798.2,1868.6L800.8,1869.0L803.5,1869.4L806.2,1869.9L808.9,1870.4L811.5,1870.9L814.2,1871.4L816.9,1872.0L819.6,1872.6L822.2,1873.2L824.9,1873.9L827.6,1874.5L830.2,1875.3L832.9,1876.0L835.6,1876.8L838.3,1877.6L840.9,1878.5L843.6,1879.4L846.3,1880.3L849.0,1881.3L851.6,1882.3L854.3,1883.4L857.0,1884.5L859.7,1885.6L862.3,1886.8L865.0,1888.0L867.7,1889.3L870.3,1890.6L873.0,1892.0L875.7,1893.4L878.4,1894.9L881.0,1896.4L883.7,1898.0L886.4,1899.6L889.1,1901.3L891.7,1903.0L894.4,1904.8L897.1,1906.7L899.8,1908.6L902.4,1910.5L905.1,1912.6L907.8,1914.7L910.5,1916.8L913.1,1919.1L915.8,1921.4L918.5,1923.7L921.1,1926.2L923.8,1928.7L926.5,1931.3L929.2,1933.9L931.8,1936.6L934.5,1939.4L937.2,1942.3L939.9,1945.3L942.5,1948.3L945.2,1951.4L947.9,1954.6L950.6,1957.8L953.2,1961.2L955.9,1964.6L958.6,1968.1L961.2,1971.7L963.9,1975.4L966.6,1979.1L969.3,1982.9L971.9,1986.8L974.6,1990.8L977.3,1994.8L980.0,1998.9L982.6,2003.1L985.3,2007.4L988.0,2011.7L990.7,2016.1L993.3,2020.5L996.0,2025.0L998.7,2029.6L1001.4,2034.2L1004.0,2038.9L1006.7,2043.6L1009.4,2048.4L1012.0,2053.2L1014.7,2058.1L1017.4,2063.0L1020.1,2067.9L1022.7,2072.9L1025.4,2077.9L1028.1,2082.9L1030.8,2087.9L1033.4,2092.9L1036.1,2098.0L1038.8,2103.0L1041.5,2108.0L1044.1,2113.1L1046.8,2118.1L1049.5,2123.1L1052.1,2128.1L1054.8,2133.1L1057.5,2138.1L1060.2,2143.0L1062.8,2147.9L1065.5,2152.8L1068.2,2157.6L1070.9,2162.4L1073.5,2167.1L1076.2,2171.8L1078.9,2176.4L1081.6,2181.0L1084.2,2185.5L1086.9,2189.9L1089.6,2194.3L1092.2,2198.6L1094.9,2202.9L1097.6,2207.1L1100.3,2211.2L1102.9,2215.2L1105.6,2219.2L1108.3,2223.1L1111.0,2226.9L1113.6,2230.6L1116.3,2234.3L1119.0,2237.9L1121.7,2241.4L1124.3,2244.8L1127.0,2248.2L1129.7,2251.4L1132.4,2254.6L1135.0,2257.7L1137.7,2260.7L1140.4,2263.7L1143.0,2266.6L1145.7,2269.4L1148.4,2272.1L1151.1,2274.7L1153.7,2277.3L1156.4,2279.8L1159.1,2282.3L1161.8,2284.6L1164.4,2286.9L1167.1,2289.2L1169.8,2291.3L1172.5,2293.4L1175.1,2295.5L1177.8,2297.4L1180.5,2299.3L1183.1,2301.2L1185.8,2303.0L1188.5,2304.7L1191.2,2306.4L1193.8,2308.0L1196.5,2309.6L1199.2,2311.1L1201.9,2312.6L1204.5,2314.0L1207.2,2315.4L1209.9,2316.7L1212.6,2318.0L1215.2,2319.2L1217.9,2320.4L1220.6,2321.5L1223.3,2322.6L1225.9,2323.7L1228.6,2324.7L1231.3,2325.7L1233.9,2326.6L1236.6,2327.5L1239.3,2328.4L1242.0,2329.2L1244.6,2330.0L1247.3,2330.7L1250.0,2331.5L1252.7,2332.1L1255.3,2332.8L1258.0,2333.4L1260.7,2334.0L1263.4,2334.6L1266.0,2335.1L1268.7,2335.6L1271.4,2336.1L1274.0,2336.6L1276.7,2337.0L1279.4,2337.4L1282.1,2337.8L1284.7,2338.2L1287.4,2338.5L1290.1,2338.8L1292.8,2339.2L1295.4,2339.4L1298.1,2339.7L1300.8,2340.0L1303.5,2340.2L1306.1,2340.5L1308.8,2340.7L1311.5,2340.9L1314.2,2341.1L1316.8,2341.3L1319.5,2341.5L1322.2,2341.6L1324.8,2341.8L1327.5,2342.0L1330.2,2342.1L1332.9,2342.3L1335.5,2342.4L1338.2,2342.5L1340.9,2342.7L1343.6,2342.8L1346.2,2342.9L1348.9,2343.1L1351.6,2343.2L1354.3,2343.3L1356.9,2343.5L1359.6,2343.6L1362.3,2343.7L1364.9,2343.8L1367.6,2344.0L1370.3,2344.1L1373.0,2344.2L1375.6,2344.3L1378.3,2344.4L1381.0,2344.6L1383.7,2344.7L1386.3,2344.8L1389.0,2344.9L1391.7,2345.0L1394.4,2345.1L1397.0,2345.2L1399.7,2345.3L1402.4,2345.4L1405.0,2345.5L1407.7,2345.6L1410.4,2345.7L1413.1,2345.8L1415.7,2345.8L1418.4,2345.9L1421.1,2346.0L1423.8,2346.0L1426.4,2346.1L1429.1,2346.2L1431.8,2346.2L1434.5,2346.2L1437.1,2346.3L1439.8,2346.3L1442.5,2346.3L1445.2,2346.4L1447.8,2346.4L1450.5,2346.4L1453.2,2346.4L1455.8,2346.4L1458.5,2346.4L1461.2,2346.4L1463.9,2346.4L1466.5,2346.4L1469.2,2346.4L1471.9,2346.3L1474.6,2346.3L1477.2,2346.3L1479.9,2346.3L1482.6,2346.3L1485.3,2346.2L1487.9,2346.2L1490.6,2346.2L1493.3,2346.2L1495.9,2346.2L1498.6,2346.1L1501.3,2346.1L1504.0,2346.1L1506.6,2346.1L1509.3,2346.1L1512.0,2346.1L1514.7,2346.1L1517.3,2346.1L1520.0,2346.1L1522.7,2346.1L1525.4,2346.1L1528.0,2346.1L1530.7,2346.1L1533.4,2346.1L1536.1,2346.1L1538.7,2346.1L1541.4,2346.1L1544.1,2346.2L1546.7,2346.2L1549.4,2346.2L1552.1,2346.2L1554.8,2346.2L1557.4,2346.3L1560.1,2346.3L1562.8,2346.3L1565.5,2346.3L1568.1,2346.3L1570.8,2346.4L1573.5,2346.4L1576.2,2346.4L1578.8,2346.4L1581.5,2346.4L1584.2,2346.4L1586.8,2346.4L1589.5,2346.4L1592.2,2346.4L1594.9,2346.4L1597.5,2346.3L1600.2,2346.3L1602.9,2346.3L1605.6,2346.2L1608.2,2346.2L1610.9,2346.2L1613.6,2346.1L1616.3,2346.0L1618.9,2346.0L1621.6,2345.9L1624.3,2345.8L1627.0,2345.8L1629.6,2345.7L1632.3,2345.6L1635.0,2345.5L1637.6,2345.4L1640.3,2345.3L1643.0,2345.2L1645.7,2345.1L1648.3,2345.0L1651.0,2344.9L1653.7,2344.8L1656.4,2344.7L1659.0,2344.6L1661.7,2344.4L1664.4,2344.3L1667.1,2344.2L1669.7,2344.1L1672.4,2344.0L1675.1,2343.8L1677.7,2343.7L1680.4,2343.6L1683.1,2343.5L1685.8,2343.3L1688.4,2343.2L1691.1,2343.1L1693.8,2342.9L1696.5,2342.8L1699.1,2342.7L1701.8,2342.5L1704.5,2342.4L1707.2,2342.3L1709.8,2342.1L1712.5,2342.0L1715.2,2341.8L1717.8,2341.6L1720.5,2341.5L1723.2,2341.3L1725.9,2341.1L1728.5,2340.9L1731.2,2340.7L1733.9,2340.5L1736.6,2340.2L1739.2,2340.0L1741.9,2339.7L1744.6,2339.4L1747.3,2339.2L1749.9,2338.8L1752.6,2338.5L1755.3,2338.2L1758.0,2337.8L1760.6,2337.4L1763.3,2337.0L1766.0,2336.6L1768.6,2336.1L1771.3,2335.6L1774.0,2335.1L1776.7,2334.6L1779.3,2334.0L1782.0,2333.4L1784.7,2332.8L1787.4,2332.1L1790.0,2331.5L1792.7,2330.7L1795.4,2330.0L1798.1,2329.2L1800.7,2328.4L1803.4,2327.5L1806.1,2326.6L1808.7,2325.7L1811.4,2324.7L1814.1,2323.7L1816.8,2322.6L1819.4,2321.5L1822.1,2320.4L1824.8,2319.2L1827.5,2318.0L1830.1,2316.7L1832.8,2315.4L1835.5,2314.0L1838.2,2312.6L1840.8,2311.1L1843.5,2309.6L1846.2,2308.0L1848.9,2306.4L1851.5,2304.7L1854.2,2303.0L1856.9,2301.2L1859.5,2299.3L1862.2,2297.4L1864.9,2295.5L1867.6,2293.4L1870.2,2291.3L1872.9,2289.2L1875.6,2286.9L1878.3,2284.6L1880.9,2282.3L1883.6,2279.8L1886.3,2277.3L1889.0,2274.7L1891.6,2272.1L1894.3,2269.4L1897.0,2266.6L1899.6,2263.7L1902.3,2260.7L1905.0,2257.7L1907.7,2254.6L1910.3,2251.4L1913.0,2248.2L1915.7,2244.8L1918.4,2241.4L1921.0,2237.9L1923.7,2234.3L1926.4,2230.6L1929.1,2226.9L1931.7,2223.1L1934.4,2219.2L1937.1,2215.2L1939.7,2211.2L1942.4,2207.1L1945.1,2202.9L1947.8,2198.6L1950.4,2194.3L1953.1,2189.9L1955.8,2185.5L1958.5,2181.0L1961.1,2176.4L1963.8,2171.8L1966.5,2167.1L1969.2,2162.4L1971.8,2157.6L1974.5,2152.8L1977.2,2147.9L1979.9,2143.0L1982.5,2138.1L1985.2,2133.1L1987.9,2128.1L1990.5,2123.1L1993.2,2118.1L1995.9,2113.1L1998.6,2108.0L2001.2,2103.0L2003.9,2098.0L2006.6,2092.9L2009.3,2087.9L2011.9,2082.9L2014.6,2077.9L2017.3,2072.9L2020.0,2067.9L2022.6,2063.0L2025.3,2058.1L2028.0,2053.2L2030.6,2048.4L2033.3,2043.6L2036.0,2038.9L2038.7,2034.2L2041.3,2029.6L2044.0,2025.0L2046.7,2020.5L2049.4,2016.1L2052.0,2011.7L2054.7,2007.4L2057.4,2003.1L2060.1,1998.9L2062.7,1994.8L2065.4,1990.8L2068.1,1986.8L2070.8,1982.9L2073.4,1979.1L2076.1,1975.4L2078.8,1971.7L2081.4,1968.1L2084.1,1964.6L2086.8,1961.2L2089.5,1957.8L2092.1,1954.6L2094.8,1951.4L2097.5,1948.3L2100.2,1945.3L2102.8,1942.3L2105.5,1939.4L2108.2,1936.6L2110.9,1933.9L2113.5,1931.3L2116.2,1928.7L2118.9,1926.2L2121.5,1923.7L2124.2,1921.4L2126.9,1919.1L2129.6,1916.8L2132.2,1914.7L2134.9,1912.6L2137.6,1910.5L2140.3,1908.6L2142.9,1906.7L2145.6,1904.8L2148.3,1903.0L2151.0,1901.3L2153.6,1899.6L2156.3,1898.0L2159.0,1896.4L2161.7,1894.9L2164.3,1893.4L2167.0,1892.0L2169.7,1890.6L2172.3,1889.3L2175.0,1888.0L2177.7,1886.8L2180.4,1885.6L2183.0,1884.5L2185.7,1883.4L2188.4,1882.3L2191.1,1881.3L2193.7,1880.3L2196.4,1879.4L2199.1,1878.5L2201.8,1877.6L2204.4,1876.8L2207.1,1876.0L2209.8,1875.3L2212.4,1874.5L2215.1,1873.9" fill="none" stroke="#fa500a" stroke-width="5.4" stroke-linejoin="round" />
<path d="M716.6,1816.4L716.6,3104" fill="none" stroke="#202020" stroke-width="5" stroke-linecap="round" stroke-dasharray="0 11.47"/>
<path d="M773.5,1816.4L773.5,3104" fill="none" stroke="#202020" stroke-width="5" stroke-linecap="round" stroke-dasharray="0 11.47"/>
<line x1="722" y1="2675.4" x2="768" y2="2675.4" stroke="#000" stroke-width="2.5" />
<polygon points="715.3,2675.4 731,2671.6 733,2675.4 731,2679.2" fill="#000"/>
<polygon points="774.9,2675.4 758.5,2671.6 756.5,2675.4 758.5,2679.2" fill="#000"/>
<path d="M291.5,2867.3L292.6,2867.4L293.6,2867.6L294.7,2868.0L295.8,2868.6L296.8,2869.3L297.9,2870.2L299.0,2871.2L300.1,2872.4L301.1,2873.8L302.2,2875.4L303.3,2877.2L304.3,2879.1L305.4,2881.2L306.5,2883.5L307.5,2886.0L308.6,2888.7L309.7,2891.6L310.7,2894.7L311.8,2898.0L312.9,2901.6L313.9,2905.3L315.0,2909.3L316.1,2913.5L317.2,2917.9L318.2,2922.6L319.3,2927.4L320.4,2932.5L321.4,2937.9L322.5,2943.4L323.6,2949.2L324.6,2955.2L325.7,2961.3L326.8,2967.7L327.8,2974.3L328.9,2981.1L330.0,2988.1L331.0,2995.2L332.1,3002.4L333.2,3009.8L334.3,3017.3L335.3,3024.8L336.4,3032.4L337.5,3040.1L338.5,3047.7L339.6,3055.3L340.7,3062.8L341.7,3070.1L342.8,3077.3L343.9,3084.3L344.9,3091.0L346.0,3084.3L347.1,3077.3L348.1,3070.1L349.2,3062.8L350.3,3055.3L351.4,3047.7L352.4,3040.1L353.5,3032.4L354.6,3024.8L355.6,3017.3L356.7,3009.8L357.8,3002.4L358.8,2995.2L359.9,2988.1L361.0,2981.1L362.0,2974.3L363.1,2967.7L364.2,2961.3L365.2,2955.2L366.3,2949.2L367.4,2943.4L368.5,2937.9L369.5,2932.5L370.6,2927.4L371.7,2922.6L372.7,2917.9L373.8,2913.5L374.9,2909.3L375.9,2905.3L377.0,2901.6L378.1,2898.0L379.1,2894.7L380.2,2891.6L381.3,2888.7L382.3,2886.0L383.4,2883.5L384.5,2881.2L385.6,2879.1L386.6,2877.2L387.7,2875.4L388.8,2873.8L389.8,2872.4L390.9,2871.2L392.0,2870.2L393.0,2869.3L394.1,2868.6L395.2,2868.0L396.2,2867.6L397.3,2867.4L398.4,2867.3L399.4,2867.4L400.5,2867.6L401.6,2868.0L402.7,2868.6L403.7,2869.3L404.8,2870.2L405.9,2871.2L406.9,2872.4L408.0,2873.8L409.1,2875.4L410.1,2877.2L411.2,2879.1L412.3,2881.2L413.3,2883.5L414.4,2886.0L415.5,2888.7L416.5,2891.6L417.6,2894.7L418.7,2898.0L419.8,2901.6L420.8,2905.3L421.9,2909.3L423.0,2913.5L424.0,2917.9L425.1,2922.6L426.2,2927.4L427.2,2932.5L428.3,2937.9L429.4,2943.4L430.4,2949.2L431.5,2955.2L432.6,2961.3L433.7,2967.7L434.7,2974.3L435.8,2981.1L436.9,2988.1L437.9,2995.2L439.0,3002.4L440.1,3009.8L441.1,3017.3L442.2,3024.8L443.3,3032.4L444.3,3040.1L445.4,3047.7L446.5,3055.3L447.5,3062.8L448.6,3070.1L449.7,3077.3L450.8,3084.3L451.8,3091.0L452.9,3084.3L454.0,3077.3L455.0,3070.1L456.1,3062.8L457.2,3055.3L458.2,3047.7L459.3,3040.1L460.4,3032.4L461.4,3024.8L462.5,3017.3L463.6,3009.8L464.6,3002.4L465.7,2995.2L466.8,2988.1L467.9,2981.1L468.9,2974.3L470.0,2967.7L471.1,2961.3L472.1,2955.2L473.2,2949.2L474.3,2943.4L475.3,2937.9L476.4,2932.5L477.5,2927.4L478.5,2922.6L479.6,2917.9L480.7,2913.5L481.7,2909.3L482.8,2905.3L483.9,2901.6L485.0,2898.0L486.0,2894.7L487.1,2891.6L488.2,2888.7L489.2,2886.0L490.3,2883.5L491.4,2881.2L492.4,2879.1L493.5,2877.2L494.6,2875.4L495.6,2873.8L496.7,2872.4L497.8,2871.2L498.8,2870.2L499.9,2869.3L501.0,2868.6L502.1,2868.0L503.1,2867.6L504.2,2867.4L505.3,2867.3L506.3,2867.4L507.4,2867.6L508.5,2868.0L509.5,2868.6L510.6,2869.3L511.7,2870.2L512.7,2871.2L513.8,2872.4L514.9,2873.8L515.9,2875.4L517.0,2877.2L518.1,2879.1L519.2,2881.2L520.2,2883.5L521.3,2886.0L522.4,2888.7L523.4,2891.6L524.5,2894.7L525.6,2898.0L526.6,2901.6L527.7,2905.3L528.8,2909.3L529.8,2913.5L530.9,2917.9L532.0,2922.6L533.0,2927.4L534.1,2932.5L535.2,2937.9L536.3,2943.4L537.3,2949.2L538.4,2955.2L539.5,2961.3L540.5,2967.7L541.6,2974.3L542.7,2981.1L543.7,2988.1L544.8,2995.2L545.9,3002.4L546.9,3009.8L548.0,3017.3L549.1,3024.8L550.1,3032.4L551.2,3040.1L552.3,3047.7L553.4,3055.3L554.4,3062.8L555.5,3070.1L556.6,3077.3L557.6,3084.3L558.7,3091.0L559.8,3084.3L560.8,3077.3L561.9,3070.1L563.0,3062.8L564.0,3055.3L565.1,3047.7L566.2,3040.1L567.3,3032.4L568.3,3024.8L569.4,3017.3L570.5,3009.8L571.5,3002.4L572.6,2995.2L573.7,2988.1L574.7,2981.1L575.8,2974.3L576.9,2967.7L577.9,2961.3L579.0,2955.2L580.1,2949.2L581.1,2943.4L582.2,2937.9L583.3,2932.5L584.4,2927.4L585.4,2922.6L586.5,2917.9L587.6,2913.5L588.6,2909.3L589.7,2905.3L590.8,2901.6L591.8,2898.0L592.9,2894.7L594.0,2891.6L595.0,2888.7L596.1,2886.0L597.2,2883.5L598.2,2881.2L599.3,2879.1L600.4,2877.2L601.5,2875.4L602.5,2873.8L603.6,2872.4L604.7,2871.2L605.7,2870.2L606.8,2869.3L607.9,2868.6L608.9,2868.0L610.0,2867.6L611.1,2867.4L612.1,2867.3L613.2,2867.4L614.3,2867.6L615.3,2868.0L616.4,2868.6L617.5,2869.3L618.6,2870.2L619.6,2871.2L620.7,2872.4L621.8,2873.8L622.8,2875.4L623.9,2877.2L625.0,2879.1L626.0,2881.2L627.1,2883.5L628.2,2886.0L629.2,2888.7L630.3,2891.6L631.4,2894.7L632.4,2898.0L633.5,2901.6L634.6,2905.3L635.7,2909.3L636.7,2913.5L637.8,2917.9L638.9,2922.6L639.9,2927.4L641.0,2932.5L642.1,2937.9L643.1,2943.4L644.2,2949.2L645.3,2955.2L646.3,2961.3L647.4,2967.7L648.5,2974.3L649.5,2981.1L650.6,2988.1L651.7,2995.2L652.8,3002.4L653.8,3009.8L654.9,3017.3L656.0,3024.8L657.0,3032.4L658.1,3040.1L659.2,3047.7L660.2,3055.3L661.3,3062.8L662.4,3070.1L663.4,3077.3L664.5,3084.3L665.6,3091.0L666.6,3084.3L667.7,3077.3L668.8,3070.1L669.9,3062.8L670.9,3055.3L672.0,3047.7L673.1,3040.1L674.1,3032.4L675.2,3024.8L676.3,3017.3L677.3,3009.8L678.4,3002.4L679.5,2995.2L680.5,2988.1L681.6,2981.1L682.7,2974.3L683.7,2967.7L684.8,2961.3L685.9,2955.2L687.0,2949.2L688.0,2943.4L689.1,2937.9L690.2,2932.5L691.2,2927.4L692.3,2922.6L693.4,2917.9L694.4,2913.5L695.5,2909.3L696.6,2905.3L697.6,2901.6L698.7,2898.0L699.8,2894.7L700.9,2891.6L701.9,2888.7L703.0,2886.0L704.1,2883.5L705.1,2881.2L706.2,2879.1L707.3,2877.2L708.3,2875.4L709.4,2873.8L710.5,2872.4L711.5,2871.2L712.6,2870.2L713.7,2869.3L714.7,2868.6L715.8,2868.0L716.9,2867.6L718.0,2867.4L719.0,2867.3L720.1,2867.4L721.2,2867.6L722.2,2868.0L723.3,2868.6L724.4,2869.3L725.4,2870.2L726.5,2871.2L727.6,2872.4L728.6,2873.8L729.7,2875.4L730.8,2877.2L731.8,2879.1L732.9,2881.2L734.0,2883.5L735.1,2886.0L736.1,2888.7L737.2,2891.6L738.3,2894.7L739.3,2898.0L740.4,2901.6L741.5,2905.3L742.5,2909.3L743.6,2913.5L744.7,2917.9L745.7,2922.6L746.8,2927.4L747.9,2932.5L748.9,2937.9L750.0,2943.4L751.1,2949.2L752.2,2955.2L753.2,2961.3L754.3,2967.7L755.4,2974.3L756.4,2981.1L757.5,2988.1L758.6,2995.2L759.6,3002.4L760.7,3009.8L761.8,3017.3L762.8,3024.8L763.9,3032.4L765.0,3040.1L766.0,3047.7L767.1,3055.3L768.2,3062.8L769.3,3070.1L770.3,3077.3L771.4,3084.3L772.5,3091.0L773.5,3084.3L774.6,3077.3L775.7,3070.1L776.7,3062.8L777.8,3055.3L778.9,3047.7L779.9,3040.1L781.0,3032.4L782.1,3024.8L783.1,3017.3L784.2,3009.8L785.3,3002.4L786.4,2995.2L787.4,2988.1L788.5,2981.1L789.6,2974.3L790.6,2967.7L791.7,2961.3L792.8,2955.2L793.8,2949.2L794.9,2943.4L796.0,2937.9L797.0,2932.5L798.1,2927.4L799.2,2922.6L800.2,2917.9L801.3,2913.5L802.4,2909.3L803.5,2905.3L804.5,2901.6L805.6,2898.0L806.7,2894.7L807.7,2891.6L808.8,2888.7L809.9,2886.0L810.9,2883.5L812.0,2881.2L813.1,2879.1L814.1,2877.2L815.2,2875.4L816.3,2873.8L817.3,2872.4L818.4,2871.2L819.5,2870.2L820.6,2869.3L821.6,2868.6L822.7,2868.0L823.8,2867.6L824.8,2867.4L825.9,2867.3L827.0,2867.4L828.0,2867.6L829.1,2868.0L830.2,2868.6L831.2,2869.3L832.3,2870.2L833.4,2871.2L834.5,2872.4L835.5,2873.8L836.6,2875.4L837.7,2877.2L838.7,2879.1L839.8,2881.2L840.9,2883.5L841.9,2886.0L843.0,2888.7L844.1,2891.6L845.1,2894.7L846.2,2898.0L847.3,2901.6L848.3,2905.3L849.4,2909.3L850.5,2913.5L851.6,2917.9L852.6,2922.6L853.7,2927.4L854.8,2932.5L855.8,2937.9L856.9,2943.4L858.0,2949.2L859.0,2955.2L860.1,2961.3L861.2,2967.7L862.2,2974.3L863.3,2981.1L864.4,2988.1L865.4,2995.2L866.5,3002.4L867.6,3009.8L868.7,3017.3L869.7,3024.8L870.8,3032.4L871.9,3040.1L872.9,3047.7L874.0,3055.3L875.1,3062.8L876.1,3070.1L877.2,3077.3L878.3,3084.3L879.3,3091.0L880.4,3084.3L881.5,3077.3L882.5,3070.1L883.6,3062.8L884.7,3055.3L885.8,3047.7L886.8,3040.1L887.9,3032.4L889.0,3024.8L890.0,3017.3L891.1,3009.8L892.2,3002.4L893.2,2995.2L894.3,2988.1L895.4,2981.1L896.4,2974.3L897.5,2967.7L898.6,2961.3L899.6,2955.2L900.7,2949.2L901.8,2943.4L902.9,2937.9L903.9,2932.5L905.0,2927.4L906.1,2922.6L907.1,2917.9L908.2,2913.5L909.3,2909.3L910.3,2905.3L911.4,2901.6L912.5,2898.0L913.5,2894.7L914.6,2891.6L915.7,2888.7L916.7,2886.0L917.8,2883.5L918.9,2881.2L920.0,2879.1L921.0,2877.2L922.1,2875.4L923.2,2873.8L924.2,2872.4L925.3,2871.2L926.4,2870.2L927.4,2869.3L928.5,2868.6L929.6,2868.0L930.6,2867.6L931.7,2867.4L932.8,2867.3L933.8,2867.4L934.9,2867.6L936.0,2868.0L937.1,2868.6L938.1,2869.3L939.2,2870.2L940.3,2871.2L941.3,2872.4L942.4,2873.8L943.5,2875.4L944.5,2877.2L945.6,2879.1L946.7,2881.2L947.7,2883.5L948.8,2886.0L949.9,2888.7L950.9,2891.6L952.0,2894.7L953.1,2898.0L954.2,2901.6L955.2,2905.3L956.3,2909.3L957.4,2913.5L958.4,2917.9L959.5,2922.6L960.6,2927.4L961.6,2932.5L962.7,2937.9L963.8,2943.4L964.8,2949.2L965.9,2955.2L967.0,2961.3L968.1,2967.7L969.1,2974.3L970.2,2981.1L971.3,2988.1L972.3,2995.2L973.4,3002.4L974.5,3009.8L975.5,3017.3L976.6,3024.8L977.7,3032.4L978.7,3040.1L979.8,3047.7L980.9,3055.3L981.9,3062.8L983.0,3070.1L984.1,3077.3L985.2,3084.3L986.2,3091.0L987.3,3084.3L988.4,3077.3L989.4,3070.1L990.5,3062.8L991.6,3055.3L992.6,3047.7L993.7,3040.1L994.8,3032.4L995.8,3024.8L996.9,3017.3L998.0,3009.8L999.0,3002.4L1000.1,2995.2L1001.2,2988.1L1002.3,2981.1L1003.3,2974.3L1004.4,2967.7L1005.5,2961.3L1006.5,2955.2L1007.6,2949.2L1008.7,2943.4L1009.7,2937.9L1010.8,2932.5L1011.9,2927.4L1012.9,2922.6L1014.0,2917.9L1015.1,2913.5L1016.1,2909.3L1017.2,2905.3L1018.3,2901.6L1019.4,2898.0L1020.4,2894.7L1021.5,2891.6L1022.6,2888.7L1023.6,2886.0L1024.7,2883.5L1025.8,2881.2L1026.8,2879.1L1027.9,2877.2L1029.0,2875.4L1030.0,2873.8L1031.1,2872.4L1032.2,2871.2L1033.2,2870.2L1034.3,2869.3L1035.4,2868.6L1036.5,2868.0L1037.5,2867.6L1038.6,2867.4L1039.7,2867.3L1040.7,2867.4L1041.8,2867.6L1042.9,2868.0L1043.9,2868.6L1045.0,2869.3L1046.1,2870.2L1047.1,2871.2L1048.2,2872.4L1049.3,2873.8L1050.3,2875.4L1051.4,2877.2L1052.5,2879.1L1053.6,2881.2L1054.6,2883.5L1055.7,2886.0L1056.8,2888.7L1057.8,2891.6L1058.9,2894.7L1060.0,2898.0L1061.0,2901.6L1062.1,2905.3L1063.2,2909.3L1064.2,2913.5L1065.3,2917.9L1066.4,2922.6L1067.4,2927.4L1068.5,2932.5L1069.6,2937.9L1070.7,2943.4L1071.7,2949.2L1072.8,2955.2L1073.9,2961.3L1074.9,2967.7L1076.0,2974.3L1077.1,2981.1L1078.1,2988.1L1079.2,2995.2L1080.3,3002.4L1081.3,3009.8L1082.4,3017.3L1083.5,3024.8L1084.5,3032.4L1085.6,3040.1L1086.7,3047.7L1087.8,3055.3L1088.8,3062.8L1089.9,3070.1L1091.0,3077.3L1092.0,3084.3L1093.1,3091.0L1094.2,3084.3L1095.2,3077.3L1096.3,3070.1L1097.4,3062.8L1098.4,3055.3L1099.5,3047.7L1100.6,3040.1L1101.7,3032.4L1102.7,3024.8L1103.8,3017.3L1104.9,3009.8L1105.9,3002.4L1107.0,2995.2L1108.1,2988.1L1109.1,2981.1L1110.2,2974.3L1111.3,2967.7L1112.3,2961.3L1113.4,2955.2L1114.5,2949.2L1115.5,2943.4L1116.6,2937.9L1117.7,2932.5L1118.8,2927.4L1119.8,2922.6L1120.9,2917.9L1122.0,2913.5L1123.0,2909.3L1124.1,2905.3L1125.2,2901.6L1126.2,2898.0L1127.3,2894.7L1128.4,2891.6L1129.4,2888.7L1130.5,2886.0L1131.6,2883.5L1132.6,2881.2L1133.7,2879.1L1134.8,2877.2L1135.9,2875.4L1136.9,2873.8L1138.0,2872.4L1139.1,2871.2L1140.1,2870.2L1141.2,2869.3L1142.3,2868.6L1143.3,2868.0L1144.4,2867.6L1145.5,2867.4L1146.5,2867.3L1147.6,2867.4L1148.7,2867.6L1149.7,2868.0L1150.8,2868.6L1151.9,2869.3L1153.0,2870.2L1154.0,2871.2L1155.1,2872.4L1156.2,2873.8L1157.2,2875.4L1158.3,2877.2L1159.4,2879.1L1160.4,2881.2L1161.5,2883.5L1162.6,2886.0L1163.6,2888.7L1164.7,2891.6L1165.8,2894.7L1166.8,2898.0L1167.9,2901.6L1169.0,2905.3L1170.1,2909.3L1171.1,2913.5L1172.2,2917.9L1173.3,2922.6L1174.3,2927.4L1175.4,2932.5L1176.5,2937.9L1177.5,2943.4L1178.6,2949.2L1179.7,2955.2L1180.7,2961.3L1181.8,2967.7L1182.9,2974.3L1183.9,2981.1L1185.0,2988.1L1186.1,2995.2L1187.2,3002.4L1188.2,3009.8L1189.3,3017.3L1190.4,3024.8L1191.4,3032.4L1192.5,3040.1L1193.6,3047.7L1194.6,3055.3L1195.7,3062.8L1196.8,3070.1L1197.8,3077.3L1198.9,3084.3L1200.0,3091.0L1201.0,3084.3L1202.1,3077.3L1203.2,3070.1L1204.3,3062.8L1205.3,3055.3L1206.4,3047.7L1207.5,3040.1L1208.5,3032.4L1209.6,3024.8L1210.7,3017.3L1211.7,3009.8L1212.8,3002.4L1213.9,2995.2L1214.9,2988.1L1216.0,2981.1L1217.1,2974.3L1218.1,2967.7L1219.2,2961.3L1220.3,2955.2L1221.4,2949.2L1222.4,2943.4L1223.5,2937.9L1224.6,2932.5L1225.6,2927.4L1226.7,2922.6L1227.8,2917.9L1228.8,2913.5L1229.9,2909.3L1231.0,2905.3L1232.0,2901.6L1233.1,2898.0L1234.2,2894.7L1235.3,2891.6L1236.3,2888.7L1237.4,2886.0L1238.5,2883.5L1239.5,2881.2L1240.6,2879.1L1241.7,2877.2L1242.7,2875.4L1243.8,2873.8L1244.9,2872.4L1245.9,2871.2L1247.0,2870.2L1248.1,2869.3L1249.1,2868.6L1250.2,2868.0L1251.3,2867.6L1252.4,2867.4L1253.4,2867.3L1254.5,2867.4L1255.6,2867.6L1256.6,2868.0L1257.7,2868.6L1258.8,2869.3L1259.8,2870.2L1260.9,2871.2L1262.0,2872.4L1263.0,2873.8L1264.1,2875.4L1265.2,2877.2L1266.2,2879.1L1267.3,2881.2L1268.4,2883.5L1269.5,2886.0L1270.5,2888.7L1271.6,2891.6L1272.7,2894.7L1273.7,2898.0L1274.8,2901.6L1275.9,2905.3L1276.9,2909.3L1278.0,2913.5L1279.1,2917.9L1280.1,2922.6L1281.2,2927.4L1282.3,2932.5L1283.3,2937.9L1284.4,2943.4L1285.5,2949.2L1286.6,2955.2L1287.6,2961.3L1288.7,2967.7L1289.8,2974.3L1290.8,2981.1L1291.9,2988.1L1293.0,2995.2L1294.0,3002.4L1295.1,3009.8L1296.2,3017.3L1297.2,3024.8L1298.3,3032.4L1299.4,3040.1L1300.4,3047.7L1301.5,3055.3L1302.6,3062.8L1303.7,3070.1L1304.7,3077.3L1305.8,3084.3L1306.9,3091.0L1307.9,3084.3L1309.0,3077.3L1310.1,3070.1L1311.1,3062.8L1312.2,3055.3L1313.3,3047.7L1314.3,3040.1L1315.4,3032.4L1316.5,3024.8L1317.5,3017.3L1318.6,3009.8L1319.7,3002.4L1320.8,2995.2L1321.8,2988.1L1322.9,2981.1L1324.0,2974.3L1325.0,2967.7L1326.1,2961.3L1327.2,2955.2L1328.2,2949.2L1329.3,2943.4L1330.4,2937.9L1331.4,2932.5L1332.5,2927.4L1333.6,2922.6L1334.6,2917.9L1335.7,2913.5L1336.8,2909.3L1337.9,2905.3L1338.9,2901.6L1340.0,2898.0L1341.1,2894.7L1342.1,2891.6L1343.2,2888.7L1344.3,2886.0L1345.3,2883.5L1346.4,2881.2L1347.5,2879.1L1348.5,2877.2L1349.6,2875.4L1350.7,2873.8L1351.7,2872.4L1352.8,2871.2L1353.9,2870.2L1355.0,2869.3L1356.0,2868.6L1357.1,2868.0L1358.2,2867.6L1359.2,2867.4L1360.3,2867.3L1361.4,2867.4L1362.4,2867.6L1363.5,2868.0L1364.6,2868.6L1365.6,2869.3L1366.7,2870.2L1367.8,2871.2L1368.9,2872.4L1369.9,2873.8L1371.0,2875.4L1372.1,2877.2L1373.1,2879.1L1374.2,2881.2L1375.3,2883.5L1376.3,2886.0L1377.4,2888.7L1378.5,2891.6L1379.5,2894.7L1380.6,2898.0L1381.7,2901.6L1382.7,2905.3L1383.8,2909.3L1384.9,2913.5L1386.0,2917.9L1387.0,2922.6L1388.1,2927.4L1389.2,2932.5L1390.2,2937.9L1391.3,2943.4L1392.4,2949.2L1393.4,2955.2L1394.5,2961.3L1395.6,2967.7L1396.6,2974.3L1397.7,2981.1L1398.8,2988.1L1399.8,2995.2L1400.9,3002.4L1402.0,3009.8L1403.1,3017.3L1404.1,3024.8L1405.2,3032.4L1406.3,3040.1L1407.3,3047.7L1408.4,3055.3L1409.5,3062.8L1410.5,3070.1L1411.6,3077.3L1412.7,3084.3L1413.7,3091.0L1414.8,3084.3L1415.9,3077.3L1416.9,3070.1L1418.0,3062.8L1419.1,3055.3L1420.2,3047.7L1421.2,3040.1L1422.3,3032.4L1423.4,3024.8L1424.4,3017.3L1425.5,3009.8L1426.6,3002.4L1427.6,2995.2L1428.7,2988.1L1429.8,2981.1L1430.8,2974.3L1431.9,2967.7L1433.0,2961.3L1434.0,2955.2L1435.1,2949.2L1436.2,2943.4L1437.3,2937.9L1438.3,2932.5L1439.4,2927.4L1440.5,2922.6L1441.5,2917.9L1442.6,2913.5L1443.7,2909.3L1444.7,2905.3L1445.8,2901.6L1446.9,2898.0L1447.9,2894.7L1449.0,2891.6L1450.1,2888.7L1451.1,2886.0L1452.2,2883.5L1453.3,2881.2L1454.4,2879.1L1455.4,2877.2L1456.5,2875.4L1457.6,2873.8L1458.6,2872.4L1459.7,2871.2L1460.8,2870.2L1461.8,2869.3L1462.9,2868.6L1464.0,2868.0L1465.0,2867.6L1466.1,2867.4L1467.2,2867.3L1468.2,2867.4L1469.3,2867.6L1470.4,2868.0L1471.5,2868.6L1472.5,2869.3L1473.6,2870.2L1474.7,2871.2L1475.7,2872.4L1476.8,2873.8L1477.9,2875.4L1478.9,2877.2L1480.0,2879.1L1481.1,2881.2L1482.1,2883.5L1483.2,2886.0L1484.3,2888.7L1485.3,2891.6L1486.4,2894.7L1487.5,2898.0L1488.6,2901.6L1489.6,2905.3L1490.7,2909.3L1491.8,2913.5L1492.8,2917.9L1493.9,2922.6L1495.0,2927.4L1496.0,2932.5L1497.1,2937.9L1498.2,2943.4L1499.2,2949.2L1500.3,2955.2L1501.4,2961.3L1502.5,2967.7L1503.5,2974.3L1504.6,2981.1L1505.7,2988.1L1506.7,2995.2L1507.8,3002.4L1508.9,3009.8L1509.9,3017.3L1511.0,3024.8L1512.1,3032.4L1513.1,3040.1L1514.2,3047.7L1515.3,3055.3L1516.3,3062.8L1517.4,3070.1L1518.5,3077.3L1519.6,3084.3L1520.6,3091.0L1521.7,3084.3L1522.8,3077.3L1523.8,3070.1L1524.9,3062.8L1526.0,3055.3L1527.0,3047.7L1528.1,3040.1L1529.2,3032.4L1530.2,3024.8L1531.3,3017.3L1532.4,3009.8L1533.4,3002.4L1534.5,2995.2L1535.6,2988.1L1536.7,2981.1L1537.7,2974.3L1538.8,2967.7L1539.9,2961.3L1540.9,2955.2L1542.0,2949.2L1543.1,2943.4L1544.1,2937.9L1545.2,2932.5L1546.3,2927.4L1547.3,2922.6L1548.4,2917.9L1549.5,2913.5L1550.5,2909.3L1551.6,2905.3L1552.7,2901.6L1553.8,2898.0L1554.8,2894.7L1555.9,2891.6L1557.0,2888.7L1558.0,2886.0L1559.1,2883.5L1560.2,2881.2L1561.2,2879.1L1562.3,2877.2L1563.4,2875.4L1564.4,2873.8L1565.5,2872.4L1566.6,2871.2L1567.6,2870.2L1568.7,2869.3L1569.8,2868.6L1570.9,2868.0L1571.9,2867.6L1573.0,2867.4L1574.1,2867.3L1575.1,2867.4L1576.2,2867.6L1577.3,2868.0L1578.3,2868.6L1579.4,2869.3L1580.5,2870.2L1581.5,2871.2L1582.6,2872.4L1583.7,2873.8L1584.7,2875.4L1585.8,2877.2L1586.9,2879.1L1588.0,2881.2L1589.0,2883.5L1590.1,2886.0L1591.2,2888.7L1592.2,2891.6L1593.3,2894.7L1594.4,2898.0L1595.4,2901.6L1596.5,2905.3L1597.6,2909.3L1598.6,2913.5L1599.7,2917.9L1600.8,2922.6L1601.8,2927.4L1602.9,2932.5L1604.0,2937.9L1605.1,2943.4L1606.1,2949.2L1607.2,2955.2L1608.3,2961.3L1609.3,2967.7L1610.4,2974.3L1611.5,2981.1L1612.5,2988.1L1613.6,2995.2L1614.7,3002.4L1615.7,3009.8L1616.8,3017.3L1617.9,3024.8L1618.9,3032.4L1620.0,3040.1L1621.1,3047.7L1622.2,3055.3L1623.2,3062.8L1624.3,3070.1L1625.4,3077.3L1626.4,3084.3L1627.5,3091.0L1628.6,3084.3L1629.6,3077.3L1630.7,3070.1L1631.8,3062.8L1632.8,3055.3L1633.9,3047.7L1635.0,3040.1L1636.1,3032.4L1637.1,3024.8L1638.2,3017.3L1639.3,3009.8L1640.3,3002.4L1641.4,2995.2L1642.5,2988.1L1643.5,2981.1L1644.6,2974.3L1645.7,2967.7L1646.7,2961.3L1647.8,2955.2L1648.9,2949.2L1649.9,2943.4L1651.0,2937.9L1652.1,2932.5L1653.2,2927.4L1654.2,2922.6L1655.3,2917.9L1656.4,2913.5L1657.4,2909.3L1658.5,2905.3L1659.6,2901.6L1660.6,2898.0L1661.7,2894.7L1662.8,2891.6L1663.8,2888.7L1664.9,2886.0L1666.0,2883.5L1667.0,2881.2L1668.1,2879.1L1669.2,2877.2L1670.3,2875.4L1671.3,2873.8L1672.4,2872.4L1673.5,2871.2L1674.5,2870.2L1675.6,2869.3L1676.7,2868.6L1677.7,2868.0L1678.8,2867.6L1679.9,2867.4L1680.9,2867.3L1682.0,2867.4L1683.1,2867.6L1684.1,2868.0L1685.2,2868.6L1686.3,2869.3L1687.4,2870.2L1688.4,2871.2L1689.5,2872.4L1690.6,2873.8L1691.6,2875.4L1692.7,2877.2L1693.8,2879.1L1694.8,2881.2L1695.9,2883.5L1697.0,2886.0L1698.0,2888.7L1699.1,2891.6L1700.2,2894.7L1701.2,2898.0L1702.3,2901.6L1703.4,2905.3L1704.5,2909.3L1705.5,2913.5L1706.6,2917.9L1707.7,2922.6L1708.7,2927.4L1709.8,2932.5L1710.9,2937.9L1711.9,2943.4L1713.0,2949.2L1714.1,2955.2L1715.1,2961.3L1716.2,2967.7L1717.3,2974.3L1718.3,2981.1L1719.4,2988.1L1720.5,2995.2L1721.6,3002.4L1722.6,3009.8L1723.7,3017.3L1724.8,3024.8L1725.8,3032.4L1726.9,3040.1L1728.0,3047.7L1729.0,3055.3L1730.1,3062.8L1731.2,3070.1L1732.2,3077.3L1733.3,3084.3L1734.4,3091.0L1735.4,3084.3L1736.5,3077.3L1737.6,3070.1L1738.7,3062.8L1739.7,3055.3L1740.8,3047.7L1741.9,3040.1L1742.9,3032.4L1744.0,3024.8L1745.1,3017.3L1746.1,3009.8L1747.2,3002.4L1748.3,2995.2L1749.3,2988.1L1750.4,2981.1L1751.5,2974.3L1752.5,2967.7L1753.6,2961.3L1754.7,2955.2L1755.8,2949.2L1756.8,2943.4L1757.9,2937.9L1759.0,2932.5L1760.0,2927.4L1761.1,2922.6L1762.2,2917.9L1763.2,2913.5L1764.3,2909.3L1765.4,2905.3L1766.4,2901.6L1767.5,2898.0L1768.6,2894.7L1769.7,2891.6L1770.7,2888.7L1771.8,2886.0L1772.9,2883.5L1773.9,2881.2L1775.0,2879.1L1776.1,2877.2L1777.1,2875.4L1778.2,2873.8L1779.3,2872.4L1780.3,2871.2L1781.4,2870.2L1782.5,2869.3L1783.5,2868.6L1784.6,2868.0L1785.7,2867.6L1786.8,2867.4L1787.8,2867.3L1788.9,2867.4L1790.0,2867.6L1791.0,2868.0L1792.1,2868.6L1793.2,2869.3L1794.2,2870.2L1795.3,2871.2L1796.4,2872.4L1797.4,2873.8L1798.5,2875.4L1799.6,2877.2L1800.6,2879.1L1801.7,2881.2L1802.8,2883.5L1803.9,2886.0L1804.9,2888.7L1806.0,2891.6L1807.1,2894.7L1808.1,2898.0L1809.2,2901.6L1810.3,2905.3L1811.3,2909.3L1812.4,2913.5L1813.5,2917.9L1814.5,2922.6L1815.6,2927.4L1816.7,2932.5L1817.7,2937.9L1818.8,2943.4L1819.9,2949.2L1821.0,2955.2L1822.0,2961.3L1823.1,2967.7L1824.2,2974.3L1825.2,2981.1L1826.3,2988.1L1827.4,2995.2L1828.4,3002.4L1829.5,3009.8L1830.6,3017.3L1831.6,3024.8L1832.7,3032.4L1833.8,3040.1L1834.8,3047.7L1835.9,3055.3L1837.0,3062.8L1838.1,3070.1L1839.1,3077.3L1840.2,3084.3L1841.3,3091.0L1842.3,3084.3L1843.4,3077.3L1844.5,3070.1L1845.5,3062.8L1846.6,3055.3L1847.7,3047.7L1848.7,3040.1L1849.8,3032.4L1850.9,3024.8L1851.9,3017.3L1853.0,3009.8L1854.1,3002.4L1855.2,2995.2L1856.2,2988.1L1857.3,2981.1L1858.4,2974.3L1859.4,2967.7L1860.5,2961.3L1861.6,2955.2L1862.6,2949.2L1863.7,2943.4L1864.8,2937.9L1865.8,2932.5L1866.9,2927.4L1868.0,2922.6L1869.0,2917.9L1870.1,2913.5L1871.2,2909.3L1872.3,2905.3L1873.3,2901.6L1874.4,2898.0L1875.5,2894.7L1876.5,2891.6L1877.6,2888.7L1878.7,2886.0L1879.7,2883.5L1880.8,2881.2L1881.9,2879.1L1882.9,2877.2L1884.0,2875.4L1885.1,2873.8L1886.1,2872.4L1887.2,2871.2L1888.3,2870.2L1889.4,2869.3L1890.4,2868.6L1891.5,2868.0L1892.6,2867.6L1893.6,2867.4L1894.7,2867.3L1895.8,2867.4L1896.8,2867.6L1897.9,2868.0L1899.0,2868.6L1900.0,2869.3L1901.1,2870.2L1902.2,2871.2L1903.3,2872.4L1904.3,2873.8L1905.4,2875.4L1906.5,2877.2L1907.5,2879.1L1908.6,2881.2L1909.7,2883.5L1910.7,2886.0L1911.8,2888.7L1912.9,2891.6L1913.9,2894.7L1915.0,2898.0L1916.1,2901.6L1917.1,2905.3L1918.2,2909.3L1919.3,2913.5L1920.4,2917.9L1921.4,2922.6L1922.5,2927.4L1923.6,2932.5L1924.6,2937.9L1925.7,2943.4L1926.8,2949.2L1927.8,2955.2L1928.9,2961.3L1930.0,2967.7L1931.0,2974.3L1932.1,2981.1L1933.2,2988.1L1934.2,2995.2L1935.3,3002.4L1936.4,3009.8L1937.5,3017.3L1938.5,3024.8L1939.6,3032.4L1940.7,3040.1L1941.7,3047.7L1942.8,3055.3L1943.9,3062.8L1944.9,3070.1L1946.0,3077.3L1947.1,3084.3L1948.1,3091.0L1949.2,3084.3L1950.3,3077.3L1951.3,3070.1L1952.4,3062.8L1953.5,3055.3L1954.6,3047.7L1955.6,3040.1L1956.7,3032.4L1957.8,3024.8L1958.8,3017.3L1959.9,3009.8L1961.0,3002.4L1962.0,2995.2L1963.1,2988.1L1964.2,2981.1L1965.2,2974.3L1966.3,2967.7L1967.4,2961.3L1968.4,2955.2L1969.5,2949.2L1970.6,2943.4L1971.7,2937.9L1972.7,2932.5L1973.8,2927.4L1974.9,2922.6L1975.9,2917.9L1977.0,2913.5L1978.1,2909.3L1979.1,2905.3L1980.2,2901.6L1981.3,2898.0L1982.3,2894.7L1983.4,2891.6L1984.5,2888.7L1985.5,2886.0L1986.6,2883.5L1987.7,2881.2L1988.8,2879.1L1989.8,2877.2L1990.9,2875.4L1992.0,2873.8L1993.0,2872.4L1994.1,2871.2L1995.2,2870.2L1996.2,2869.3L1997.3,2868.6L1998.4,2868.0L1999.4,2867.6L2000.5,2867.4L2001.6,2867.3L2002.6,2867.4L2003.7,2867.6L2004.8,2868.0L2005.9,2868.6L2006.9,2869.3L2008.0,2870.2L2009.1,2871.2L2010.1,2872.4L2011.2,2873.8L2012.3,2875.4L2013.3,2877.2L2014.4,2879.1L2015.5,2881.2L2016.5,2883.5L2017.6,2886.0L2018.7,2888.7L2019.7,2891.6L2020.8,2894.7L2021.9,2898.0L2023.0,2901.6L2024.0,2905.3L2025.1,2909.3L2026.2,2913.5L2027.2,2917.9L2028.3,2922.6L2029.4,2927.4L2030.4,2932.5L2031.5,2937.9L2032.6,2943.4L2033.6,2949.2L2034.7,2955.2L2035.8,2961.3L2036.9,2967.7L2037.9,2974.3L2039.0,2981.1L2040.1,2988.1L2041.1,2995.2L2042.2,3002.4L2043.3,3009.8L2044.3,3017.3L2045.4,3024.8L2046.5,3032.4L2047.5,3040.1L2048.6,3047.7L2049.7,3055.3L2050.7,3062.8L2051.8,3070.1L2052.9,3077.3L2054.0,3084.3L2055.0,3091.0L2056.1,3084.3L2057.2,3077.3L2058.2,3070.1L2059.3,3062.8L2060.4,3055.3L2061.4,3047.7L2062.5,3040.1L2063.6,3032.4L2064.6,3024.8L2065.7,3017.3L2066.8,3009.8L2067.8,3002.4L2068.9,2995.2L2070.0,2988.1L2071.1,2981.1L2072.1,2974.3L2073.2,2967.7L2074.3,2961.3L2075.3,2955.2L2076.4,2949.2L2077.5,2943.4L2078.5,2937.9L2079.6,2932.5L2080.7,2927.4L2081.7,2922.6L2082.8,2917.9L2083.9,2913.5L2084.9,2909.3L2086.0,2905.3L2087.1,2901.6L2088.2,2898.0L2089.2,2894.7L2090.3,2891.6L2091.4,2888.7L2092.4,2886.0L2093.5,2883.5L2094.6,2881.2L2095.6,2879.1L2096.7,2877.2L2097.8,2875.4L2098.8,2873.8L2099.9,2872.4L2101.0,2871.2L2102.0,2870.2L2103.1,2869.3L2104.2,2868.6L2105.3,2868.0L2106.3,2867.6L2107.4,2867.4L2108.5,2867.3L2109.5,2867.4L2110.6,2867.6L2111.7,2868.0L2112.7,2868.6L2113.8,2869.3L2114.9,2870.2L2115.9,2871.2L2117.0,2872.4L2118.1,2873.8L2119.1,2875.4L2120.2,2877.2L2121.3,2879.1L2122.4,2881.2L2123.4,2883.5L2124.5,2886.0L2125.6,2888.7L2126.6,2891.6L2127.7,2894.7L2128.8,2898.0L2129.8,2901.6L2130.9,2905.3L2132.0,2909.3L2133.0,2913.5L2134.1,2917.9L2135.2,2922.6L2136.2,2927.4L2137.3,2932.5L2138.4,2937.9L2139.5,2943.4L2140.5,2949.2L2141.6,2955.2L2142.7,2961.3L2143.7,2967.7L2144.8,2974.3L2145.9,2981.1L2146.9,2988.1L2148.0,2995.2L2149.1,3002.4L2150.1,3009.8L2151.2,3017.3L2152.3,3024.8L2153.3,3032.4L2154.4,3040.1L2155.5,3047.7L2156.6,3055.3L2157.6,3062.8L2158.7,3070.1L2159.8,3077.3L2160.8,3084.3L2161.9,3091.0L2163.0,3084.3L2164.0,3077.3L2165.1,3070.1L2166.2,3062.8L2167.2,3055.3L2168.3,3047.7L2169.4,3040.1L2170.5,3032.4L2171.5,3024.8L2172.6,3017.3L2173.7,3009.8L2174.7,3002.4L2175.8,2995.2L2176.9,2988.1L2177.9,2981.1L2179.0,2974.3L2180.1,2967.7L2181.1,2961.3L2182.2,2955.2L2183.3,2949.2L2184.3,2943.4L2185.4,2937.9L2186.5,2932.5L2187.6,2927.4L2188.6,2922.6L2189.7,2917.9L2190.8,2913.5L2191.8,2909.3L2192.9,2905.3L2194.0,2901.6L2195.0,2898.0L2196.1,2894.7L2197.2,2891.6L2198.2,2888.7L2199.3,2886.0L2200.4,2883.5L2201.4,2881.2L2202.5,2879.1L2203.6,2877.2L2204.7,2875.4L2205.7,2873.8L2206.8,2872.4L2207.9,2871.2L2208.9,2870.2L2210.0,2869.3L2211.1,2868.6L2212.1,2868.0L2213.2,2867.6L2214.3,2867.4L2215.3,2867.3" fill="none" stroke="#e00000" stroke-width="4.4" stroke-linejoin="round"/>
<path d="M287.55,2993.7L2204.45,2993.7" fill="none" stroke="#e00000" stroke-width="4.3" stroke-linecap="round" stroke-dasharray="22.4 17.056"/>
<circle cx="716.2" cy="2867.3" r="10.4" fill="none" stroke="#00b050" stroke-width="6.4"/>
<circle cx="774.9" cy="3082" r="10.4" fill="none" stroke="#7030a0" stroke-width="6.6"/>
<line x1="288" y1="3105.5" x2="2217.4" y2="3105.5" stroke="#202020" stroke-width="4.6" />
<line x1="1252.66" y1="3097" x2="1252.66" y2="3105.3" stroke="#202020" stroke-width="3.5" />
<line x1="1733.89" y1="3097" x2="1733.89" y2="3105.3" stroke="#202020" stroke-width="3.5" />
<line x1="2215.12" y1="3097" x2="2215.12" y2="3105.3" stroke="#202020" stroke-width="3.5" />
<circle cx="936.8" cy="2819.9" r="10.8" fill="none" stroke="#00b050" stroke-width="6.2"/>
<circle cx="1398.8" cy="2824" r="10.8" fill="none" stroke="#7030a0" stroke-width="6.2"/>
<path d="M1747,2826.6L1899,2826.6" fill="none" stroke="#e00000" stroke-width="6.6" stroke-dasharray="23.5 10.5"/>
<text x="351.8" y="74.8" font-size="65" fill="#808080" textLength="344.4" lengthAdjust="spacingAndGlyphs" >TRG 9-phase</text>
<text x="954.1" y="74.8" font-size="65" fill="#808080" >PMR</text>
<text x="1390.9" y="74.8" font-size="65" fill="#808080" >WFR</text>
<text x="1809.4" y="70.9" font-size="65" fill="#808080" textLength="341.6" lengthAdjust="spacingAndGlyphs" >TRG 3-phase</text>
<text x="205.7" y="161.4" font-size="65" fill="#808080" textLength="98.9" lengthAdjust="spacingAndGlyphs" >750</text>
<text x="208.7" y="267.9" font-size="65" fill="#808080" textLength="96.2" lengthAdjust="spacingAndGlyphs" >500</text>
<text x="204.6" y="374.4" font-size="65" fill="#808080" >250</text>
<text x="196.5" y="483.4" font-size="65" fill="#808080" >0.00</text>
<text x="186.6" y="591.9" font-size="65" fill="#808080" textLength="117.3" lengthAdjust="spacingAndGlyphs" >-250</text>
<text x="187.6" y="697.9" font-size="65" fill="#808080" >-500</text>
<text x="187.6" y="805.4" font-size="65" fill="#808080" >-750</text>
<text x="347.5" y="534.4" font-size="65" fill="#808080" textLength="30.7" lengthAdjust="spacingAndGlyphs" >0</text>
<text x="632.2" y="534.4" font-size="65" fill="#808080" >60</text>
<text x="920.3" y="534.4" font-size="65" fill="#808080" textLength="94.4" lengthAdjust="spacingAndGlyphs" >120</text>
<text x="1219.3" y="534.4" font-size="65" fill="#808080" textLength="93.9" lengthAdjust="spacingAndGlyphs" >180</text>
<text x="1515.5" y="534.4" font-size="65" fill="#808080" >240</text>
<text x="1814.9" y="534.4" font-size="65" fill="#808080" >300</text>
<text x="2114.9" y="534.4" font-size="65" fill="#808080" >360</text>
<text x="971.9" y="797.5" font-size="65" fill="#808080" textLength="461.0" lengthAdjust="spacingAndGlyphs" >Angle (elec. deg.)</text>
<text transform="translate(125.7,396.5) rotate(-90)" x="-157.4" y="0" font-size="66" fill="#808080">Voltage (V)</text>
<text x="1256.9" y="182.5" font-size="43" fill="#000" >Zoomed in</text>
<text x="237.2" y="991.4" font-size="65" fill="#808080" >540</text>
<text x="237.2" y="1099.1" font-size="65" fill="#808080" >520</text>
<text x="237.2" y="1209.8" font-size="65" fill="#808080" >500</text>
<text x="234.4" y="1325.1" font-size="65" fill="#808080" >480</text>
<text x="233.6" y="1439.9" font-size="65" fill="#808080" >460</text>
<text x="310.5" y="1486.8" font-size="65" fill="#808080" >90</text>
<text x="483.7" y="1486.8" font-size="65" fill="#808080" textLength="94.2" lengthAdjust="spacingAndGlyphs" >120</text>
<text x="737.7" y="1486.8" font-size="65" fill="#808080" textLength="91.8" lengthAdjust="spacingAndGlyphs" >150</text>
<text x="1002.8" y="1486.8" font-size="65" fill="#808080" textLength="94.2" lengthAdjust="spacingAndGlyphs" >180</text>
<text x="1254.7" y="1486.8" font-size="65" fill="#808080" >210</text>
<text x="664.2" y="1564.0" font-size="65" fill="#808080" textLength="463.0" lengthAdjust="spacingAndGlyphs" >Angle (elec. deg.)</text>
<text transform="translate(215.8,1155.5) rotate(-90)" x="-157.4" y="0" font-size="66" fill="#808080">Voltage (V)</text>
<text x="960.3" y="1193.3" font-size="65" fill="#808080" textLength="312.9" lengthAdjust="spacingAndGlyphs" >4.2% =21 V</text>
<text x="1096" y="1706" font-size="84" fill="#000">(<tspan font-weight="bold">a</tspan>)</text>
<text x="887.5" y="1825.0" font-size="68" fill="#808080" >Phase 1</text>
<text x="1329.6" y="1817.5" font-size="68" fill="#808080" >Phase 2</text>
<text x="153.5" y="1890.4" font-size="68" fill="#808080" >500</text>
<text x="148.0" y="2003.4" font-size="68" fill="#808080" textLength="104.7" lengthAdjust="spacingAndGlyphs" >250</text>
<text x="142.4" y="2116.9" font-size="68" fill="#808080" >0.00</text>
<text x="130.0" y="2229.4" font-size="68" fill="#808080" >-250</text>
<text x="132.5" y="2342.8" font-size="68" fill="#808080" >-500</text>
<text x="294.0" y="2182.5" font-size="68" fill="#808080" >0</text>
<text x="582.8" y="2182.5" font-size="68" fill="#808080" >60</text>
<text x="886.9" y="2182.5" font-size="68" fill="#808080" >120</text>
<text x="1204.2" y="2182.5" font-size="68" fill="#808080" >180</text>
<text x="1519.8" y="2182.5" font-size="68" fill="#808080" >240</text>
<text x="1837.4" y="2182.5" font-size="68" fill="#808080" >300</text>
<text x="2153.7" y="2182.5" font-size="68" fill="#808080" >360</text>
<text x="938.6" y="2430.0" font-size="68" fill="#808080" textLength="489.7" lengthAdjust="spacingAndGlyphs" >Angle (elec. deg.)</text>
<text transform="translate(81.0,2063.0) rotate(-90)" x="-166.0" y="0" font-size="69.6" fill="#808080">Voltage (V)</text>
<text x="1171.1" y="2536.5" font-size="81" fill="#000" >(b)</text>
<text x="381.3" y="2687.0" font-size="45.7" fill="#808080" >Phase 1 – Phase 2</text>
<text x="979.1" y="2833.0" font-size="68" fill="#808080" textLength="285.1" lengthAdjust="spacingAndGlyphs" >Vrdc_max</text>
<text x="1424.8" y="2833.0" font-size="68" fill="#808080" >Vrdc_min</text>
<text x="1909.0" y="2829.5" font-size="68" fill="#808080" textLength="261.6" lengthAdjust="spacingAndGlyphs" >Vrdc_ave</text>
<text x="101.0" y="2894.8" font-size="68" fill="#808080" textLength="185.4" lengthAdjust="spacingAndGlyphs" >1034.5</text>
<text x="147.0" y="3007.7" font-size="68" fill="#808080" textLength="131.8" lengthAdjust="spacingAndGlyphs" >1034</text>
<text x="89.0" y="3114.2" font-size="68" fill="#808080" textLength="185.0" lengthAdjust="spacingAndGlyphs" >1033.5</text>
<text x="287.4" y="3161.5" font-size="68" fill="#808080" >0</text>
<text x="579.1" y="3161.5" font-size="68" fill="#808080" >60</text>
<text x="878.5" y="3161.5" font-size="68" fill="#808080" >120</text>
<text x="1190.5" y="3161.5" font-size="68" fill="#808080" textLength="104.3" lengthAdjust="spacingAndGlyphs" >180</text>
<text x="1503.8" y="3161.5" font-size="68" fill="#808080" >240</text>
<text x="1814.7" y="3161.5" font-size="68" fill="#808080" textLength="104.0" lengthAdjust="spacingAndGlyphs" >300</text>
<text x="2127.7" y="3161.5" font-size="68" fill="#808080" >360</text>
<text x="698.4" y="3154.1" font-size="45" fill="#808080" >80</text>
<text x="752.6" y="3157.3" font-size="45" fill="#808080" >90</text>
<text x="906.0" y="3241.5" font-size="68" fill="#808080" textLength="492.3" lengthAdjust="spacingAndGlyphs" >Angle (elec. deg.)</text>
<text transform="translate(81.0,2969.0) rotate(-90)" x="-166.0" y="0" font-size="69.6" fill="#808080">Voltage (V)</text>
<text x="1099" y="3382" font-size="84" fill="#000">(<tspan font-weight="bold">c</tspan>)</text>
</svg>
</body></html>
